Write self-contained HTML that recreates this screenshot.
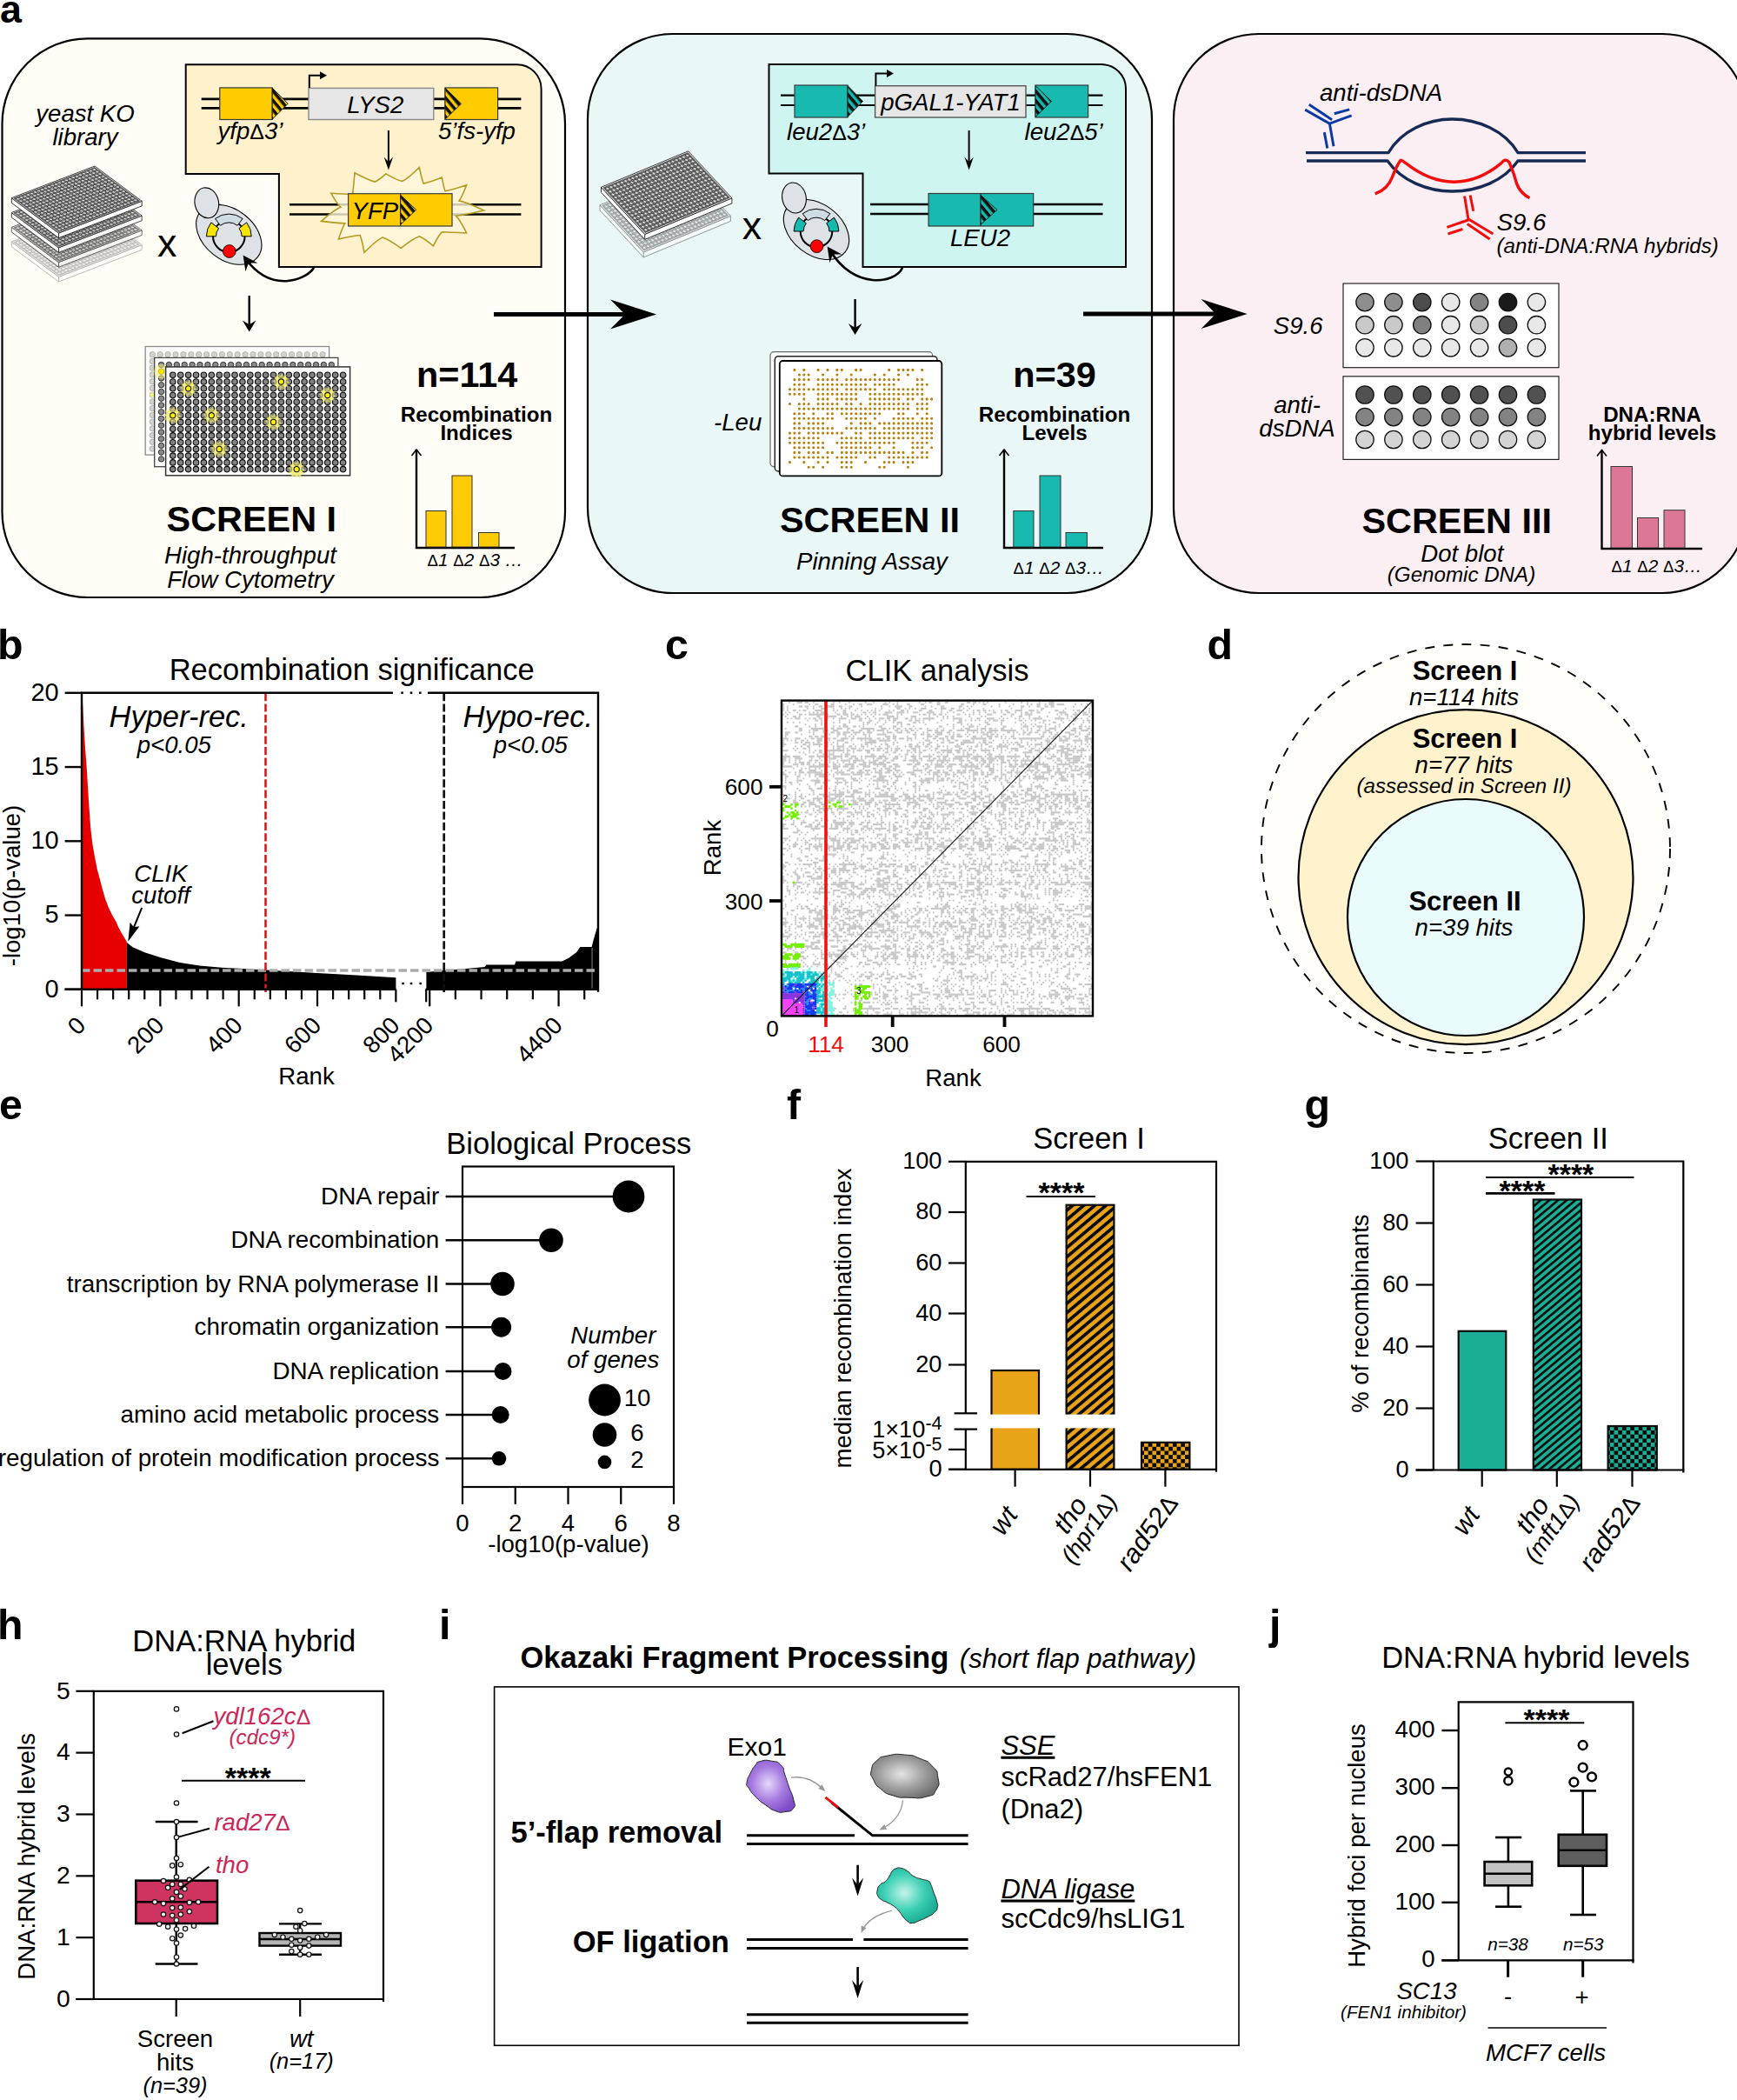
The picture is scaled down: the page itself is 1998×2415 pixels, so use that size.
<!DOCTYPE html>
<html><head><meta charset="utf-8"><title>Figure</title>
<style>html,body{margin:0;padding:0;background:#fff}svg{display:block}text{font-family:"Liberation Sans",sans-serif}</style></head>
<body>
<svg width="1998" height="2415" viewBox="0 0 1998 2415">
<defs>
<pattern id="strY" width="7" height="7" patternUnits="userSpaceOnUse" patternTransform="rotate(50)"><rect width="7" height="7" fill="#FFCC00"/><rect width="7" height="3.6" fill="#111"/></pattern>
<pattern id="strT" width="7" height="7" patternUnits="userSpaceOnUse" patternTransform="rotate(50)"><rect width="7" height="7" fill="#18B9AE"/><rect width="7" height="3.6" fill="#111"/></pattern>
<pattern id="wl" width="1" height="1" patternUnits="userSpaceOnUse"><rect width="1" height="1" fill="#efefef"/><circle cx=".5" cy=".5" r=".45" fill="#242424"/><circle cx=".5" cy=".5" r=".2" fill="#a8a8a8"/></pattern>
<pattern id="hatO" width="8.2" height="8.2" patternUnits="userSpaceOnUse" patternTransform="rotate(-40)"><rect width="8.2" height="8.2" fill="#E9A319"/><rect width="8.2" height="3.7" fill="#0a0a0a"/></pattern>
<pattern id="hatG" width="6.4" height="6.4" patternUnits="userSpaceOnUse" patternTransform="rotate(-40)"><rect width="6.4" height="6.4" fill="#1BAE96"/><rect width="6.4" height="2.6" fill="#0a0a0a"/></pattern>
<pattern id="chkO" width="9.4" height="9.4" patternUnits="userSpaceOnUse"><rect width="9.4" height="9.4" fill="#E9A319"/><rect width="4.7" height="4.7" fill="#0a0a0a"/><rect x="4.7" y="4.7" width="4.7" height="4.7" fill="#0a0a0a"/></pattern>
<pattern id="chkG" width="9.4" height="9.4" patternUnits="userSpaceOnUse"><rect width="9.4" height="9.4" fill="#1BAE96"/><rect width="4.7" height="4.7" fill="#0a0a0a"/><rect x="4.7" y="4.7" width="4.7" height="4.7" fill="#0a0a0a"/></pattern>
<radialGradient id="gP" cx="45%" cy="45%" r="60%"><stop offset="0" stop-color="#E6D8FA"/><stop offset="0.55" stop-color="#A67BE0"/><stop offset="1" stop-color="#7E4CC8"/></radialGradient>
<radialGradient id="gG" cx="45%" cy="45%" r="60%"><stop offset="0" stop-color="#E4E4E4"/><stop offset="0.6" stop-color="#9A9A9A"/><stop offset="1" stop-color="#6E6E6E"/></radialGradient>
<radialGradient id="gT" cx="45%" cy="45%" r="60%"><stop offset="0" stop-color="#C4F5EA"/><stop offset="0.55" stop-color="#3CCFB4"/><stop offset="1" stop-color="#17A890"/></radialGradient>
</defs>
<rect width="1998" height="2415" fill="#fff"/>
<text x="0" y="26.3" font-size="44.85" font-weight="bold">a</text>
<rect x="2.5" y="44.3" width="647.5" height="642.7" rx="98" ry="98" fill="#FFFDF6" stroke="#000" stroke-width="2.2"/>
<rect x="676" y="39" width="649" height="643" rx="98" ry="98" fill="#E9F7F6" stroke="#000" stroke-width="2.2"/>
<rect x="1350" y="39" width="660" height="643" rx="98" ry="98" fill="#FCEFF3" stroke="#000" stroke-width="2.2"/>
<path d="M213.7 74.2 H594.6 A28 28 0 0 1 622.6 102.2 V307 H320.9 V199.9 H213.7 Z" fill="#FEF1CB" stroke="#000" stroke-width="2"/>
<line x1="231.7" y1="113.8" x2="599.4" y2="113.8" stroke="#000" stroke-width="2.8"/>
<line x1="231.7" y1="124.4" x2="599.4" y2="124.4" stroke="#000" stroke-width="2.8"/>
<rect x="252.8" y="100.9" width="60.4" height="36.6" fill="#FFCC00" stroke="#3a3a3a" stroke-width="1.2"/>
<path d="M313.2 101.2 L331.2 119.2 L313.2 137.2 Z" fill="url(#strY)" stroke="#222" stroke-width="1"/>
<rect x="355.0" y="101.4" width="143.8" height="36.1" fill="#E6E6E6" stroke="#8a8a8a" stroke-width="1.4"/>
<path d="M355.8 101 V86.8 H369" fill="none" stroke="#000" stroke-width="2"/>
<path d="M376 86.8 L368 82.3 L368 91.3 Z" fill="#000"/>
<rect x="512.0" y="100.9" width="60.6" height="36.6" fill="#FFCC00" stroke="#3a3a3a" stroke-width="1.2"/>
<path d="M512 101.2 L530.5 119.2 L512 137.2 Z" fill="url(#strY)" stroke="#222" stroke-width="1"/>
<text x="431.8" y="129.9" font-size="27.6" text-anchor="middle" font-style="italic">LYS2</text>
<text x="250.5" y="160.3" font-size="27.6" font-style="italic">yfp<tspan font-style="normal" font-size="90%">Δ</tspan>3’</text>
<text x="504" y="160.3" font-size="27.6" font-style="italic">5’fs-yfp</text>
<line x1="446.9" y1="150" x2="446.9" y2="186.5" stroke="#000" stroke-width="2"/>
<path d="M446.9 195.5 L441.7 180.5 L446.9 186.2 L452.09999999999997 180.5 Z" fill="#000"/>
<line x1="333" y1="235.3" x2="599.4" y2="235.3" stroke="#000" stroke-width="2.6"/>
<line x1="333" y1="246.5" x2="599.4" y2="246.5" stroke="#000" stroke-width="2.6"/>
<path d="M408.0 198.7 Q423.3 207.0 431.5 209.1 Q435.8 207.2 443.9 199.9 Q456.0 206.8 462.5 208.6 Q469.4 205.4 482.3 192.5 Q485.5 207.3 487.2 211.1 Q494.6 209.7 508.3 204.1 Q510.7 216.6 512.0 219.7 Q520.6 218.3 536.7 212.8 Q531.1 227.2 528.1 230.9 Q538.0 233.1 556.5 242.0 Q535.6 247.0 524.3 248.2 Q528.7 252.2 536.7 268.0 Q518.2 267.0 508.3 266.8 Q504.8 270.0 498.4 282.8 Q487.9 273.9 482.3 271.7 Q474.9 274.4 461.2 285.3 Q447.5 275.4 440.2 272.9 Q432.8 276.4 419.1 290.3 Q415.9 274.4 414.2 270.5 Q405.5 271.4 389.4 274.9 Q394.3 260.5 396.9 256.9 Q387.3 256.4 369.6 254.4 Q384.1 241.5 391.9 238.3 Q388.0 235.1 380.8 222.2 Q396.9 223.2 405.5 223.4 Q406.4 218.5 408.0 198.7 Z" fill="#FFF8DC" fill-opacity="0.8" stroke="#B39A22" stroke-width="1.6" stroke-linejoin="miter"/>
<rect x="400.6" y="222.7" width="119.4" height="37.3" fill="#FFCC00" stroke="#3a3a3a" stroke-width="1.2"/>
<line x1="460.7" y1="222.7" x2="460.7" y2="260" stroke="#222" stroke-width="1"/>
<path d="M460.7 224.3 L478.7 241.3 L460.7 258.3 Z" fill="url(#strY)" stroke="#222" stroke-width="1"/>
<text x="404.5" y="252.4" font-size="27.6" font-style="italic">YFP</text>
<text x="98" y="140" font-size="27.6" text-anchor="middle" font-style="italic">yeast KO</text>
<text x="98" y="167" font-size="27.6" text-anchor="middle" font-style="italic">library</text>
<g opacity="0.35">
<path d="M13.3 278.1 L67.5 318.4 L163.2 281.7 V287.3 L67.5 324.0 L13.3 283.70000000000005 Z" fill="#fff" stroke="#222" stroke-width="0.9"/>
<path d="M67.5 318.4 V324.0" stroke="#222" stroke-width="0.9"/>
<path d="M13.3 278.1 L109.0 241.4 L163.2 281.7 L67.5 318.4 Z" fill="#fff" stroke="#222" stroke-width="0.9"/>
<g transform="matrix(3.9875 -1.5292 3.3875 2.5187 13.3 278.1)"><rect x="0.35" y="0.35" width="23.3" height="15.3" fill="url(#wl)" stroke="#222" stroke-width="0.12"/></g>
</g>
<g opacity="0.75">
<path d="M13.3 261.3 L67.5 301.6 L163.2 264.9 V270.5 L67.5 307.2 L13.3 266.90000000000003 Z" fill="#fff" stroke="#222" stroke-width="0.9"/>
<path d="M67.5 301.6 V307.2" stroke="#222" stroke-width="0.9"/>
<path d="M13.3 261.3 L109.0 224.6 L163.2 264.9 L67.5 301.6 Z" fill="#fff" stroke="#222" stroke-width="0.9"/>
<g transform="matrix(3.9875 -1.5292 3.3875 2.5187 13.3 261.3)"><rect x="0.35" y="0.35" width="23.3" height="15.3" fill="url(#wl)" stroke="#222" stroke-width="0.12"/></g>
</g>
<g opacity="0.92">
<path d="M13.3 244.5 L67.5 284.8 L163.2 248.1 V253.7 L67.5 290.4 L13.3 250.1 Z" fill="#fff" stroke="#222" stroke-width="0.9"/>
<path d="M67.5 284.8 V290.4" stroke="#222" stroke-width="0.9"/>
<path d="M13.3 244.5 L109.0 207.8 L163.2 248.1 L67.5 284.8 Z" fill="#fff" stroke="#222" stroke-width="0.9"/>
<g transform="matrix(3.9875 -1.5292 3.3875 2.5187 13.3 244.5)"><rect x="0.35" y="0.35" width="23.3" height="15.3" fill="url(#wl)" stroke="#222" stroke-width="0.12"/></g>
</g>
<g opacity="1">
<path d="M13.3 227.7 L67.5 268.0 L163.2 231.3 V236.9 L67.5 273.6 L13.3 233.29999999999998 Z" fill="#fff" stroke="#222" stroke-width="0.9"/>
<path d="M67.5 268.0 V273.6" stroke="#222" stroke-width="0.9"/>
<path d="M13.3 227.7 L109.0 191.0 L163.2 231.3 L67.5 268.0 Z" fill="#fff" stroke="#222" stroke-width="0.9"/>
<g transform="matrix(3.9875 -1.5292 3.3875 2.5187 13.3 227.7)"><rect x="0.35" y="0.35" width="23.3" height="15.3" fill="url(#wl)" stroke="#222" stroke-width="0.12"/></g>
</g>
<text x="192.3" y="295.3" font-size="44.85" text-anchor="middle">x</text>
<ellipse cx="263.3" cy="269.8" rx="42" ry="29" fill="#DCE2E5" stroke="#000" stroke-width="1.1" transform="rotate(38 263.3 269.8)"/>
<ellipse cx="237.8" cy="233.3" rx="13.7" ry="17.6" fill="#DCE2E5" stroke="#000" stroke-width="1.1" transform="rotate(-12 237.8 233.3)"/>
<circle cx="263.3" cy="271.8" r="18.3" fill="none" stroke="#000" stroke-width="2"/>
<circle cx="263.3" cy="271.8" r="18.3" fill="none" stroke="#E8EEF0" stroke-width="0"/>
<path d="M247.5 251.5 A25.700000000000003 25.700000000000003 0 0 1 279.1 251.5 L273.1 259.3 A15.9 15.9 0 0 0 253.5 259.3 Z" fill="#CFDDE2" stroke="#000" stroke-width="1"/>
<path d="M283.7 255.9 A25.9 25.9 0 0 1 289.2 271.8 L278.2 271.8 A14.9 14.9 0 0 0 275.0 262.6 Z" fill="#F5E400" stroke="#000" stroke-width="1"/>
<path d="M237.4 271.8 A25.9 25.9 0 0 1 242.9 255.9 L251.6 262.6 A14.9 14.9 0 0 0 248.4 271.8 Z" fill="#F5E400" stroke="#000" stroke-width="1"/>
<circle cx="263.8" cy="289.0" r="7.4" fill="#F00" stroke="#000" stroke-width="0.8"/>
<path d="M361 308 C352 322 312 338 282.5 297.5" fill="none" stroke="#000" stroke-width="2.6"/>
<path d="M0 0 L-17 -8.5 L-11 0 L-17 8.5 Z" fill="#000" transform="translate(282.5 297.5) rotate(-125) translate(5 0)"/>
<line x1="286.7" y1="340" x2="286.7" y2="373.59999999999997" stroke="#000" stroke-width="2.4"/>
<path d="M286.7 381.4 L278.9 368.4 L286.7 373.34 L294.5 368.4 Z" fill="#000"/>
<rect x="167.2" y="398.5" width="211.4" height="124.6" fill="#fff" stroke="#8a8a8a" stroke-width="1.3"/>
<circle cx="175.3" cy="407.7" r="3.2" fill="#D2D2CB" stroke="#aaa" stroke-width="0.8"/>
<circle cx="184.2" cy="407.7" r="3.2" fill="#D2D2CB" stroke="#aaa" stroke-width="0.8"/>
<circle cx="193.1" cy="407.7" r="3.2" fill="#D2D2CB" stroke="#aaa" stroke-width="0.8"/>
<circle cx="202.0" cy="407.7" r="3.2" fill="#D2D2CB" stroke="#aaa" stroke-width="0.8"/>
<circle cx="210.9" cy="407.7" r="3.2" fill="#D2D2CB" stroke="#aaa" stroke-width="0.8"/>
<circle cx="219.8" cy="407.7" r="3.2" fill="#D2D2CB" stroke="#aaa" stroke-width="0.8"/>
<circle cx="228.7" cy="407.7" r="3.2" fill="#D2D2CB" stroke="#aaa" stroke-width="0.8"/>
<circle cx="237.6" cy="407.7" r="3.2" fill="#D2D2CB" stroke="#aaa" stroke-width="0.8"/>
<circle cx="246.5" cy="407.7" r="3.2" fill="#D2D2CB" stroke="#aaa" stroke-width="0.8"/>
<circle cx="255.4" cy="407.7" r="3.2" fill="#D2D2CB" stroke="#aaa" stroke-width="0.8"/>
<circle cx="264.3" cy="407.7" r="3.2" fill="#D2D2CB" stroke="#aaa" stroke-width="0.8"/>
<circle cx="273.2" cy="407.7" r="3.2" fill="#D2D2CB" stroke="#aaa" stroke-width="0.8"/>
<circle cx="282.1" cy="407.7" r="3.2" fill="#D2D2CB" stroke="#aaa" stroke-width="0.8"/>
<circle cx="291.0" cy="407.7" r="3.2" fill="#D2D2CB" stroke="#aaa" stroke-width="0.8"/>
<circle cx="299.9" cy="407.7" r="3.2" fill="#D2D2CB" stroke="#aaa" stroke-width="0.8"/>
<circle cx="308.8" cy="407.7" r="3.2" fill="#D2D2CB" stroke="#aaa" stroke-width="0.8"/>
<circle cx="317.7" cy="407.7" r="3.2" fill="#D2D2CB" stroke="#aaa" stroke-width="0.8"/>
<circle cx="326.6" cy="407.7" r="3.2" fill="#D2D2CB" stroke="#aaa" stroke-width="0.8"/>
<circle cx="335.5" cy="407.7" r="3.2" fill="#D2D2CB" stroke="#aaa" stroke-width="0.8"/>
<circle cx="344.4" cy="407.7" r="3.2" fill="#D2D2CB" stroke="#aaa" stroke-width="0.8"/>
<circle cx="353.3" cy="407.7" r="3.2" fill="#D2D2CB" stroke="#aaa" stroke-width="0.8"/>
<circle cx="362.2" cy="407.7" r="3.2" fill="#D2D2CB" stroke="#aaa" stroke-width="0.8"/>
<circle cx="371.1" cy="407.7" r="3.2" fill="#D2D2CB" stroke="#aaa" stroke-width="0.8"/>
<circle cx="175.3" cy="415.4" r="3.2" fill="#D2D2CB" stroke="#aaa" stroke-width="0.8"/>
<circle cx="175.3" cy="423.2" r="3.2" fill="#D2D2CB" stroke="#aaa" stroke-width="0.8"/>
<circle cx="175.3" cy="430.9" r="3.2" fill="#D2D2CB" stroke="#aaa" stroke-width="0.8"/>
<circle cx="175.3" cy="438.7" r="3.2" fill="#D2D2CB" stroke="#aaa" stroke-width="0.8"/>
<circle cx="175.3" cy="446.4" r="3.2" fill="#D2D2CB" stroke="#aaa" stroke-width="0.8"/>
<circle cx="175.3" cy="454.1" r="3.2" fill="#D2D2CB" stroke="#aaa" stroke-width="0.8"/>
<circle cx="175.3" cy="461.9" r="3.2" fill="#D2D2CB" stroke="#aaa" stroke-width="0.8"/>
<circle cx="175.3" cy="469.6" r="3.2" fill="#D2D2CB" stroke="#aaa" stroke-width="0.8"/>
<circle cx="175.3" cy="477.4" r="3.2" fill="#D2D2CB" stroke="#aaa" stroke-width="0.8"/>
<circle cx="175.3" cy="485.1" r="3.2" fill="#D2D2CB" stroke="#aaa" stroke-width="0.8"/>
<circle cx="175.3" cy="492.8" r="3.2" fill="#D2D2CB" stroke="#aaa" stroke-width="0.8"/>
<circle cx="175.3" cy="500.6" r="3.2" fill="#D2D2CB" stroke="#aaa" stroke-width="0.8"/>
<circle cx="175.3" cy="508.3" r="3.2" fill="#D2D2CB" stroke="#aaa" stroke-width="0.8"/>
<circle cx="175.3" cy="516.1" r="3.2" fill="#D2D2CB" stroke="#aaa" stroke-width="0.8"/>
<circle cx="175.3" cy="454.0" r="2.8" fill="#F5F080" stroke="none" stroke-width="1"/>
<rect x="177.7" y="411.4" width="211.2" height="125.3" fill="#fff" stroke="#444" stroke-width="1.3"/>
<circle cx="185.5" cy="419.5" r="3.2" fill="#8a8a8a" stroke="#222" stroke-width="0.9"/>
<circle cx="194.4" cy="419.5" r="3.2" fill="#8a8a8a" stroke="#222" stroke-width="0.9"/>
<circle cx="203.3" cy="419.5" r="3.2" fill="#8a8a8a" stroke="#222" stroke-width="0.9"/>
<circle cx="212.2" cy="419.5" r="3.2" fill="#8a8a8a" stroke="#222" stroke-width="0.9"/>
<circle cx="221.1" cy="419.5" r="3.2" fill="#8a8a8a" stroke="#222" stroke-width="0.9"/>
<circle cx="230.0" cy="419.5" r="3.2" fill="#8a8a8a" stroke="#222" stroke-width="0.9"/>
<circle cx="238.9" cy="419.5" r="3.2" fill="#8a8a8a" stroke="#222" stroke-width="0.9"/>
<circle cx="247.8" cy="419.5" r="3.2" fill="#8a8a8a" stroke="#222" stroke-width="0.9"/>
<circle cx="256.7" cy="419.5" r="3.2" fill="#8a8a8a" stroke="#222" stroke-width="0.9"/>
<circle cx="265.6" cy="419.5" r="3.2" fill="#8a8a8a" stroke="#222" stroke-width="0.9"/>
<circle cx="274.5" cy="419.5" r="3.2" fill="#8a8a8a" stroke="#222" stroke-width="0.9"/>
<circle cx="283.4" cy="419.5" r="3.2" fill="#8a8a8a" stroke="#222" stroke-width="0.9"/>
<circle cx="292.3" cy="419.5" r="3.2" fill="#8a8a8a" stroke="#222" stroke-width="0.9"/>
<circle cx="301.2" cy="419.5" r="3.2" fill="#8a8a8a" stroke="#222" stroke-width="0.9"/>
<circle cx="310.1" cy="419.5" r="3.2" fill="#8a8a8a" stroke="#222" stroke-width="0.9"/>
<circle cx="319.0" cy="419.5" r="3.2" fill="#8a8a8a" stroke="#222" stroke-width="0.9"/>
<circle cx="327.9" cy="419.5" r="3.2" fill="#8a8a8a" stroke="#222" stroke-width="0.9"/>
<circle cx="336.8" cy="419.5" r="3.2" fill="#8a8a8a" stroke="#222" stroke-width="0.9"/>
<circle cx="345.7" cy="419.5" r="3.2" fill="#8a8a8a" stroke="#222" stroke-width="0.9"/>
<circle cx="354.6" cy="419.5" r="3.2" fill="#8a8a8a" stroke="#222" stroke-width="0.9"/>
<circle cx="363.5" cy="419.5" r="3.2" fill="#8a8a8a" stroke="#222" stroke-width="0.9"/>
<circle cx="372.4" cy="419.5" r="3.2" fill="#8a8a8a" stroke="#222" stroke-width="0.9"/>
<circle cx="381.3" cy="419.5" r="3.2" fill="#8a8a8a" stroke="#222" stroke-width="0.9"/>
<circle cx="185.5" cy="427.2" r="3.2" fill="#8a8a8a" stroke="#222" stroke-width="0.9"/>
<circle cx="185.5" cy="435.0" r="3.2" fill="#8a8a8a" stroke="#222" stroke-width="0.9"/>
<circle cx="185.5" cy="442.7" r="3.2" fill="#8a8a8a" stroke="#222" stroke-width="0.9"/>
<circle cx="185.5" cy="450.5" r="3.2" fill="#8a8a8a" stroke="#222" stroke-width="0.9"/>
<circle cx="185.5" cy="458.2" r="3.2" fill="#8a8a8a" stroke="#222" stroke-width="0.9"/>
<circle cx="185.5" cy="465.9" r="3.2" fill="#8a8a8a" stroke="#222" stroke-width="0.9"/>
<circle cx="185.5" cy="473.7" r="3.2" fill="#8a8a8a" stroke="#222" stroke-width="0.9"/>
<circle cx="185.5" cy="481.4" r="3.2" fill="#8a8a8a" stroke="#222" stroke-width="0.9"/>
<circle cx="185.5" cy="489.2" r="3.2" fill="#8a8a8a" stroke="#222" stroke-width="0.9"/>
<circle cx="185.5" cy="496.9" r="3.2" fill="#8a8a8a" stroke="#222" stroke-width="0.9"/>
<circle cx="185.5" cy="504.6" r="3.2" fill="#8a8a8a" stroke="#222" stroke-width="0.9"/>
<circle cx="185.5" cy="512.4" r="3.2" fill="#8a8a8a" stroke="#222" stroke-width="0.9"/>
<circle cx="185.5" cy="520.1" r="3.2" fill="#8a8a8a" stroke="#222" stroke-width="0.9"/>
<circle cx="185.5" cy="527.9" r="3.2" fill="#8a8a8a" stroke="#222" stroke-width="0.9"/>
<circle cx="185.5" cy="427.3" r="8.5" fill="#F3EE7A" stroke="none" stroke-width="0" opacity="0.55"/>
<circle cx="185.5" cy="427.3" r="3.0" fill="#F5E800" stroke="none" stroke-width="1"/>
<rect x="190.6" y="421.9" width="212.0" height="124.9" fill="#fff" stroke="#333" stroke-width="1.5"/>
<polygon points="262.7,516.4 258.8,518.1 261.3,521.6 257.0,521.2 257.5,525.5 254.0,523.0 252.2,526.9 250.4,523.0 247.0,525.5 247.4,521.2 243.1,521.6 245.6,518.1 241.7,516.4 245.6,514.6 243.1,511.1 247.4,511.6 247.0,507.3 250.4,509.8 252.2,505.9 254.0,509.8 257.5,507.3 257.0,511.6 261.3,511.1 258.8,514.6" fill="#F1EC7C" opacity="0.85"/>
<polygon points="333.9,439.0 330.0,440.8 332.5,444.3 328.2,443.8 328.7,448.1 325.2,445.6 323.4,449.5 321.6,445.6 318.2,448.1 318.6,443.8 314.3,444.3 316.8,440.8 312.9,439.0 316.8,437.3 314.3,433.8 318.6,434.2 318.2,429.9 321.6,432.5 323.4,428.5 325.2,432.5 328.7,429.9 328.2,434.2 332.5,433.8 330.0,437.3" fill="#F1EC7C" opacity="0.85"/>
<polygon points="325.0,485.4 321.1,487.2 323.6,490.7 319.3,490.3 319.8,494.5 316.3,492.0 314.5,495.9 312.7,492.0 309.2,494.5 309.7,490.3 305.4,490.7 307.9,487.2 304.0,485.4 307.9,483.7 305.4,480.2 309.7,480.6 309.2,476.4 312.7,478.9 314.5,474.9 316.3,478.9 319.8,476.4 319.3,480.6 323.6,480.2 321.1,483.7" fill="#F1EC7C" opacity="0.85"/>
<polygon points="209.3,477.7 205.4,479.5 207.9,483.0 203.6,482.5 204.1,486.8 200.6,484.3 198.8,488.2 197.0,484.3 193.6,486.8 194.0,482.5 189.7,483.0 192.2,479.5 188.3,477.7 192.2,476.0 189.7,472.5 194.0,472.9 193.6,468.6 197.0,471.1 198.8,467.2 200.6,471.1 204.1,468.6 203.6,472.9 207.9,472.5 205.4,476.0" fill="#F1EC7C" opacity="0.85"/>
<polygon points="387.3,454.5 383.4,456.3 385.9,459.8 381.6,459.3 382.1,463.6 378.6,461.1 376.8,465.0 375.0,461.1 371.6,463.6 372.0,459.3 367.7,459.8 370.2,456.3 366.3,454.5 370.2,452.7 367.7,449.3 372.0,449.7 371.6,445.4 375.0,447.9 376.8,444.0 378.6,447.9 382.1,445.4 381.6,449.7 385.9,449.3 383.4,452.7" fill="#F1EC7C" opacity="0.85"/>
<polygon points="253.8,477.7 249.9,479.5 252.4,483.0 248.1,482.5 248.6,486.8 245.1,484.3 243.3,488.2 241.5,484.3 238.1,486.8 238.5,482.5 234.2,483.0 236.7,479.5 232.8,477.7 236.7,476.0 234.2,472.5 238.5,472.9 238.1,468.6 241.5,471.1 243.3,467.2 245.1,471.1 248.6,468.6 248.1,472.9 252.4,472.5 249.9,476.0" fill="#F1EC7C" opacity="0.85"/>
<polygon points="227.1,446.8 223.2,448.5 225.7,452.0 221.4,451.6 221.9,455.9 218.4,453.3 216.6,457.3 214.8,453.3 211.4,455.9 211.8,451.6 207.5,452.0 210.0,448.5 206.1,446.8 210.0,445.0 207.5,441.5 211.8,442.0 211.4,437.7 214.8,440.2 216.6,436.3 218.4,440.2 221.9,437.7 221.4,442.0 225.7,441.5 223.2,445.0" fill="#F1EC7C" opacity="0.85"/>
<polygon points="351.7,539.6 347.8,541.3 350.3,544.8 346.0,544.4 346.5,548.7 343.0,546.2 341.2,550.1 339.4,546.2 336.0,548.7 336.4,544.4 332.1,544.8 334.6,541.3 330.7,539.6 334.6,537.8 332.1,534.3 336.4,534.8 336.0,530.5 339.4,533.0 341.2,529.1 343.0,533.0 346.5,530.5 346.0,534.8 350.3,534.3 347.8,537.8" fill="#F1EC7C" opacity="0.85"/>
<g fill="#828282" stroke="#0a0a0a" stroke-width="1.1">
<circle cx="198.8" cy="431.3" r="3.25"/><circle cx="207.7" cy="431.3" r="3.25"/><circle cx="216.6" cy="431.3" r="3.25"/><circle cx="225.5" cy="431.3" r="3.25"/><circle cx="234.4" cy="431.3" r="3.25"/><circle cx="243.3" cy="431.3" r="3.25"/><circle cx="252.2" cy="431.3" r="3.25"/><circle cx="261.1" cy="431.3" r="3.25"/><circle cx="270.0" cy="431.3" r="3.25"/><circle cx="278.9" cy="431.3" r="3.25"/><circle cx="287.8" cy="431.3" r="3.25"/><circle cx="296.7" cy="431.3" r="3.25"/><circle cx="305.6" cy="431.3" r="3.25"/><circle cx="314.5" cy="431.3" r="3.25"/><circle cx="323.4" cy="431.3" r="3.25"/><circle cx="332.3" cy="431.3" r="3.25"/><circle cx="341.2" cy="431.3" r="3.25"/><circle cx="350.1" cy="431.3" r="3.25"/><circle cx="359.0" cy="431.3" r="3.25"/><circle cx="367.9" cy="431.3" r="3.25"/><circle cx="376.8" cy="431.3" r="3.25"/><circle cx="385.7" cy="431.3" r="3.25"/><circle cx="394.6" cy="431.3" r="3.25"/>
<circle cx="198.8" cy="439.0" r="3.25"/><circle cx="207.7" cy="439.0" r="3.25"/><circle cx="216.6" cy="439.0" r="3.25"/><circle cx="225.5" cy="439.0" r="3.25"/><circle cx="234.4" cy="439.0" r="3.25"/><circle cx="243.3" cy="439.0" r="3.25"/><circle cx="252.2" cy="439.0" r="3.25"/><circle cx="261.1" cy="439.0" r="3.25"/><circle cx="270.0" cy="439.0" r="3.25"/><circle cx="278.9" cy="439.0" r="3.25"/><circle cx="287.8" cy="439.0" r="3.25"/><circle cx="296.7" cy="439.0" r="3.25"/><circle cx="305.6" cy="439.0" r="3.25"/><circle cx="314.5" cy="439.0" r="3.25"/><circle cx="332.3" cy="439.0" r="3.25"/><circle cx="341.2" cy="439.0" r="3.25"/><circle cx="350.1" cy="439.0" r="3.25"/><circle cx="359.0" cy="439.0" r="3.25"/><circle cx="367.9" cy="439.0" r="3.25"/><circle cx="376.8" cy="439.0" r="3.25"/><circle cx="385.7" cy="439.0" r="3.25"/><circle cx="394.6" cy="439.0" r="3.25"/>
<circle cx="198.8" cy="446.8" r="3.25"/><circle cx="207.7" cy="446.8" r="3.25"/><circle cx="225.5" cy="446.8" r="3.25"/><circle cx="234.4" cy="446.8" r="3.25"/><circle cx="243.3" cy="446.8" r="3.25"/><circle cx="252.2" cy="446.8" r="3.25"/><circle cx="261.1" cy="446.8" r="3.25"/><circle cx="270.0" cy="446.8" r="3.25"/><circle cx="278.9" cy="446.8" r="3.25"/><circle cx="287.8" cy="446.8" r="3.25"/><circle cx="296.7" cy="446.8" r="3.25"/><circle cx="305.6" cy="446.8" r="3.25"/><circle cx="314.5" cy="446.8" r="3.25"/><circle cx="323.4" cy="446.8" r="3.25"/><circle cx="332.3" cy="446.8" r="3.25"/><circle cx="341.2" cy="446.8" r="3.25"/><circle cx="350.1" cy="446.8" r="3.25"/><circle cx="359.0" cy="446.8" r="3.25"/><circle cx="367.9" cy="446.8" r="3.25"/><circle cx="376.8" cy="446.8" r="3.25"/><circle cx="385.7" cy="446.8" r="3.25"/><circle cx="394.6" cy="446.8" r="3.25"/>
<circle cx="198.8" cy="454.5" r="3.25"/><circle cx="207.7" cy="454.5" r="3.25"/><circle cx="216.6" cy="454.5" r="3.25"/><circle cx="225.5" cy="454.5" r="3.25"/><circle cx="234.4" cy="454.5" r="3.25"/><circle cx="243.3" cy="454.5" r="3.25"/><circle cx="252.2" cy="454.5" r="3.25"/><circle cx="261.1" cy="454.5" r="3.25"/><circle cx="270.0" cy="454.5" r="3.25"/><circle cx="278.9" cy="454.5" r="3.25"/><circle cx="287.8" cy="454.5" r="3.25"/><circle cx="296.7" cy="454.5" r="3.25"/><circle cx="305.6" cy="454.5" r="3.25"/><circle cx="314.5" cy="454.5" r="3.25"/><circle cx="323.4" cy="454.5" r="3.25"/><circle cx="332.3" cy="454.5" r="3.25"/><circle cx="341.2" cy="454.5" r="3.25"/><circle cx="350.1" cy="454.5" r="3.25"/><circle cx="359.0" cy="454.5" r="3.25"/><circle cx="367.9" cy="454.5" r="3.25"/><circle cx="385.7" cy="454.5" r="3.25"/><circle cx="394.6" cy="454.5" r="3.25"/>
<circle cx="198.8" cy="462.2" r="3.25"/><circle cx="207.7" cy="462.2" r="3.25"/><circle cx="216.6" cy="462.2" r="3.25"/><circle cx="225.5" cy="462.2" r="3.25"/><circle cx="234.4" cy="462.2" r="3.25"/><circle cx="243.3" cy="462.2" r="3.25"/><circle cx="252.2" cy="462.2" r="3.25"/><circle cx="261.1" cy="462.2" r="3.25"/><circle cx="270.0" cy="462.2" r="3.25"/><circle cx="278.9" cy="462.2" r="3.25"/><circle cx="287.8" cy="462.2" r="3.25"/><circle cx="296.7" cy="462.2" r="3.25"/><circle cx="305.6" cy="462.2" r="3.25"/><circle cx="314.5" cy="462.2" r="3.25"/><circle cx="323.4" cy="462.2" r="3.25"/><circle cx="332.3" cy="462.2" r="3.25"/><circle cx="341.2" cy="462.2" r="3.25"/><circle cx="350.1" cy="462.2" r="3.25"/><circle cx="359.0" cy="462.2" r="3.25"/><circle cx="367.9" cy="462.2" r="3.25"/><circle cx="376.8" cy="462.2" r="3.25"/><circle cx="385.7" cy="462.2" r="3.25"/><circle cx="394.6" cy="462.2" r="3.25"/>
<circle cx="198.8" cy="470.0" r="3.25"/><circle cx="207.7" cy="470.0" r="3.25"/><circle cx="216.6" cy="470.0" r="3.25"/><circle cx="225.5" cy="470.0" r="3.25"/><circle cx="234.4" cy="470.0" r="3.25"/><circle cx="243.3" cy="470.0" r="3.25"/><circle cx="252.2" cy="470.0" r="3.25"/><circle cx="261.1" cy="470.0" r="3.25"/><circle cx="270.0" cy="470.0" r="3.25"/><circle cx="278.9" cy="470.0" r="3.25"/><circle cx="287.8" cy="470.0" r="3.25"/><circle cx="296.7" cy="470.0" r="3.25"/><circle cx="305.6" cy="470.0" r="3.25"/><circle cx="314.5" cy="470.0" r="3.25"/><circle cx="323.4" cy="470.0" r="3.25"/><circle cx="332.3" cy="470.0" r="3.25"/><circle cx="341.2" cy="470.0" r="3.25"/><circle cx="350.1" cy="470.0" r="3.25"/><circle cx="359.0" cy="470.0" r="3.25"/><circle cx="367.9" cy="470.0" r="3.25"/><circle cx="376.8" cy="470.0" r="3.25"/><circle cx="385.7" cy="470.0" r="3.25"/><circle cx="394.6" cy="470.0" r="3.25"/>
<circle cx="207.7" cy="477.7" r="3.25"/><circle cx="216.6" cy="477.7" r="3.25"/><circle cx="225.5" cy="477.7" r="3.25"/><circle cx="234.4" cy="477.7" r="3.25"/><circle cx="252.2" cy="477.7" r="3.25"/><circle cx="261.1" cy="477.7" r="3.25"/><circle cx="270.0" cy="477.7" r="3.25"/><circle cx="278.9" cy="477.7" r="3.25"/><circle cx="287.8" cy="477.7" r="3.25"/><circle cx="296.7" cy="477.7" r="3.25"/><circle cx="305.6" cy="477.7" r="3.25"/><circle cx="314.5" cy="477.7" r="3.25"/><circle cx="323.4" cy="477.7" r="3.25"/><circle cx="332.3" cy="477.7" r="3.25"/><circle cx="341.2" cy="477.7" r="3.25"/><circle cx="350.1" cy="477.7" r="3.25"/><circle cx="359.0" cy="477.7" r="3.25"/><circle cx="367.9" cy="477.7" r="3.25"/><circle cx="376.8" cy="477.7" r="3.25"/><circle cx="385.7" cy="477.7" r="3.25"/><circle cx="394.6" cy="477.7" r="3.25"/>
<circle cx="198.8" cy="485.4" r="3.25"/><circle cx="207.7" cy="485.4" r="3.25"/><circle cx="216.6" cy="485.4" r="3.25"/><circle cx="225.5" cy="485.4" r="3.25"/><circle cx="234.4" cy="485.4" r="3.25"/><circle cx="243.3" cy="485.4" r="3.25"/><circle cx="252.2" cy="485.4" r="3.25"/><circle cx="261.1" cy="485.4" r="3.25"/><circle cx="270.0" cy="485.4" r="3.25"/><circle cx="278.9" cy="485.4" r="3.25"/><circle cx="287.8" cy="485.4" r="3.25"/><circle cx="296.7" cy="485.4" r="3.25"/><circle cx="305.6" cy="485.4" r="3.25"/><circle cx="323.4" cy="485.4" r="3.25"/><circle cx="332.3" cy="485.4" r="3.25"/><circle cx="341.2" cy="485.4" r="3.25"/><circle cx="350.1" cy="485.4" r="3.25"/><circle cx="359.0" cy="485.4" r="3.25"/><circle cx="367.9" cy="485.4" r="3.25"/><circle cx="376.8" cy="485.4" r="3.25"/><circle cx="385.7" cy="485.4" r="3.25"/><circle cx="394.6" cy="485.4" r="3.25"/>
<circle cx="198.8" cy="493.2" r="3.25"/><circle cx="207.7" cy="493.2" r="3.25"/><circle cx="216.6" cy="493.2" r="3.25"/><circle cx="225.5" cy="493.2" r="3.25"/><circle cx="234.4" cy="493.2" r="3.25"/><circle cx="243.3" cy="493.2" r="3.25"/><circle cx="252.2" cy="493.2" r="3.25"/><circle cx="261.1" cy="493.2" r="3.25"/><circle cx="270.0" cy="493.2" r="3.25"/><circle cx="278.9" cy="493.2" r="3.25"/><circle cx="287.8" cy="493.2" r="3.25"/><circle cx="296.7" cy="493.2" r="3.25"/><circle cx="305.6" cy="493.2" r="3.25"/><circle cx="314.5" cy="493.2" r="3.25"/><circle cx="323.4" cy="493.2" r="3.25"/><circle cx="332.3" cy="493.2" r="3.25"/><circle cx="341.2" cy="493.2" r="3.25"/><circle cx="350.1" cy="493.2" r="3.25"/><circle cx="359.0" cy="493.2" r="3.25"/><circle cx="367.9" cy="493.2" r="3.25"/><circle cx="376.8" cy="493.2" r="3.25"/><circle cx="385.7" cy="493.2" r="3.25"/><circle cx="394.6" cy="493.2" r="3.25"/>
<circle cx="198.8" cy="500.9" r="3.25"/><circle cx="207.7" cy="500.9" r="3.25"/><circle cx="216.6" cy="500.9" r="3.25"/><circle cx="225.5" cy="500.9" r="3.25"/><circle cx="234.4" cy="500.9" r="3.25"/><circle cx="243.3" cy="500.9" r="3.25"/><circle cx="252.2" cy="500.9" r="3.25"/><circle cx="261.1" cy="500.9" r="3.25"/><circle cx="270.0" cy="500.9" r="3.25"/><circle cx="278.9" cy="500.9" r="3.25"/><circle cx="287.8" cy="500.9" r="3.25"/><circle cx="296.7" cy="500.9" r="3.25"/><circle cx="305.6" cy="500.9" r="3.25"/><circle cx="314.5" cy="500.9" r="3.25"/><circle cx="323.4" cy="500.9" r="3.25"/><circle cx="332.3" cy="500.9" r="3.25"/><circle cx="341.2" cy="500.9" r="3.25"/><circle cx="350.1" cy="500.9" r="3.25"/><circle cx="359.0" cy="500.9" r="3.25"/><circle cx="367.9" cy="500.9" r="3.25"/><circle cx="376.8" cy="500.9" r="3.25"/><circle cx="385.7" cy="500.9" r="3.25"/><circle cx="394.6" cy="500.9" r="3.25"/>
<circle cx="198.8" cy="508.7" r="3.25"/><circle cx="207.7" cy="508.7" r="3.25"/><circle cx="216.6" cy="508.7" r="3.25"/><circle cx="225.5" cy="508.7" r="3.25"/><circle cx="234.4" cy="508.7" r="3.25"/><circle cx="243.3" cy="508.7" r="3.25"/><circle cx="252.2" cy="508.7" r="3.25"/><circle cx="261.1" cy="508.7" r="3.25"/><circle cx="270.0" cy="508.7" r="3.25"/><circle cx="278.9" cy="508.7" r="3.25"/><circle cx="287.8" cy="508.7" r="3.25"/><circle cx="296.7" cy="508.7" r="3.25"/><circle cx="305.6" cy="508.7" r="3.25"/><circle cx="314.5" cy="508.7" r="3.25"/><circle cx="323.4" cy="508.7" r="3.25"/><circle cx="332.3" cy="508.7" r="3.25"/><circle cx="341.2" cy="508.7" r="3.25"/><circle cx="350.1" cy="508.7" r="3.25"/><circle cx="359.0" cy="508.7" r="3.25"/><circle cx="367.9" cy="508.7" r="3.25"/><circle cx="376.8" cy="508.7" r="3.25"/><circle cx="385.7" cy="508.7" r="3.25"/><circle cx="394.6" cy="508.7" r="3.25"/>
<circle cx="198.8" cy="516.4" r="3.25"/><circle cx="207.7" cy="516.4" r="3.25"/><circle cx="216.6" cy="516.4" r="3.25"/><circle cx="225.5" cy="516.4" r="3.25"/><circle cx="234.4" cy="516.4" r="3.25"/><circle cx="243.3" cy="516.4" r="3.25"/><circle cx="261.1" cy="516.4" r="3.25"/><circle cx="270.0" cy="516.4" r="3.25"/><circle cx="278.9" cy="516.4" r="3.25"/><circle cx="287.8" cy="516.4" r="3.25"/><circle cx="296.7" cy="516.4" r="3.25"/><circle cx="305.6" cy="516.4" r="3.25"/><circle cx="314.5" cy="516.4" r="3.25"/><circle cx="323.4" cy="516.4" r="3.25"/><circle cx="332.3" cy="516.4" r="3.25"/><circle cx="341.2" cy="516.4" r="3.25"/><circle cx="350.1" cy="516.4" r="3.25"/><circle cx="359.0" cy="516.4" r="3.25"/><circle cx="367.9" cy="516.4" r="3.25"/><circle cx="376.8" cy="516.4" r="3.25"/><circle cx="385.7" cy="516.4" r="3.25"/><circle cx="394.6" cy="516.4" r="3.25"/>
<circle cx="198.8" cy="524.1" r="3.25"/><circle cx="207.7" cy="524.1" r="3.25"/><circle cx="216.6" cy="524.1" r="3.25"/><circle cx="225.5" cy="524.1" r="3.25"/><circle cx="234.4" cy="524.1" r="3.25"/><circle cx="243.3" cy="524.1" r="3.25"/><circle cx="252.2" cy="524.1" r="3.25"/><circle cx="261.1" cy="524.1" r="3.25"/><circle cx="270.0" cy="524.1" r="3.25"/><circle cx="278.9" cy="524.1" r="3.25"/><circle cx="287.8" cy="524.1" r="3.25"/><circle cx="296.7" cy="524.1" r="3.25"/><circle cx="305.6" cy="524.1" r="3.25"/><circle cx="314.5" cy="524.1" r="3.25"/><circle cx="323.4" cy="524.1" r="3.25"/><circle cx="332.3" cy="524.1" r="3.25"/><circle cx="341.2" cy="524.1" r="3.25"/><circle cx="350.1" cy="524.1" r="3.25"/><circle cx="359.0" cy="524.1" r="3.25"/><circle cx="367.9" cy="524.1" r="3.25"/><circle cx="376.8" cy="524.1" r="3.25"/><circle cx="385.7" cy="524.1" r="3.25"/><circle cx="394.6" cy="524.1" r="3.25"/>
<circle cx="198.8" cy="531.9" r="3.25"/><circle cx="207.7" cy="531.9" r="3.25"/><circle cx="216.6" cy="531.9" r="3.25"/><circle cx="225.5" cy="531.9" r="3.25"/><circle cx="234.4" cy="531.9" r="3.25"/><circle cx="243.3" cy="531.9" r="3.25"/><circle cx="252.2" cy="531.9" r="3.25"/><circle cx="261.1" cy="531.9" r="3.25"/><circle cx="270.0" cy="531.9" r="3.25"/><circle cx="278.9" cy="531.9" r="3.25"/><circle cx="287.8" cy="531.9" r="3.25"/><circle cx="296.7" cy="531.9" r="3.25"/><circle cx="305.6" cy="531.9" r="3.25"/><circle cx="314.5" cy="531.9" r="3.25"/><circle cx="323.4" cy="531.9" r="3.25"/><circle cx="332.3" cy="531.9" r="3.25"/><circle cx="341.2" cy="531.9" r="3.25"/><circle cx="350.1" cy="531.9" r="3.25"/><circle cx="359.0" cy="531.9" r="3.25"/><circle cx="367.9" cy="531.9" r="3.25"/><circle cx="376.8" cy="531.9" r="3.25"/><circle cx="385.7" cy="531.9" r="3.25"/><circle cx="394.6" cy="531.9" r="3.25"/>
<circle cx="198.8" cy="539.6" r="3.25"/><circle cx="207.7" cy="539.6" r="3.25"/><circle cx="216.6" cy="539.6" r="3.25"/><circle cx="225.5" cy="539.6" r="3.25"/><circle cx="234.4" cy="539.6" r="3.25"/><circle cx="243.3" cy="539.6" r="3.25"/><circle cx="252.2" cy="539.6" r="3.25"/><circle cx="261.1" cy="539.6" r="3.25"/><circle cx="270.0" cy="539.6" r="3.25"/><circle cx="278.9" cy="539.6" r="3.25"/><circle cx="287.8" cy="539.6" r="3.25"/><circle cx="296.7" cy="539.6" r="3.25"/><circle cx="305.6" cy="539.6" r="3.25"/><circle cx="314.5" cy="539.6" r="3.25"/><circle cx="323.4" cy="539.6" r="3.25"/><circle cx="332.3" cy="539.6" r="3.25"/><circle cx="350.1" cy="539.6" r="3.25"/><circle cx="359.0" cy="539.6" r="3.25"/><circle cx="367.9" cy="539.6" r="3.25"/><circle cx="376.8" cy="539.6" r="3.25"/><circle cx="385.7" cy="539.6" r="3.25"/><circle cx="394.6" cy="539.6" r="3.25"/>
</g>
<polygon points="262.3,517.7 258.9,519.1 260.3,522.6 256.6,522.1 256.1,525.8 253.1,523.5 250.9,526.5 249.5,523.0 246.0,524.5 246.5,520.8 242.8,520.3 245.1,517.3 242.1,515.1 245.5,513.6 244.1,510.2 247.8,510.7 248.3,507.0 251.3,509.2 253.5,506.3 254.9,509.7 258.4,508.3 257.9,512.0 261.6,512.5 259.3,515.4" fill="#F1EC7C" opacity="0.6"/>
<circle cx="252.2" cy="516.4" r="3.1" fill="#FFF000" stroke="#111" stroke-width="1.1"/>
<polygon points="333.5,440.4 330.1,441.8 331.5,445.2 327.8,444.7 327.3,448.5 324.3,446.2 322.1,449.1 320.7,445.7 317.2,447.1 317.7,443.4 314.0,442.9 316.3,440.0 313.3,437.7 316.7,436.3 315.3,432.8 319.0,433.3 319.5,429.6 322.5,431.9 324.7,428.9 326.1,432.4 329.6,430.9 329.1,434.6 332.8,435.1 330.5,438.1" fill="#F1EC7C" opacity="0.6"/>
<circle cx="323.4" cy="439.0" r="3.1" fill="#FFF000" stroke="#111" stroke-width="1.1"/>
<polygon points="324.6,486.8 321.2,488.2 322.6,491.6 318.9,491.2 318.4,494.9 315.4,492.6 313.2,495.6 311.8,492.1 308.3,493.5 308.8,489.8 305.1,489.4 307.4,486.4 304.4,484.1 307.8,482.7 306.4,479.2 310.1,479.7 310.6,476.0 313.6,478.3 315.8,475.3 317.2,478.8 320.7,477.3 320.2,481.1 323.9,481.5 321.6,484.5" fill="#F1EC7C" opacity="0.6"/>
<circle cx="314.5" cy="485.4" r="3.1" fill="#FFF000" stroke="#111" stroke-width="1.1"/>
<polygon points="208.9,479.0 205.5,480.5 206.9,483.9 203.2,483.4 202.7,487.1 199.7,484.8 197.5,487.8 196.1,484.4 192.6,485.8 193.1,482.1 189.4,481.6 191.7,478.7 188.7,476.4 192.1,475.0 190.7,471.5 194.4,472.0 194.9,468.3 197.9,470.6 200.1,467.6 201.5,471.1 205.0,469.6 204.5,473.3 208.2,473.8 205.9,476.8" fill="#F1EC7C" opacity="0.6"/>
<circle cx="198.8" cy="477.7" r="3.1" fill="#FFF000" stroke="#111" stroke-width="1.1"/>
<polygon points="386.9,455.8 383.5,457.3 384.9,460.7 381.2,460.2 380.7,463.9 377.7,461.6 375.5,464.6 374.1,461.2 370.6,462.6 371.1,458.9 367.4,458.4 369.7,455.5 366.7,453.2 370.1,451.8 368.7,448.3 372.4,448.8 372.9,445.1 375.9,447.4 378.1,444.4 379.5,447.9 383.0,446.4 382.5,450.1 386.2,450.6 383.9,453.6" fill="#F1EC7C" opacity="0.6"/>
<circle cx="376.8" cy="454.5" r="3.1" fill="#FFF000" stroke="#111" stroke-width="1.1"/>
<polygon points="253.4,479.0 250.0,480.5 251.4,483.9 247.7,483.4 247.2,487.1 244.2,484.8 242.0,487.8 240.6,484.4 237.1,485.8 237.6,482.1 233.9,481.6 236.2,478.7 233.2,476.4 236.6,475.0 235.2,471.5 238.9,472.0 239.4,468.3 242.4,470.6 244.6,467.6 246.0,471.1 249.5,469.6 249.0,473.3 252.7,473.8 250.4,476.8" fill="#F1EC7C" opacity="0.6"/>
<circle cx="243.3" cy="477.7" r="3.1" fill="#FFF000" stroke="#111" stroke-width="1.1"/>
<polygon points="226.7,448.1 223.3,449.5 224.7,453.0 221.0,452.5 220.5,456.2 217.5,453.9 215.3,456.9 213.9,453.4 210.4,454.9 210.9,451.2 207.2,450.7 209.5,447.7 206.5,445.4 209.9,444.0 208.5,440.6 212.2,441.1 212.7,437.3 215.7,439.6 217.9,436.7 219.3,440.1 222.8,438.7 222.3,442.4 226.0,442.9 223.7,445.8" fill="#F1EC7C" opacity="0.6"/>
<circle cx="216.6" cy="446.8" r="3.1" fill="#FFF000" stroke="#111" stroke-width="1.1"/>
<polygon points="351.3,540.9 347.9,542.3 349.3,545.8 345.6,545.3 345.1,549.0 342.1,546.7 339.9,549.7 338.5,546.2 335.0,547.7 335.5,544.0 331.8,543.5 334.1,540.5 331.1,538.3 334.5,536.8 333.1,533.4 336.8,533.9 337.3,530.2 340.3,532.5 342.5,529.5 343.9,532.9 347.4,531.5 346.9,535.2 350.6,535.7 348.3,538.6" fill="#F1EC7C" opacity="0.6"/>
<circle cx="341.2" cy="539.6" r="3.1" fill="#FFF000" stroke="#111" stroke-width="1.1"/>
<text x="289.3" y="611.2" font-size="41.4" text-anchor="middle" font-weight="bold">SCREEN I</text>
<text x="288" y="648" font-size="27.6" text-anchor="middle" font-style="italic">High-throughput</text>
<text x="288" y="676" font-size="27.6" text-anchor="middle" font-style="italic">Flow Cytometry</text>
<text x="537.2" y="445.3" font-size="41.4" text-anchor="middle" font-weight="bold">n=114</text>
<text x="548" y="485" font-size="24.15" text-anchor="middle" font-weight="bold">Recombination</text>
<text x="548" y="506" font-size="24.15" text-anchor="middle" font-weight="bold">Indices</text>
<path d="M479 517 V630 H592" fill="none" stroke="#000" stroke-width="2.4"/>
<path d="M473.5 524 L479 517 L484.5 524" fill="none" stroke="#000" stroke-width="1.6"/>
<rect x="490.0" y="587.5" width="23.0" height="41.5" fill="#FFCB05" stroke="#333" stroke-width="1"/>
<rect x="520.0" y="547.0" width="23.0" height="82.0" fill="#FFCB05" stroke="#333" stroke-width="1"/>
<rect x="550.5" y="612.5" width="23.5" height="16.5" fill="#FFCB05" stroke="#333" stroke-width="1"/>
<text x="491.5" y="651" font-size="20.7" font-style="italic"><tspan font-style="normal" font-size="90%">Δ</tspan>1 <tspan font-style="normal" font-size="90%">Δ</tspan>2 <tspan font-style="normal" font-size="90%">Δ</tspan>3 …</text>
<line x1="568" y1="361.5" x2="725" y2="361.5" stroke="#000" stroke-width="5"/>
<path d="M755 361.5 L702 344.5 L719 361.5 L702 378.5 Z" fill="#000"/>
<path d="M884.5 74 H1267 A28 28 0 0 1 1295 102 V307 H992.5 V199.5 H884.5 Z" fill="#CFF5F1" stroke="#000" stroke-width="2"/>
<line x1="898" y1="109.6" x2="1268.5" y2="109.6" stroke="#000" stroke-width="2.2"/>
<line x1="898" y1="121" x2="1268.5" y2="121" stroke="#000" stroke-width="2.2"/>
<rect x="914.0" y="98.0" width="61.0" height="37.0" fill="#18B9AE" stroke="#3a3a3a" stroke-width="1.2"/>
<path d="M975 98.5 L992.5 116.5 L975 134.5 Z" fill="url(#strT)" stroke="#222" stroke-width="1"/>
<rect x="1006.6" y="98.7" width="173.4" height="36.3" fill="#E6E6E6" stroke="#555" stroke-width="1.4"/>
<path d="M1007.4 98.5 V84.6 H1021" fill="none" stroke="#000" stroke-width="2"/>
<path d="M1028 84.6 L1020 80.1 L1020 89.1 Z" fill="#000"/>
<rect x="1191.0" y="98.0" width="60.6" height="37.0" fill="#18B9AE" stroke="#3a3a3a" stroke-width="1.2"/>
<path d="M1191 98.5 L1209.5 116.5 L1191 134.5 Z" fill="url(#strT)" stroke="#222" stroke-width="1"/>
<text x="1093.5" y="127" font-size="27.6" text-anchor="middle" font-style="italic">pGAL1-YAT1</text>
<text x="905" y="161" font-size="27.6" font-style="italic">leu2<tspan font-style="normal" font-size="90%">Δ</tspan>3’</text>
<text x="1178.5" y="161" font-size="27.6" font-style="italic">leu2<tspan font-style="normal" font-size="90%">Δ</tspan>5’</text>
<line x1="1114.6" y1="150" x2="1114.6" y2="186.5" stroke="#000" stroke-width="2"/>
<path d="M1114.6 195.5 L1109.3999999999999 180.5 L1114.6 186.2 L1119.8 180.5 Z" fill="#000"/>
<line x1="1001" y1="235" x2="1268.5" y2="235" stroke="#000" stroke-width="2.6"/>
<line x1="1001" y1="246" x2="1268.5" y2="246" stroke="#000" stroke-width="2.6"/>
<rect x="1068.0" y="222.5" width="120.7" height="37.5" fill="#18B9AE" stroke="#3a3a3a" stroke-width="1.2"/>
<line x1="1128" y1="222.5" x2="1128" y2="260" stroke="#222" stroke-width="1"/>
<path d="M1128 224.3 L1147 241.3 L1128 258.3 Z" fill="url(#strT)" stroke="#222" stroke-width="1"/>
<text x="1127.5" y="283" font-size="27.6" text-anchor="middle" font-style="italic">LEU2</text>
<g opacity="0.5">
<path d="M690 235.8 L740.2 289.9 L840.4 248.4 V254.4 L740.2 295.9 L690 241.8 Z" fill="#fff" stroke="#222" stroke-width="0.9"/>
<path d="M740.2 289.9 V295.9" stroke="#222" stroke-width="0.9"/>
<path d="M690 235.8 L790.2 194.3 L840.4 248.4 L740.2 289.9 Z" fill="#fff" stroke="#222" stroke-width="0.9"/>
<g transform="matrix(4.1750 -1.7292 3.1375 3.3813 690 235.8)"><rect x="0.35" y="0.35" width="23.3" height="15.3" fill="url(#wl)" stroke="#222" stroke-width="0.12"/></g>
</g>
<g opacity="1">
<path d="M691.5 215.3 L741.7 269.4 L841.9 227.9 V233.9 L741.7 275.4 L691.5 221.3 Z" fill="#fff" stroke="#222" stroke-width="0.9"/>
<path d="M741.7 269.4 V275.4" stroke="#222" stroke-width="0.9"/>
<path d="M691.5 215.3 L791.7 173.8 L841.9 227.9 L741.7 269.4 Z" fill="#fff" stroke="#222" stroke-width="0.9"/>
<g transform="matrix(4.1750 -1.7292 3.1375 3.3813 691.5 215.3)"><rect x="0.35" y="0.35" width="23.3" height="15.3" fill="url(#wl)" stroke="#222" stroke-width="0.12"/></g>
</g>
<text x="865" y="275.3" font-size="44.85" text-anchor="middle">x</text>
<ellipse cx="939" cy="264" rx="42" ry="29" fill="#DCE2E5" stroke="#000" stroke-width="1.1" transform="rotate(38 939 264)"/>
<ellipse cx="913.5" cy="227.5" rx="13.7" ry="17.6" fill="#DCE2E5" stroke="#000" stroke-width="1.1" transform="rotate(-12 913.5 227.5)"/>
<circle cx="939" cy="266" r="18.3" fill="none" stroke="#000" stroke-width="2"/>
<circle cx="939" cy="266" r="18.3" fill="none" stroke="#E8EEF0" stroke-width="0"/>
<path d="M923.2 245.7 A25.700000000000003 25.700000000000003 0 0 1 954.8 245.7 L948.8 253.5 A15.9 15.9 0 0 0 929.2 253.5 Z" fill="#CFDDE2" stroke="#000" stroke-width="1"/>
<path d="M959.4 250.1 A25.9 25.9 0 0 1 964.9 266.0 L953.9 266.0 A14.9 14.9 0 0 0 950.7 256.8 Z" fill="#18B9AE" stroke="#000" stroke-width="1"/>
<path d="M913.1 266.0 A25.9 25.9 0 0 1 918.6 250.1 L927.3 256.8 A14.9 14.9 0 0 0 924.1 266.0 Z" fill="#18B9AE" stroke="#000" stroke-width="1"/>
<circle cx="939.5" cy="283.2" r="7.4" fill="#F00" stroke="#000" stroke-width="0.8"/>
<path d="M1038 308 C1030 326 982 334 954.5 287.5" fill="none" stroke="#000" stroke-width="2.6"/>
<path d="M0 0 L-17 -8.5 L-11 0 L-17 8.5 Z" fill="#000" transform="translate(954.5 287.5) rotate(-125) translate(5 0)"/>
<line x1="983.6" y1="344" x2="983.6" y2="377.2" stroke="#000" stroke-width="2.4"/>
<path d="M983.6 385 L975.8000000000001 372 L983.6 376.94 L991.4 372 Z" fill="#000"/>
<rect x="886.0" y="404.7" width="186.6" height="131.9" fill="#fff" stroke="#666" stroke-width="1.2" rx="4"/>
<rect x="891.3" y="409.7" width="186.7" height="132.3" fill="#fff" stroke="#222" stroke-width="1.5" rx="4"/>
<rect x="896.8" y="415.0" width="186.5" height="132.4" fill="#fff" stroke="#000" stroke-width="1.8" rx="3.5"/>
<path d="M913.9 425.4h0M924.8 425.4h0M941.1 425.4h0M952.0 425.4h0M962.9 425.4h0M968.3 425.4h0M984.6 425.4h0M990.1 425.4h0M1022.7 425.4h0M1033.6 425.4h0M1039.0 425.4h0M1044.4 425.4h0M1049.9 425.4h0M1060.7 425.4h0M919.4 431.0h0M924.8 431.0h0M930.2 431.0h0M946.6 431.0h0M962.9 431.0h0M979.2 431.0h0M1006.4 431.0h0M1017.2 431.0h0M1033.6 431.0h0M1044.4 431.0h0M913.9 436.6h0M919.4 436.6h0M924.8 436.6h0M930.2 436.6h0M941.1 436.6h0M946.6 436.6h0M952.0 436.6h0M957.4 436.6h0M962.9 436.6h0M973.7 436.6h0M979.2 436.6h0M984.6 436.6h0M990.1 436.6h0M995.5 436.6h0M1000.9 436.6h0M1006.4 436.6h0M1011.8 436.6h0M1017.2 436.6h0M1022.7 436.6h0M1028.1 436.6h0M1033.6 436.6h0M1055.3 436.6h0M1060.7 436.6h0M913.9 442.2h0M919.4 442.2h0M924.8 442.2h0M941.1 442.2h0M946.6 442.2h0M952.0 442.2h0M957.4 442.2h0M962.9 442.2h0M968.3 442.2h0M973.7 442.2h0M979.2 442.2h0M984.6 442.2h0M990.1 442.2h0M995.5 442.2h0M1006.4 442.2h0M1011.8 442.2h0M1017.2 442.2h0M1022.7 442.2h0M1028.1 442.2h0M1055.3 442.2h0M1060.7 442.2h0M1066.2 442.2h0M908.5 447.8h0M913.9 447.8h0M919.4 447.8h0M924.8 447.8h0M930.2 447.8h0M935.7 447.8h0M941.1 447.8h0M946.6 447.8h0M952.0 447.8h0M957.4 447.8h0M962.9 447.8h0M973.7 447.8h0M979.2 447.8h0M984.6 447.8h0M990.1 447.8h0M995.5 447.8h0M1000.9 447.8h0M1006.4 447.8h0M1017.2 447.8h0M1022.7 447.8h0M1028.1 447.8h0M1033.6 447.8h0M1039.0 447.8h0M1044.4 447.8h0M1049.9 447.8h0M1055.3 447.8h0M1060.7 447.8h0M908.5 453.3h0M913.9 453.3h0M919.4 453.3h0M924.8 453.3h0M941.1 453.3h0M946.6 453.3h0M952.0 453.3h0M957.4 453.3h0M962.9 453.3h0M968.3 453.3h0M973.7 453.3h0M979.2 453.3h0M984.6 453.3h0M1000.9 453.3h0M1006.4 453.3h0M1011.8 453.3h0M1017.2 453.3h0M1022.7 453.3h0M1028.1 453.3h0M1033.6 453.3h0M1039.0 453.3h0M1044.4 453.3h0M1049.9 453.3h0M1055.3 453.3h0M1060.7 453.3h0M924.8 458.9h0M941.1 458.9h0M946.6 458.9h0M952.0 458.9h0M962.9 458.9h0M968.3 458.9h0M973.7 458.9h0M979.2 458.9h0M984.6 458.9h0M1000.9 458.9h0M1006.4 458.9h0M1011.8 458.9h0M1017.2 458.9h0M1022.7 458.9h0M1028.1 458.9h0M1033.6 458.9h0M1044.4 458.9h0M1049.9 458.9h0M1060.7 458.9h0M1066.2 458.9h0M1071.6 458.9h0M908.5 464.5h0M919.4 464.5h0M924.8 464.5h0M930.2 464.5h0M941.1 464.5h0M946.6 464.5h0M952.0 464.5h0M957.4 464.5h0M962.9 464.5h0M973.7 464.5h0M979.2 464.5h0M990.1 464.5h0M1000.9 464.5h0M1006.4 464.5h0M1011.8 464.5h0M1017.2 464.5h0M1022.7 464.5h0M1028.1 464.5h0M1033.6 464.5h0M1039.0 464.5h0M1044.4 464.5h0M1055.3 464.5h0M1060.7 464.5h0M1066.2 464.5h0M919.4 470.1h0M924.8 470.1h0M930.2 470.1h0M935.7 470.1h0M941.1 470.1h0M946.6 470.1h0M952.0 470.1h0M957.4 470.1h0M962.9 470.1h0M968.3 470.1h0M973.7 470.1h0M979.2 470.1h0M984.6 470.1h0M990.1 470.1h0M995.5 470.1h0M1000.9 470.1h0M1006.4 470.1h0M1011.8 470.1h0M1017.2 470.1h0M1022.7 470.1h0M1028.1 470.1h0M1033.6 470.1h0M1039.0 470.1h0M1044.4 470.1h0M1055.3 470.1h0M1060.7 470.1h0M1066.2 470.1h0M913.9 475.7h0M919.4 475.7h0M924.8 475.7h0M935.7 475.7h0M952.0 475.7h0M957.4 475.7h0M968.3 475.7h0M973.7 475.7h0M979.2 475.7h0M984.6 475.7h0M990.1 475.7h0M995.5 475.7h0M1000.9 475.7h0M1006.4 475.7h0M1011.8 475.7h0M1033.6 475.7h0M1039.0 475.7h0M1055.3 475.7h0M1066.2 475.7h0M913.9 481.3h0M919.4 481.3h0M924.8 481.3h0M930.2 481.3h0M935.7 481.3h0M941.1 481.3h0M946.6 481.3h0M952.0 481.3h0M957.4 481.3h0M973.7 481.3h0M979.2 481.3h0M984.6 481.3h0M990.1 481.3h0M995.5 481.3h0M1006.4 481.3h0M1028.1 481.3h0M1033.6 481.3h0M1039.0 481.3h0M1044.4 481.3h0M1049.9 481.3h0M1060.7 481.3h0M1066.2 481.3h0M1071.6 481.3h0M913.9 486.9h0M919.4 486.9h0M930.2 486.9h0M935.7 486.9h0M941.1 486.9h0M946.6 486.9h0M979.2 486.9h0M990.1 486.9h0M995.5 486.9h0M1000.9 486.9h0M1011.8 486.9h0M1017.2 486.9h0M1022.7 486.9h0M1028.1 486.9h0M1033.6 486.9h0M1039.0 486.9h0M1044.4 486.9h0M1049.9 486.9h0M1055.3 486.9h0M1060.7 486.9h0M1066.2 486.9h0M1071.6 486.9h0M913.9 492.5h0M919.4 492.5h0M924.8 492.5h0M930.2 492.5h0M935.7 492.5h0M941.1 492.5h0M946.6 492.5h0M952.0 492.5h0M957.4 492.5h0M973.7 492.5h0M979.2 492.5h0M984.6 492.5h0M990.1 492.5h0M995.5 492.5h0M1000.9 492.5h0M1006.4 492.5h0M1017.2 492.5h0M1022.7 492.5h0M1028.1 492.5h0M1033.6 492.5h0M1039.0 492.5h0M1044.4 492.5h0M1049.9 492.5h0M1055.3 492.5h0M1060.7 492.5h0M1066.2 492.5h0M1071.6 492.5h0M908.5 498.1h0M913.9 498.1h0M919.4 498.1h0M930.2 498.1h0M935.7 498.1h0M941.1 498.1h0M946.6 498.1h0M952.0 498.1h0M957.4 498.1h0M962.9 498.1h0M968.3 498.1h0M984.6 498.1h0M990.1 498.1h0M1000.9 498.1h0M1006.4 498.1h0M1011.8 498.1h0M1017.2 498.1h0M1022.7 498.1h0M1028.1 498.1h0M1033.6 498.1h0M1039.0 498.1h0M1044.4 498.1h0M1049.9 498.1h0M1055.3 498.1h0M1060.7 498.1h0M1066.2 498.1h0M1071.6 498.1h0M908.5 503.7h0M913.9 503.7h0M919.4 503.7h0M924.8 503.7h0M930.2 503.7h0M935.7 503.7h0M941.1 503.7h0M968.3 503.7h0M973.7 503.7h0M979.2 503.7h0M984.6 503.7h0M990.1 503.7h0M1000.9 503.7h0M1006.4 503.7h0M1011.8 503.7h0M1017.2 503.7h0M1022.7 503.7h0M1028.1 503.7h0M1033.6 503.7h0M1039.0 503.7h0M1044.4 503.7h0M1049.9 503.7h0M1060.7 503.7h0M1066.2 503.7h0M1071.6 503.7h0M908.5 509.2h0M913.9 509.2h0M919.4 509.2h0M924.8 509.2h0M930.2 509.2h0M935.7 509.2h0M941.1 509.2h0M946.6 509.2h0M962.9 509.2h0M968.3 509.2h0M973.7 509.2h0M979.2 509.2h0M984.6 509.2h0M990.1 509.2h0M995.5 509.2h0M1000.9 509.2h0M1006.4 509.2h0M1011.8 509.2h0M1017.2 509.2h0M1022.7 509.2h0M1028.1 509.2h0M1049.9 509.2h0M1055.3 509.2h0M1060.7 509.2h0M1066.2 509.2h0M913.9 514.8h0M919.4 514.8h0M924.8 514.8h0M930.2 514.8h0M935.7 514.8h0M941.1 514.8h0M946.6 514.8h0M968.3 514.8h0M973.7 514.8h0M979.2 514.8h0M984.6 514.8h0M990.1 514.8h0M995.5 514.8h0M1000.9 514.8h0M1011.8 514.8h0M1028.1 514.8h0M1049.9 514.8h0M1055.3 514.8h0M1060.7 514.8h0M1071.6 514.8h0M913.9 520.4h0M919.4 520.4h0M930.2 520.4h0M935.7 520.4h0M941.1 520.4h0M952.0 520.4h0M957.4 520.4h0M968.3 520.4h0M973.7 520.4h0M979.2 520.4h0M984.6 520.4h0M990.1 520.4h0M995.5 520.4h0M1000.9 520.4h0M1006.4 520.4h0M1011.8 520.4h0M1017.2 520.4h0M1022.7 520.4h0M1028.1 520.4h0M1033.6 520.4h0M1039.0 520.4h0M1049.9 520.4h0M1060.7 520.4h0M1066.2 520.4h0M913.9 526.0h0M919.4 526.0h0M924.8 526.0h0M930.2 526.0h0M935.7 526.0h0M941.1 526.0h0M946.6 526.0h0M952.0 526.0h0M962.9 526.0h0M968.3 526.0h0M973.7 526.0h0M979.2 526.0h0M984.6 526.0h0M1000.9 526.0h0M1006.4 526.0h0M1022.7 526.0h0M1028.1 526.0h0M1033.6 526.0h0M1039.0 526.0h0M1044.4 526.0h0M1049.9 526.0h0M1055.3 526.0h0M1060.7 526.0h0M1066.2 526.0h0M908.5 531.6h0M924.8 531.6h0M941.1 531.6h0M952.0 531.6h0M968.3 531.6h0M973.7 531.6h0M979.2 531.6h0M995.5 531.6h0M1017.2 531.6h0M1022.7 531.6h0M1028.1 531.6h0M1039.0 531.6h0M1044.4 531.6h0M1049.9 531.6h0M930.2 537.2h0M935.7 537.2h0M946.6 537.2h0M968.3 537.2h0M973.7 537.2h0M979.2 537.2h0M1011.8 537.2h0M1017.2 537.2h0M1044.4 537.2h0" stroke="#B87E0C" stroke-width="3.1" stroke-linecap="round" fill="none"/>
<text x="821" y="495" font-size="27.6" font-style="italic">-Leu</text>
<text x="1213" y="445.3" font-size="41.4" text-anchor="middle" font-weight="bold">n=39</text>
<text x="1213" y="485" font-size="24.15" text-anchor="middle" font-weight="bold">Recombination</text>
<text x="1213" y="506" font-size="24.15" text-anchor="middle" font-weight="bold">Levels</text>
<path d="M1155 517 V630 H1269" fill="none" stroke="#000" stroke-width="2.4"/>
<path d="M1149.5 524 L1155 517 L1160.5 524" fill="none" stroke="#000" stroke-width="1.6"/>
<rect x="1165.8" y="587.5" width="23.2" height="41.5" fill="#18B9AE" stroke="#333" stroke-width="1"/>
<rect x="1196.0" y="547.0" width="24.0" height="82.0" fill="#18B9AE" stroke="#333" stroke-width="1"/>
<rect x="1226.0" y="612.5" width="24.4" height="16.5" fill="#18B9AE" stroke="#333" stroke-width="1"/>
<text x="1165.5" y="660.3" font-size="20.7" font-style="italic"><tspan font-style="normal" font-size="90%">Δ</tspan>1 <tspan font-style="normal" font-size="90%">Δ</tspan>2 <tspan font-style="normal" font-size="90%">Δ</tspan>3…</text>
<text x="1000.5" y="612.2" font-size="41.4" text-anchor="middle" font-weight="bold">SCREEN II</text>
<text x="1003" y="654.5" font-size="27.6" text-anchor="middle" font-style="italic">Pinning Assay</text>
<line x1="1246" y1="361" x2="1404.6" y2="361" stroke="#000" stroke-width="5"/>
<path d="M1434.6 361 L1381.6 344 L1398.6 361 L1381.6 378 Z" fill="#000"/>
<text x="1518" y="115.7" font-size="27.6" font-style="italic">anti-dsDNA</text>
<path d="M1534.0 168.3 L1529.4 142.1 L1501.2 126.1 M1529.4 142.1 L1554.6 132.9 M1526.8 170.5 L1523.3 152.1 M1505.8 120.2 L1532.1 137.7 M1534.7 130.7 L1552.2 125.9" fill="none" stroke="#0B3AA5" stroke-width="3" stroke-linejoin="miter"/>
<g stroke="#172A54" stroke-width="3.3" fill="none" stroke-linejoin="round"><path d="M1502 175.6 H1597 C1612 150 1642 137 1670.5 137 C1700 137 1731 150 1746 175.6 H1824"/><path d="M1503 185 H1596 C1612 208 1642 220 1670.5 220 C1700 220 1730 208 1746 185 H1824"/></g>
<path d="M1581.7 222.8 Q1595.9 218.0 1601.4 203.8 Q1606.9 189.5 1611.3 184.1 Q1613.5 184.5 1616.7 187.4 C1637.5 203.8 1655.0 209.2 1672.5 209.2 C1690.0 209.2 1707.5 203.8 1727.2 187.4 Q1729.4 184.1 1731.6 184.1 Q1734.9 184.5 1736.4 187.4 Q1741.4 199.4 1744.7 211.4 Q1748.0 221.3 1759.4 227.8" fill="none" stroke="#F40D0D" stroke-width="3.4" stroke-linejoin="round"/>
<path d="M1684.6 225.6 L1688.9 251.9 L1717.4 269.0 M1691.1 224.5 L1694.8 242.7 M1687.8 257.4 L1713.6 274.9 M1664.4 261.3 L1688.9 253.0 M1665.5 269.0 L1682.4 263.5" fill="none" stroke="#F40D0D" stroke-width="3" stroke-linejoin="miter"/>
<text x="1721.5" y="265" font-size="27.6" font-style="italic">S9.6</text>
<text x="1721.5" y="290.5" font-size="24.15" font-style="italic">(anti-DNA:RNA hybrids)</text>
<rect x="1545.0" y="326.0" width="248.0" height="96.7" fill="#fff" stroke="#222" stroke-width="1.2"/>
<rect x="1545.0" y="432.8" width="248.0" height="95.6" fill="#fff" stroke="#222" stroke-width="1.2"/>
<circle cx="1570.0" cy="347.6" r="10.2" fill="#8e8e8e" stroke="#111" stroke-width="1.3"/>
<circle cx="1602.9" cy="347.6" r="10.2" fill="#8e8e8e" stroke="#111" stroke-width="1.3"/>
<circle cx="1635.8" cy="347.6" r="10.2" fill="#4d4d4d" stroke="#111" stroke-width="1.3"/>
<circle cx="1668.7" cy="347.6" r="10.2" fill="#e8e8e8" stroke="#111" stroke-width="1.3"/>
<circle cx="1701.6" cy="347.6" r="10.2" fill="#838383" stroke="#111" stroke-width="1.3"/>
<circle cx="1734.5" cy="347.6" r="10.2" fill="#1a1a1a" stroke="#111" stroke-width="1.3"/>
<circle cx="1767.4" cy="347.6" r="10.2" fill="#e8e8e8" stroke="#111" stroke-width="1.3"/>
<circle cx="1570.0" cy="373.7" r="10.2" fill="#c9c9c9" stroke="#111" stroke-width="1.3"/>
<circle cx="1602.9" cy="373.7" r="10.2" fill="#c9c9c9" stroke="#111" stroke-width="1.3"/>
<circle cx="1635.8" cy="373.7" r="10.2" fill="#808080" stroke="#111" stroke-width="1.3"/>
<circle cx="1668.7" cy="373.7" r="10.2" fill="#e8e8e8" stroke="#111" stroke-width="1.3"/>
<circle cx="1701.6" cy="373.7" r="10.2" fill="#c9c9c9" stroke="#111" stroke-width="1.3"/>
<circle cx="1734.5" cy="373.7" r="10.2" fill="#4d4d4d" stroke="#111" stroke-width="1.3"/>
<circle cx="1767.4" cy="373.7" r="10.2" fill="#e8e8e8" stroke="#111" stroke-width="1.3"/>
<circle cx="1570.0" cy="399.8" r="10.2" fill="#e8e8e8" stroke="#111" stroke-width="1.3"/>
<circle cx="1602.9" cy="399.8" r="10.2" fill="#e8e8e8" stroke="#111" stroke-width="1.3"/>
<circle cx="1635.8" cy="399.8" r="10.2" fill="#e8e8e8" stroke="#111" stroke-width="1.3"/>
<circle cx="1668.7" cy="399.8" r="10.2" fill="#e8e8e8" stroke="#111" stroke-width="1.3"/>
<circle cx="1701.6" cy="399.8" r="10.2" fill="#e8e8e8" stroke="#111" stroke-width="1.3"/>
<circle cx="1734.5" cy="399.8" r="10.2" fill="#b0b0b0" stroke="#111" stroke-width="1.3"/>
<circle cx="1767.4" cy="399.8" r="10.2" fill="#e8e8e8" stroke="#111" stroke-width="1.3"/>
<circle cx="1570.0" cy="454.0" r="10.2" fill="#515151" stroke="#111" stroke-width="1.3"/>
<circle cx="1602.9" cy="454.0" r="10.2" fill="#515151" stroke="#111" stroke-width="1.3"/>
<circle cx="1635.8" cy="454.0" r="10.2" fill="#515151" stroke="#111" stroke-width="1.3"/>
<circle cx="1668.7" cy="454.0" r="10.2" fill="#515151" stroke="#111" stroke-width="1.3"/>
<circle cx="1701.6" cy="454.0" r="10.2" fill="#515151" stroke="#111" stroke-width="1.3"/>
<circle cx="1734.5" cy="454.0" r="10.2" fill="#515151" stroke="#111" stroke-width="1.3"/>
<circle cx="1767.4" cy="454.0" r="10.2" fill="#515151" stroke="#111" stroke-width="1.3"/>
<circle cx="1570.0" cy="479.6" r="10.2" fill="#838383" stroke="#111" stroke-width="1.3"/>
<circle cx="1602.9" cy="479.6" r="10.2" fill="#838383" stroke="#111" stroke-width="1.3"/>
<circle cx="1635.8" cy="479.6" r="10.2" fill="#838383" stroke="#111" stroke-width="1.3"/>
<circle cx="1668.7" cy="479.6" r="10.2" fill="#838383" stroke="#111" stroke-width="1.3"/>
<circle cx="1701.6" cy="479.6" r="10.2" fill="#838383" stroke="#111" stroke-width="1.3"/>
<circle cx="1734.5" cy="479.6" r="10.2" fill="#838383" stroke="#111" stroke-width="1.3"/>
<circle cx="1767.4" cy="479.6" r="10.2" fill="#838383" stroke="#111" stroke-width="1.3"/>
<circle cx="1570.0" cy="505.5" r="10.2" fill="#d4d4d4" stroke="#111" stroke-width="1.3"/>
<circle cx="1602.9" cy="505.5" r="10.2" fill="#d4d4d4" stroke="#111" stroke-width="1.3"/>
<circle cx="1635.8" cy="505.5" r="10.2" fill="#d4d4d4" stroke="#111" stroke-width="1.3"/>
<circle cx="1668.7" cy="505.5" r="10.2" fill="#d4d4d4" stroke="#111" stroke-width="1.3"/>
<circle cx="1701.6" cy="505.5" r="10.2" fill="#d4d4d4" stroke="#111" stroke-width="1.3"/>
<circle cx="1734.5" cy="505.5" r="10.2" fill="#d4d4d4" stroke="#111" stroke-width="1.3"/>
<circle cx="1767.4" cy="505.5" r="10.2" fill="#d4d4d4" stroke="#111" stroke-width="1.3"/>
<text x="1464.8" y="383.8" font-size="27.6" font-style="italic">S9.6</text>
<text x="1492" y="475" font-size="27.6" text-anchor="middle" font-style="italic">anti-</text>
<text x="1492" y="502" font-size="27.6" text-anchor="middle" font-style="italic">dsDNA</text>
<text x="1900.5" y="485" font-size="24.15" text-anchor="middle" font-weight="bold">DNA:RNA</text>
<text x="1900.5" y="505.5" font-size="24.15" text-anchor="middle" font-weight="bold">hybrid levels</text>
<path d="M1842.5 517.6 V631 H1958" fill="none" stroke="#000" stroke-width="2.4"/>
<path d="M1837.0 524.6 L1842.5 517.6 L1848.0 524.6" fill="none" stroke="#000" stroke-width="1.6"/>
<rect x="1853.0" y="536.5" width="24.5" height="93.5" fill="#DC7896" stroke="#333" stroke-width="1"/>
<rect x="1883.5" y="595.5" width="24.1" height="34.5" fill="#DC7896" stroke="#333" stroke-width="1"/>
<rect x="1914.0" y="586.7" width="24.0" height="43.3" fill="#DC7896" stroke="#333" stroke-width="1"/>
<text x="1853.5" y="658" font-size="20.7" font-style="italic"><tspan font-style="normal" font-size="90%">Δ</tspan>1 <tspan font-style="normal" font-size="90%">Δ</tspan>2 <tspan font-style="normal" font-size="90%">Δ</tspan>3…</text>
<text x="1675.7" y="612.8" font-size="41.4" text-anchor="middle" font-weight="bold">SCREEN III</text>
<text x="1681.8" y="646" font-size="27.6" text-anchor="middle" font-style="italic">Dot blot</text>
<text x="1681" y="669" font-size="24.15" text-anchor="middle" font-style="italic">(Genomic DNA)</text>

<text x="-3" y="758.3" font-size="48.3" font-weight="bold">b</text>
<text x="404.7" y="782" font-size="34.5" text-anchor="middle">Recombination significance</text>
<path d="M94.0 1137.8 L94.0 796.8 L94.5 796.8 L95.4 813.8 L96.5 836.0 L98.1 861.6 L99.9 885.5 L101.9 919.6 L104.2 952.0 L106.4 970.7 L109.1 986.1 L111.8 999.7 L114.6 1009.9 L117.9 1022.7 L121.1 1033.8 L124.3 1042.3 L127.4 1049.1 L130.1 1054.3 L133.3 1059.4 L136.2 1066.2 L139.4 1072.2 L142.8 1078.1 L145.9 1083.2 L145.9 1137.8 Z" fill="#E60000"/>
<path d="M145.9 1137.8 L145.9 1084.1 L152.7 1089.2 L166.3 1095.2 L184.3 1101.1 L206.9 1107.1 L229.5 1110.5 L252.1 1112.6 L274.7 1113.8 L306.3 1115.6 L365.0 1119.0 L410.2 1121.6 L455.4 1124.2 L455.4 1137.8 Z" fill="#000"/>
<path d="M490.4 1137.8 L490.4 1117.9 L510.7 1115.9 L538.9 1113.8 L557.5 1112.1 L559.6 1109.6 L591.9 1109.6 L593.6 1105.5 L646.6 1105.5 L654.9 1101.3 L663.2 1095.1 L667.4 1088.9 L680.6 1088.9 L683.9 1076.5 L686.4 1068.2 L688.5 1064.0 L688.5 1137.8 Z" fill="#000"/>
<line x1="681.0362694300518" y1="1089.740932642487" x2="681.0362694300518" y2="1137.8" stroke="#888" stroke-width="1"/>
<line x1="94.0" y1="1115.9" x2="688" y2="1115.9" stroke="#acacac" stroke-width="3.5" stroke-dasharray="9.5 4"/>
<line x1="305.5" y1="797" x2="305.5" y2="1141" stroke="#D41C1C" stroke-width="2.6" stroke-dasharray="9.2 3.2"/>
<line x1="510.7" y1="797" x2="510.7" y2="1141" stroke="#111" stroke-width="2.7" stroke-dasharray="9.2 3.2"/>
<path d="M94.0 1138.8 V796.7 H452 M492 796.7 H688 V1140.8" fill="none" stroke="#000" stroke-width="2.4"/>
<rect x="461.3" y="795.5" width="2.6" height="2.4" fill="#000" stroke="none" stroke-width="0"/>
<rect x="471.7" y="795.5" width="2.6" height="2.4" fill="#000" stroke="none" stroke-width="0"/>
<rect x="482.0" y="795.5" width="2.6" height="2.4" fill="#000" stroke="none" stroke-width="0"/>
<rect x="462.3" y="1129.8" width="2.6" height="2.4" fill="#000" stroke="none" stroke-width="0"/>
<rect x="471.7" y="1129.8" width="2.6" height="2.4" fill="#000" stroke="none" stroke-width="0"/>
<rect x="482.4" y="1129.8" width="2.6" height="2.4" fill="#000" stroke="none" stroke-width="0"/>
<line x1="74.6" y1="1137.8" x2="455.5" y2="1137.8" stroke="#000" stroke-width="2.4"/>
<line x1="489.5" y1="1137.8" x2="689" y2="1137.8" stroke="#000" stroke-width="2.4"/>
<line x1="74.6" y1="1137.8" x2="94.0" y2="1137.8" stroke="#000" stroke-width="2.4"/>
<text x="67.7" y="1146.7" font-size="29" text-anchor="end">0</text>
<line x1="74.6" y1="1052.55" x2="94.0" y2="1052.55" stroke="#000" stroke-width="2.4"/>
<text x="67.7" y="1061.45" font-size="29" text-anchor="end">5</text>
<line x1="74.6" y1="967.3" x2="94.0" y2="967.3" stroke="#000" stroke-width="2.4"/>
<text x="67.7" y="976.1999999999999" font-size="29" text-anchor="end">10</text>
<line x1="74.6" y1="882.05" x2="94.0" y2="882.05" stroke="#000" stroke-width="2.4"/>
<text x="67.7" y="890.9499999999999" font-size="29" text-anchor="end">15</text>
<line x1="74.6" y1="796.8" x2="94.0" y2="796.8" stroke="#000" stroke-width="2.4"/>
<text x="67.7" y="805.6999999999999" font-size="29" text-anchor="end">20</text>
<text x="23" y="1018.5" font-size="27.6" text-anchor="middle" transform="rotate(-90 23 1018.5)">-log10(p-value)</text>
<line x1="94.0" y1="1137.8" x2="94.0" y2="1157.3" stroke="#000" stroke-width="2.2"/>
<line x1="112.068" y1="1137.8" x2="112.068" y2="1149.3" stroke="#000" stroke-width="2.2"/>
<line x1="130.136" y1="1137.8" x2="130.136" y2="1149.3" stroke="#000" stroke-width="2.2"/>
<line x1="148.204" y1="1137.8" x2="148.204" y2="1149.3" stroke="#000" stroke-width="2.2"/>
<line x1="166.272" y1="1137.8" x2="166.272" y2="1149.3" stroke="#000" stroke-width="2.2"/>
<line x1="184.34" y1="1137.8" x2="184.34" y2="1157.3" stroke="#000" stroke-width="2.2"/>
<line x1="202.40800000000002" y1="1137.8" x2="202.40800000000002" y2="1149.3" stroke="#000" stroke-width="2.2"/>
<line x1="220.476" y1="1137.8" x2="220.476" y2="1149.3" stroke="#000" stroke-width="2.2"/>
<line x1="238.54399999999998" y1="1137.8" x2="238.54399999999998" y2="1149.3" stroke="#000" stroke-width="2.2"/>
<line x1="256.61199999999997" y1="1137.8" x2="256.61199999999997" y2="1149.3" stroke="#000" stroke-width="2.2"/>
<line x1="274.68" y1="1137.8" x2="274.68" y2="1157.3" stroke="#000" stroke-width="2.2"/>
<line x1="292.748" y1="1137.8" x2="292.748" y2="1149.3" stroke="#000" stroke-width="2.2"/>
<line x1="310.81600000000003" y1="1137.8" x2="310.81600000000003" y2="1149.3" stroke="#000" stroke-width="2.2"/>
<line x1="328.884" y1="1137.8" x2="328.884" y2="1149.3" stroke="#000" stroke-width="2.2"/>
<line x1="346.952" y1="1137.8" x2="346.952" y2="1149.3" stroke="#000" stroke-width="2.2"/>
<line x1="365.02" y1="1137.8" x2="365.02" y2="1157.3" stroke="#000" stroke-width="2.2"/>
<line x1="383.08799999999997" y1="1137.8" x2="383.08799999999997" y2="1149.3" stroke="#000" stroke-width="2.2"/>
<line x1="401.156" y1="1137.8" x2="401.156" y2="1149.3" stroke="#000" stroke-width="2.2"/>
<line x1="419.224" y1="1137.8" x2="419.224" y2="1149.3" stroke="#000" stroke-width="2.2"/>
<line x1="437.292" y1="1137.8" x2="437.292" y2="1149.3" stroke="#000" stroke-width="2.2"/>
<line x1="455.36" y1="1137.8" x2="455.36" y2="1152.3" stroke="#000" stroke-width="2.2"/>
<line x1="490.2" y1="1137.8" x2="490.2" y2="1152.3" stroke="#000" stroke-width="2.2"/>
<line x1="494.2" y1="1137.8" x2="494.2" y2="1157.3" stroke="#000" stroke-width="2.2"/>
<line x1="523.87" y1="1137.8" x2="523.87" y2="1149.3" stroke="#000" stroke-width="2.2"/>
<line x1="553.54" y1="1137.8" x2="553.54" y2="1149.3" stroke="#000" stroke-width="2.2"/>
<line x1="583.21" y1="1137.8" x2="583.21" y2="1149.3" stroke="#000" stroke-width="2.2"/>
<line x1="612.88" y1="1137.8" x2="612.88" y2="1149.3" stroke="#000" stroke-width="2.2"/>
<line x1="642.55" y1="1137.8" x2="642.55" y2="1157.3" stroke="#000" stroke-width="2.2"/>
<line x1="672.22" y1="1137.8" x2="672.22" y2="1149.3" stroke="#000" stroke-width="2.2"/>
<text x="100.0" y="1180.8" font-size="27.6" text-anchor="end" transform="rotate(-45 100.0 1180.8)">0</text>
<text x="190.34" y="1180.8" font-size="27.6" text-anchor="end" transform="rotate(-45 190.34 1180.8)">200</text>
<text x="280.68" y="1180.8" font-size="27.6" text-anchor="end" transform="rotate(-45 280.68 1180.8)">400</text>
<text x="371.02" y="1180.8" font-size="27.6" text-anchor="end" transform="rotate(-45 371.02 1180.8)">600</text>
<text x="461.36" y="1180.8" font-size="27.6" text-anchor="end" transform="rotate(-45 461.36 1180.8)">800</text>
<text x="500.2" y="1180.8" font-size="27.6" text-anchor="end" transform="rotate(-45 500.2 1180.8)">4200</text>
<text x="648.55" y="1180.8" font-size="27.6" text-anchor="end" transform="rotate(-45 648.55 1180.8)">4400</text>
<text x="352.5" y="1247" font-size="27.6" text-anchor="middle">Rank</text>
<text x="125.5" y="835.7" font-size="34.5" font-style="italic">Hyper-rec.</text>
<text x="200.3" y="865.5" font-size="27.6" text-anchor="middle" font-style="italic">p&lt;0.05</text>
<text x="532.5" y="835.7" font-size="34.5" font-style="italic">Hypo-rec.</text>
<text x="610.3" y="865.5" font-size="27.6" text-anchor="middle" font-style="italic">p&lt;0.05</text>
<text x="185" y="1014.4" font-size="27.6" text-anchor="middle" font-style="italic">CLIK</text>
<text x="185" y="1039" font-size="27.6" text-anchor="middle" font-style="italic">cutoff</text>
<line x1="163.2" y1="1043.8" x2="153.5" y2="1067.5" stroke="#000" stroke-width="2"/>
<path d="M147.3 1082.8 L149.6 1060.8 L153.9 1066.3 L160.4 1065.2 Z" fill="#000"/>

<text x="765" y="758" font-size="48.3" font-weight="bold">c</text>
<text x="1078" y="783" font-size="34.5" text-anchor="middle">CLIK analysis</text>
<rect x="899.0" y="805.6" width="358.0" height="362.8" fill="#fff" stroke="none" stroke-width="0"/>
<g transform="translate(899 805.6) scale(2.3)" stroke-linecap="round" fill="none">
<path d="M4 1h0M8 1h2M12 1h1M16 1h0M22 1h0M26 1h0M29 1h0M34 1h0M42 1h0M46 1h0M52 1h0M54 1h0M58 1h0M69 1h0M72 1h0M74 1h1M78 1h1M82 1h1M93 1h1M96 1h1M99 1h0M101 1h0M103 1h0M112 1h0M120 1h0M123 1h0M129 1h0M134 1h2M155 1h0M1 2h0M6 2h0M14 2h0M17 2h1M25 2h1M32 2h0M36 2h0M39 2h1M43 2h2M51 2h2M56 2h0M58 2h0M63 2h1M70 2h1M78 2h1M90 2h1M96 2h0M101 2h1M109 2h0M116 2h0M123 2h0M125 2h0M128 2h1M132 2h0M134 2h2M138 2h3M147 2h0M150 2h0M153 2h0M155 2h0M1 3h0M3 3h0M9 3h1M12 3h1M16 3h0M19 3h1M23 3h3M29 3h1M34 3h1M40 3h0M50 3h0M54 3h0M57 3h3M64 3h1M72 3h0M75 3h0M80 3h1M89 3h1M93 3h0M95 3h0M105 3h0M109 3h0M114 3h0M120 3h1M124 3h0M128 3h1M132 3h1M135 3h1M146 3h0M152 3h0M155 3h0M1 4h0M3 4h0M13 4h0M16 4h0M20 4h1M26 4h0M30 4h0M32 4h0M34 4h0M38 4h0M47 4h0M50 4h0M58 4h1M62 4h0M64 4h0M67 4h0M70 4h2M77 4h0M80 4h2M85 4h1M89 4h0M91 4h0M94 4h0M101 4h0M115 4h0M120 4h0M130 4h1M142 4h0M152 4h0M154 4h0M1 5h0M3 5h0M6 5h1M9 5h0M11 5h1M17 5h3M22 5h0M26 5h0M28 5h0M31 5h1M37 5h0M40 5h0M43 5h0M45 5h0M47 5h0M49 5h0M54 5h0M56 5h0M60 5h1M63 5h0M69 5h1M74 5h1M80 5h0M84 5h1M88 5h2M93 5h0M96 5h0M98 5h1M101 5h1M104 5h0M106 5h0M110 5h0M112 5h1M117 5h3M124 5h2M128 5h0M130 5h0M137 5h1M141 5h0M146 5h0M148 5h1M151 5h0M154 5h0M2 6h0M4 6h0M8 6h0M14 6h0M16 6h0M18 6h0M20 6h1M27 6h0M31 6h1M35 6h0M41 6h1M44 6h0M46 6h1M52 6h3M58 6h3M63 6h0M66 6h2M73 6h3M80 6h0M83 6h0M86 6h0M91 6h0M96 6h0M99 6h0M102 6h0M106 6h1M110 6h0M113 6h1M117 6h0M120 6h0M122 6h1M125 6h0M128 6h1M134 6h0M139 6h3M147 6h0M149 6h0M151 6h1M154 6h0M1 7h0M3 7h0M9 7h1M12 7h0M14 7h9M28 7h1M31 7h2M35 7h1M38 7h0M40 7h0M42 7h0M45 7h0M47 7h0M49 7h0M51 7h2M58 7h0M60 7h0M69 7h0M71 7h1M74 7h0M76 7h1M79 7h1M82 7h0M88 7h1M92 7h0M94 7h0M96 7h0M99 7h0M103 7h2M111 7h1M115 7h1M120 7h0M122 7h3M138 7h0M140 7h0M142 7h1M146 7h2M151 7h2M155 7h0M2 8h0M6 8h1M9 8h0M18 8h1M23 8h4M30 8h0M33 8h0M35 8h0M37 8h2M43 8h0M46 8h0M53 8h3M58 8h0M65 8h2M74 8h0M78 8h0M81 8h0M83 8h0M86 8h0M94 8h0M100 8h0M102 8h0M110 8h0M115 8h0M119 8h1M124 8h0M129 8h0M133 8h0M139 8h0M143 8h0M145 8h0M147 8h0M154 8h0M3 9h0M5 9h0M7 9h2M12 9h0M14 9h0M16 9h1M19 9h1M22 9h1M26 9h0M29 9h3M35 9h2M39 9h1M42 9h0M44 9h0M47 9h0M49 9h2M53 9h1M56 9h2M62 9h1M65 9h0M67 9h0M69 9h0M71 9h5M81 9h0M83 9h0M86 9h4M95 9h0M98 9h1M103 9h3M109 9h0M111 9h0M113 9h0M117 9h0M119 9h0M121 9h0M124 9h0M126 9h4M137 9h4M143 9h0M146 9h2M150 9h0M153 9h0M13 10h0M17 10h1M20 10h0M29 10h0M34 10h0M39 10h1M44 10h1M49 10h0M52 10h0M54 10h0M56 10h1M64 10h1M67 10h2M71 10h0M74 10h0M80 10h0M86 10h0M89 10h1M92 10h0M95 10h0M97 10h0M99 10h0M102 10h0M104 10h0M106 10h2M110 10h1M119 10h1M122 10h0M125 10h0M127 10h0M131 10h1M134 10h0M140 10h0M144 10h0M146 10h1M151 10h0M153 10h1M3 11h0M6 11h0M9 11h0M20 11h0M26 11h0M29 11h0M34 11h0M41 11h0M43 11h1M48 11h0M52 11h0M56 11h0M58 11h2M66 11h1M69 11h0M71 11h0M78 11h0M88 11h2M102 11h1M110 11h0M117 11h0M121 11h0M129 11h0M131 11h0M136 11h1M141 11h0M151 11h0M154 11h0M12 12h0M17 12h0M20 12h0M31 12h1M41 12h0M43 12h0M47 12h0M51 12h0M58 12h0M60 12h0M63 12h1M72 12h0M83 12h0M86 12h0M90 12h0M93 12h0M95 12h0M99 12h0M103 12h1M110 12h0M120 12h0M122 12h0M125 12h0M127 12h0M132 12h0M134 12h0M139 12h0M146 12h0M150 12h0M7 13h1M14 13h0M17 13h0M22 13h0M26 13h0M29 13h0M31 13h2M36 13h1M39 13h0M41 13h0M49 13h1M56 13h1M60 13h0M66 13h0M79 13h1M86 13h0M91 13h0M94 13h2M98 13h0M102 13h0M111 13h1M121 13h2M126 13h0M128 13h2M132 13h0M137 13h0M139 13h0M144 13h0M149 13h1M152 13h0M154 13h0M2 14h0M9 14h1M15 14h6M25 14h1M28 14h2M33 14h1M40 14h6M50 14h2M54 14h0M56 14h0M58 14h1M62 14h0M64 14h1M67 14h0M69 14h1M73 14h0M78 14h0M81 14h0M86 14h0M90 14h0M92 14h2M98 14h0M100 14h2M104 14h1M107 14h0M110 14h1M115 14h0M120 14h0M123 14h0M125 14h0M129 14h0M132 14h0M134 14h3M142 14h0M146 14h1M149 14h1M153 14h1M9 15h1M14 15h0M16 15h2M21 15h0M23 15h0M26 15h2M33 15h0M35 15h1M39 15h1M43 15h1M46 15h0M48 15h3M53 15h0M57 15h1M60 15h0M62 15h1M65 15h1M68 15h0M73 15h2M77 15h1M80 15h1M84 15h1M88 15h3M93 15h5M100 15h0M102 15h0M104 15h4M110 15h7M121 15h0M123 15h0M125 15h0M128 15h1M132 15h2M137 15h0M140 15h0M145 15h2M150 15h3M155 15h0M2 16h2M7 16h1M14 16h0M16 16h0M21 16h0M25 16h1M28 16h1M31 16h3M36 16h3M41 16h0M43 16h2M51 16h0M53 16h2M58 16h2M63 16h1M67 16h0M71 16h0M73 16h0M77 16h3M83 16h1M86 16h0M93 16h0M96 16h0M98 16h0M100 16h1M103 16h2M107 16h0M113 16h1M116 16h0M118 16h0M121 16h1M124 16h1M127 16h1M131 16h1M134 16h1M138 16h0M142 16h2M147 16h0M149 16h0M154 16h0M2 17h1M10 17h0M16 17h0M24 17h0M28 17h1M31 17h1M35 17h0M37 17h0M41 17h1M44 17h0M48 17h4M56 17h0M66 17h1M70 17h1M73 17h1M76 17h0M78 17h2M84 17h0M86 17h0M88 17h1M92 17h0M94 17h0M101 17h2M105 17h1M108 17h0M111 17h0M116 17h0M119 17h0M121 17h0M123 17h1M129 17h0M131 17h0M135 17h0M137 17h1M144 17h2M149 17h0M153 17h1M2 18h0M14 18h1M17 18h1M20 18h1M28 18h0M32 18h0M34 18h0M36 18h0M42 18h0M44 18h0M52 18h2M56 18h1M63 18h0M67 18h0M73 18h2M77 18h1M82 18h1M85 18h1M88 18h2M93 18h0M96 18h1M100 18h0M103 18h2M107 18h1M110 18h0M112 18h0M115 18h1M130 18h1M134 18h0M136 18h1M139 18h0M141 18h1M144 18h0M147 18h1M152 18h1M1 19h2M7 19h2M12 19h0M15 19h1M18 19h2M22 19h2M26 19h1M30 19h3M35 19h1M38 19h7M48 19h1M51 19h0M53 19h1M56 19h1M59 19h2M63 19h2M67 19h0M71 19h0M73 19h0M76 19h1M79 19h2M83 19h0M85 19h1M95 19h7M104 19h1M110 19h0M112 19h0M114 19h0M116 19h1M119 19h11M133 19h0M135 19h2M139 19h1M142 19h2M149 19h0M152 19h3M1 20h0M3 20h0M5 20h0M7 20h0M10 20h1M13 20h0M18 20h2M24 20h0M28 20h3M35 20h0M40 20h0M42 20h0M44 20h3M49 20h5M57 20h0M63 20h0M65 20h0M72 20h2M78 20h0M81 20h0M83 20h1M87 20h1M91 20h3M96 20h0M101 20h1M106 20h0M111 20h0M113 20h0M120 20h0M125 20h0M127 20h0M132 20h2M139 20h4M146 20h4M152 20h1M155 20h0M1 21h0M7 21h1M10 21h0M12 21h2M16 21h0M18 21h1M22 21h1M26 21h0M28 21h0M32 21h1M42 21h5M52 21h0M56 21h0M58 21h0M69 21h0M71 21h0M74 21h1M80 21h1M84 21h2M90 21h6M99 21h0M101 21h1M104 21h1M111 21h0M113 21h0M115 21h0M117 21h1M120 21h0M123 21h0M130 21h0M133 21h1M141 21h0M147 21h0M150 21h0M153 21h0M155 21h0M1 22h1M11 22h1M14 22h0M16 22h4M22 22h1M25 22h0M28 22h0M31 22h0M36 22h0M40 22h0M42 22h1M45 22h0M50 22h0M52 22h1M56 22h0M64 22h1M68 22h0M71 22h0M73 22h1M78 22h0M88 22h0M90 22h1M98 22h0M100 22h0M102 22h1M109 22h1M112 22h0M114 22h0M116 22h0M118 22h1M123 22h0M125 22h0M127 22h3M133 22h0M135 22h0M137 22h0M143 22h1M150 22h0M152 22h0M154 22h0M1 23h0M7 23h0M10 23h0M13 23h1M19 23h0M22 23h1M26 23h0M28 23h3M34 23h1M37 23h0M40 23h1M43 23h0M47 23h0M49 23h0M53 23h1M58 23h0M62 23h0M64 23h1M67 23h2M72 23h1M75 23h0M78 23h1M81 23h0M83 23h0M87 23h2M93 23h0M95 23h0M97 23h1M100 23h0M104 23h1M108 23h5M119 23h2M124 23h0M127 23h0M130 23h0M134 23h0M136 23h1M139 23h2M143 23h0M145 23h0M147 23h0M149 23h0M153 23h0M155 23h0M6 24h0M8 24h0M11 24h1M14 24h0M22 24h0M26 24h0M28 24h1M31 24h0M33 24h0M35 24h2M39 24h0M41 24h0M45 24h1M48 24h2M52 24h1M55 24h0M57 24h2M65 24h2M69 24h0M74 24h0M77 24h1M83 24h0M85 24h0M89 24h1M94 24h1M100 24h0M102 24h0M106 24h0M108 24h0M110 24h0M113 24h0M115 24h3M122 24h0M125 24h1M129 24h0M131 24h5M140 24h4M146 24h1M150 24h1M155 24h0M1 25h2M7 25h0M14 25h0M17 25h0M19 25h1M23 25h8M33 25h1M36 25h0M38 25h2M42 25h2M46 25h0M48 25h1M51 25h0M53 25h0M55 25h0M57 25h1M60 25h0M63 25h1M66 25h1M69 25h0M71 25h1M75 25h0M77 25h0M80 25h5M87 25h2M91 25h1M94 25h0M96 25h1M100 25h4M106 25h0M110 25h0M112 25h0M115 25h0M117 25h1M124 25h1M127 25h2M132 25h2M138 25h3M143 25h3M148 25h4M154 25h0M9 26h0M11 26h0M14 26h0M16 26h0M19 26h1M22 26h0M24 26h0M26 26h0M31 26h0M33 26h0M36 26h0M43 26h1M52 26h1M56 26h1M63 26h0M65 26h0M67 26h0M69 26h1M78 26h1M81 26h0M83 26h2M88 26h1M91 26h0M93 26h0M96 26h0M102 26h0M104 26h0M110 26h0M114 26h0M121 26h4M129 26h1M133 26h0M138 26h0M140 26h3M146 26h0M148 26h0M150 26h0M2 27h0M12 27h0M18 27h0M21 27h0M24 27h2M30 27h0M32 27h2M45 27h1M51 27h0M54 27h0M59 27h0M62 27h1M66 27h0M69 27h0M74 27h0M76 27h0M80 27h0M83 27h0M86 27h0M91 27h0M93 27h2M98 27h0M103 27h2M109 27h0M117 27h0M122 27h0M128 27h0M134 27h0M136 27h0M140 27h0M142 27h3M150 27h0M155 27h0M1 28h3M6 28h3M14 28h2M18 28h6M26 28h4M32 28h1M35 28h2M40 28h0M42 28h5M49 28h3M57 28h1M60 28h0M62 28h0M65 28h2M69 28h0M71 28h4M78 28h1M81 28h2M87 28h7M96 28h4M102 28h0M104 28h1M107 28h4M113 28h6M122 28h2M126 28h0M128 28h1M132 28h0M135 28h2M140 28h0M142 28h1M146 28h4M152 28h0M154 28h1M1 29h1M4 29h0M7 29h3M15 29h0M19 29h0M24 29h3M30 29h0M34 29h1M37 29h1M40 29h0M42 29h0M46 29h0M48 29h2M52 29h1M56 29h2M62 29h0M66 29h1M69 29h1M74 29h0M76 29h1M79 29h0M81 29h1M84 29h0M86 29h4M93 29h0M95 29h3M100 29h1M103 29h4M109 29h2M115 29h0M117 29h0M121 29h0M123 29h0M126 29h1M129 29h0M133 29h2M138 29h1M142 29h7M151 29h0M154 29h1M1 30h1M4 30h0M7 30h0M9 30h0M14 30h1M17 30h1M20 30h0M22 30h0M24 30h0M28 30h0M30 30h4M36 30h5M44 30h0M46 30h2M51 30h1M55 30h1M61 30h1M64 30h4M70 30h0M73 30h3M78 30h6M86 30h0M89 30h2M93 30h1M97 30h1M100 30h2M104 30h2M108 30h0M110 30h1M113 30h1M116 30h2M120 30h6M129 30h0M136 30h0M138 30h2M143 30h1M146 30h3M154 30h1M1 31h0M4 31h0M7 31h0M9 31h2M13 31h1M17 31h0M19 31h0M22 31h0M24 31h0M26 31h0M28 31h0M31 31h0M34 31h0M36 31h1M41 31h1M44 31h3M49 31h2M53 31h1M66 31h0M68 31h1M75 31h0M78 31h0M80 31h1M83 31h0M90 31h0M94 31h1M99 31h0M101 31h1M104 31h1M110 31h2M114 31h0M117 31h0M120 31h0M122 31h0M125 31h0M127 31h2M131 31h0M137 31h0M140 31h0M142 31h0M144 31h4M150 31h1M1 32h0M6 32h2M10 32h1M13 32h1M16 32h0M19 32h4M26 32h1M29 32h0M32 32h4M39 32h3M44 32h0M46 32h6M56 32h2M63 32h2M67 32h2M72 32h1M75 32h0M77 32h3M82 32h0M84 32h3M89 32h1M92 32h1M95 32h1M98 32h0M100 32h1M103 32h1M106 32h0M108 32h0M110 32h0M114 32h1M117 32h1M120 32h5M127 32h6M138 32h6M146 32h0M153 32h2M1 33h4M8 33h0M14 33h7M23 33h1M26 33h3M31 33h2M35 33h1M38 33h0M41 33h3M48 33h0M51 33h1M54 33h1M57 33h2M66 33h1M71 33h0M73 33h1M77 33h4M83 33h2M90 33h8M100 33h0M102 33h2M106 33h0M110 33h0M112 33h0M114 33h3M119 33h2M123 33h5M131 33h3M136 33h0M138 33h0M141 33h0M144 33h1M147 33h1M150 33h0M152 33h3M6 34h0M10 34h0M12 34h0M14 34h0M17 34h0M19 34h0M22 34h0M26 34h2M34 34h2M41 34h0M46 34h1M50 34h0M52 34h2M56 34h1M66 34h0M68 34h0M72 34h1M77 34h0M83 34h0M85 34h0M92 34h0M95 34h0M97 34h2M104 34h2M110 34h0M116 34h0M118 34h0M122 34h0M124 34h0M127 34h1M133 34h1M136 34h0M138 34h1M142 34h1M145 34h0M147 34h0M149 34h2M154 34h0M2 35h0M9 35h1M14 35h3M20 35h0M22 35h0M25 35h0M28 35h0M30 35h0M33 35h1M39 35h1M42 35h2M47 35h0M49 35h1M53 35h2M57 35h2M66 35h4M72 35h0M74 35h1M78 35h1M81 35h0M84 35h1M88 35h1M91 35h1M94 35h2M100 35h0M104 35h2M108 35h0M110 35h0M112 35h0M115 35h1M118 35h0M123 35h3M128 35h1M133 35h2M138 35h1M142 35h0M145 35h4M152 35h0M154 35h1M1 36h0M4 36h0M7 36h0M9 36h2M13 36h7M22 36h1M27 36h4M35 36h1M38 36h3M43 36h0M45 36h0M47 36h3M52 36h2M56 36h0M58 36h0M60 36h0M63 36h3M70 36h0M73 36h1M76 36h3M81 36h2M86 36h0M88 36h4M94 36h0M96 36h2M100 36h1M103 36h0M105 36h1M110 36h0M113 36h2M117 36h3M122 36h0M125 36h0M127 36h1M130 36h4M137 36h5M144 36h0M150 36h1M153 36h2M1 37h1M7 37h0M9 37h0M12 37h0M14 37h0M17 37h5M24 37h0M26 37h0M28 37h0M30 37h4M36 37h4M42 37h2M49 37h1M56 37h1M59 37h0M61 37h0M65 37h2M72 37h0M74 37h0M76 37h2M80 37h0M82 37h2M86 37h1M90 37h0M96 37h2M100 37h1M103 37h2M110 37h2M115 37h0M118 37h0M123 37h0M126 37h1M129 37h0M131 37h0M134 37h0M137 37h0M139 37h1M143 37h0M145 37h1M148 37h2M152 37h3M2 38h1M8 38h1M14 38h0M17 38h0M19 38h3M26 38h0M35 38h0M40 38h0M46 38h1M49 38h3M54 38h0M57 38h3M67 38h0M69 38h0M76 38h0M78 38h1M82 38h0M86 38h0M88 38h0M91 38h0M94 38h0M96 38h0M102 38h1M107 38h1M110 38h0M112 38h0M115 38h0M117 38h0M119 38h0M121 38h1M124 38h0M127 38h4M135 38h1M140 38h1M143 38h0M145 38h1M150 38h0M154 38h1M2 39h0M8 39h0M11 39h0M18 39h0M27 39h4M35 39h2M39 39h0M42 39h0M45 39h0M48 39h3M55 39h0M58 39h0M64 39h0M70 39h0M72 39h4M78 39h0M80 39h1M83 39h1M89 39h0M92 39h0M94 39h0M96 39h1M99 39h0M101 39h0M106 39h1M109 39h1M112 39h0M114 39h0M119 39h0M121 39h0M124 39h0M126 39h7M135 39h0M139 39h3M146 39h0M154 39h0M2 40h0M8 40h2M15 40h4M22 40h2M28 40h0M31 40h1M36 40h2M40 40h0M44 40h0M46 40h7M57 40h1M64 40h0M69 40h5M76 40h0M78 40h3M83 40h0M85 40h1M88 40h0M93 40h0M96 40h1M99 40h0M102 40h0M104 40h0M107 40h0M109 40h0M112 40h1M119 40h1M128 40h0M133 40h0M138 40h0M140 40h3M146 40h0M151 40h1M2 41h0M4 41h1M8 41h0M17 41h2M21 41h1M27 41h3M32 41h1M35 41h0M39 41h0M48 41h0M51 41h0M53 41h0M56 41h1M62 41h0M66 41h1M70 41h1M73 41h1M78 41h0M85 41h0M87 41h0M89 41h2M95 41h0M100 41h0M102 41h1M110 41h0M113 41h1M117 41h0M119 41h0M126 41h0M131 41h0M137 41h0M146 41h0M151 41h0M154 41h1M5 42h0M9 42h0M13 42h0M17 42h0M28 42h0M32 42h0M35 42h0M44 42h0M46 42h0M48 42h0M53 42h0M56 42h0M62 42h0M67 42h0M70 42h0M89 42h0M91 42h2M96 42h0M99 42h0M110 42h0M119 42h0M125 42h0M129 42h0M137 42h1M146 42h0M1 43h1M14 43h0M20 43h0M27 43h0M33 43h0M35 43h0M43 43h0M48 43h0M51 43h1M55 43h0M57 43h0M66 43h1M69 43h0M81 43h0M86 43h1M89 43h0M93 43h0M95 43h1M100 43h2M111 43h0M115 43h1M119 43h1M125 43h0M127 43h3M142 43h0M144 43h0M148 43h0M150 43h0M155 43h0M2 44h0M8 44h0M14 44h1M18 44h2M24 44h0M27 44h0M31 44h0M35 44h0M39 44h1M47 44h2M53 44h1M57 44h0M60 44h0M67 44h0M69 44h0M79 44h0M89 44h0M93 44h0M102 44h1M111 44h0M123 44h2M128 44h0M130 44h1M136 44h1M143 44h0M9 45h0M15 45h1M22 45h0M26 45h1M29 45h0M33 45h0M36 45h2M44 45h0M50 45h1M54 45h0M58 45h0M63 45h0M67 45h0M69 45h0M72 45h1M80 45h0M82 45h0M90 45h1M96 45h0M100 45h0M103 45h0M111 45h0M113 45h0M118 45h0M120 45h1M123 45h2M130 45h0M132 45h1M140 45h0M142 45h0M144 45h0M146 45h0M149 45h0M151 45h2M155 45h0M7 46h0M16 46h0M24 46h0M27 46h0M29 46h2M33 46h1M36 46h4M42 46h0M44 46h0M46 46h0M49 46h0M52 46h1M57 46h0M61 46h0M67 46h0M76 46h0M78 46h2M83 46h1M86 46h0M88 46h0M90 46h0M92 46h1M96 46h1M99 46h1M110 46h0M115 46h1M118 46h0M122 46h1M126 46h1M131 46h0M135 46h1M139 46h0M146 46h1M150 46h0M1 47h0M4 47h0M7 47h0M10 47h0M14 47h0M16 47h0M19 47h3M24 47h7M35 47h1M42 47h2M47 47h0M49 47h4M55 47h1M61 47h2M66 47h0M69 47h0M71 47h0M73 47h1M76 47h0M79 47h0M81 47h4M87 47h1M91 47h1M95 47h2M100 47h0M104 47h1M110 47h2M116 47h1M119 47h1M122 47h3M127 47h0M129 47h0M132 47h1M135 47h12M150 47h0M155 47h0M7 48h0M9 48h1M12 48h0M18 48h0M21 48h3M27 48h3M32 48h4M39 48h0M42 48h0M44 48h0M47 48h9M59 48h1M62 48h2M66 48h1M69 48h5M76 48h0M81 48h0M88 48h1M93 48h1M97 48h2M102 48h2M106 48h0M110 48h1M113 48h1M116 48h2M122 48h0M125 48h4M132 48h2M136 48h0M138 48h2M142 48h1M146 48h0M148 48h0M150 48h0M152 48h1M1 49h0M3 49h1M7 49h0M10 49h1M16 49h4M22 49h0M24 49h3M29 49h0M31 49h0M36 49h0M38 49h3M45 49h1M55 49h3M62 49h4M68 49h1M73 49h3M78 49h3M86 49h0M89 49h3M95 49h2M99 49h2M104 49h0M106 49h1M110 49h0M112 49h3M120 49h1M125 49h2M129 49h3M135 49h0M137 49h1M140 49h0M142 49h2M146 49h2M150 49h0M152 49h0M154 49h0M2 50h0M6 50h1M9 50h0M13 50h1M16 50h0M18 50h1M22 50h4M28 50h3M33 50h0M35 50h2M39 50h3M44 50h2M49 50h0M51 50h2M55 50h2M59 50h0M61 50h1M64 50h0M66 50h1M69 50h2M74 50h1M77 50h0M82 50h1M85 50h1M96 50h1M100 50h0M104 50h1M109 50h0M111 50h2M115 50h0M117 50h1M122 50h4M128 50h1M132 50h0M134 50h0M136 50h1M139 50h0M142 50h2M146 50h2M150 50h2M155 50h0M1 51h1M6 51h2M11 51h1M14 51h2M19 51h1M22 51h1M31 51h0M33 51h0M36 51h2M42 51h3M47 51h0M49 51h1M52 51h0M54 51h0M58 51h0M63 51h5M72 51h0M75 51h0M78 51h4M87 51h2M92 51h3M99 51h0M101 51h3M108 51h3M114 51h2M118 51h0M120 51h2M128 51h1M132 51h1M135 51h1M139 51h1M142 51h0M144 51h1M147 51h1M153 51h2M10 52h1M14 52h3M20 52h2M31 52h1M35 52h3M40 52h0M42 52h2M47 52h1M52 52h7M63 52h1M67 52h2M74 52h0M76 52h0M78 52h0M80 52h0M82 52h4M89 52h1M92 52h1M98 52h1M101 52h0M105 52h0M108 52h0M110 52h2M115 52h0M117 52h2M123 52h0M125 52h0M129 52h2M133 52h0M136 52h2M142 52h0M144 52h0M146 52h1M150 52h0M153 52h1M10 53h0M12 53h0M14 53h0M17 53h2M21 53h0M31 53h0M35 53h0M39 53h0M41 53h0M44 53h0M47 53h0M51 53h1M54 53h0M56 53h0M59 53h0M63 53h0M66 53h1M69 53h0M76 53h0M78 53h1M81 53h0M84 53h1M93 53h0M95 53h2M101 53h4M108 53h0M110 53h2M122 53h0M124 53h0M129 53h1M132 53h0M134 53h1M137 53h1M140 53h0M144 53h0M146 53h0M148 53h1M152 53h2M16 54h0M19 54h2M23 54h2M28 54h5M36 54h0M39 54h0M41 54h0M43 54h0M48 54h1M52 54h3M58 54h2M66 54h0M69 54h0M71 54h2M77 54h1M80 54h1M83 54h0M86 54h0M88 54h0M90 54h1M95 54h1M98 54h0M103 54h1M111 54h1M114 54h0M116 54h2M121 54h0M125 54h0M127 54h2M132 54h0M134 54h1M137 54h0M139 54h1M143 54h0M147 54h3M155 54h0M13 55h0M16 55h0M18 55h1M21 55h2M25 55h0M28 55h0M31 55h0M37 55h0M40 55h0M42 55h0M46 55h0M49 55h0M51 55h2M56 55h1M62 55h1M71 55h1M74 55h0M80 55h0M93 55h0M96 55h0M99 55h1M105 55h0M111 55h1M114 55h0M120 55h0M122 55h0M124 55h0M126 55h0M128 55h1M132 55h0M135 55h0M137 55h0M142 55h0M144 55h0M148 55h0M151 55h0M154 55h0M10 56h0M12 56h1M17 56h0M19 56h1M22 56h0M25 56h1M29 56h1M33 56h2M37 56h3M43 56h1M48 56h0M52 56h0M54 56h0M57 56h1M63 56h0M66 56h1M69 56h1M74 56h1M78 56h0M84 56h2M89 56h1M94 56h4M100 56h1M103 56h2M109 56h0M111 56h0M114 56h2M118 56h0M120 56h1M124 56h2M129 56h2M135 56h4M142 56h3M147 56h1M152 56h0M154 56h0M9 57h0M14 57h1M18 57h0M26 57h0M29 57h0M35 57h1M38 57h0M40 57h0M43 57h0M45 57h1M49 57h0M52 57h0M54 57h0M57 57h1M61 57h1M70 57h0M72 57h0M75 57h1M78 57h0M80 57h4M86 57h0M91 57h0M95 57h2M105 57h0M107 57h0M109 57h2M114 57h0M117 57h0M120 57h0M124 57h0M127 57h0M135 57h1M141 57h0M144 57h0M150 57h0M153 57h0M155 57h0M12 58h0M17 58h0M22 58h0M27 58h0M33 58h1M36 58h0M41 58h0M43 58h1M46 58h0M50 58h0M52 58h0M60 58h0M62 58h1M69 58h0M71 58h1M74 58h0M76 58h0M81 58h0M83 58h0M91 58h0M93 58h0M100 58h1M107 58h0M109 58h0M117 58h0M120 58h1M127 58h0M139 58h0M149 58h0M9 59h0M20 59h0M29 59h0M31 59h0M38 59h0M47 59h0M50 59h0M57 59h0M67 59h0M69 59h1M73 59h2M81 59h1M86 59h0M89 59h1M95 59h0M97 59h0M100 59h0M102 59h0M107 59h0M111 59h1M114 59h1M119 59h0M123 59h0M125 59h0M128 59h0M136 59h2M148 59h0M150 59h0M153 59h0M2 60h0M6 60h0M11 60h0M17 60h1M20 60h0M23 60h0M26 60h1M31 60h0M33 60h0M35 60h0M42 60h0M44 60h0M50 60h0M61 60h0M63 60h0M67 60h1M71 60h0M75 60h0M81 60h0M87 60h2M91 60h0M95 60h0M100 60h1M108 60h2M115 60h0M119 60h2M128 60h1M134 60h0M137 60h0M139 60h1M143 60h0M153 60h1M6 61h0M10 61h2M16 61h0M19 61h0M22 61h0M26 61h6M34 61h2M40 61h1M43 61h1M48 61h0M50 61h1M54 61h0M57 61h1M61 61h0M63 61h0M66 61h2M70 61h2M74 61h1M77 61h0M81 61h0M83 61h0M87 61h0M90 61h0M96 61h2M102 61h0M104 61h0M109 61h0M111 61h1M117 61h0M119 61h0M123 61h1M128 61h1M131 61h1M135 61h7M144 61h2M148 61h2M153 61h2M1 62h1M5 62h1M10 62h0M14 62h1M18 62h1M25 62h0M27 62h4M34 62h2M39 62h1M43 62h0M46 62h4M52 62h0M54 62h0M56 62h0M63 62h0M67 62h0M70 62h0M73 62h1M76 62h0M78 62h0M80 62h0M82 62h2M86 62h0M89 62h0M93 62h0M96 62h0M100 62h0M105 62h0M109 62h1M112 62h0M114 62h0M117 62h1M122 62h2M128 62h0M131 62h0M135 62h0M137 62h4M144 62h1M147 62h0M154 62h0M1 63h0M7 63h0M12 63h3M17 63h1M20 63h2M25 63h0M27 63h1M30 63h0M33 63h0M35 63h0M41 63h2M45 63h0M50 63h0M54 63h0M56 63h1M59 63h1M65 63h2M69 63h2M73 63h2M78 63h1M82 63h0M85 63h0M88 63h0M93 63h1M96 63h0M101 63h1M110 63h0M112 63h0M115 63h0M117 63h0M119 63h1M122 63h0M124 63h0M126 63h0M128 63h0M131 63h0M135 63h3M143 63h0M147 63h0M150 63h0M152 63h0M154 63h0M1 64h2M8 64h0M15 64h4M24 64h4M31 64h3M40 64h1M43 64h2M47 64h5M54 64h0M56 64h2M62 64h1M66 64h0M71 64h3M76 64h0M78 64h0M80 64h4M86 64h0M90 64h0M92 64h3M97 64h0M102 64h2M106 64h0M110 64h2M117 64h1M122 64h1M128 64h0M131 64h0M135 64h1M138 64h1M142 64h0M144 64h2M148 64h0M153 64h1M8 65h1M16 65h0M31 65h0M33 65h0M35 65h0M37 65h1M40 65h0M42 65h0M44 65h0M46 65h0M49 65h0M53 65h1M56 65h1M60 65h0M64 65h0M69 65h0M76 65h0M80 65h0M82 65h0M86 65h0M90 65h0M93 65h0M99 65h0M103 65h0M108 65h0M110 65h0M122 65h0M131 65h0M134 65h0M137 65h0M146 65h0M150 65h0M154 65h0M6 66h2M10 66h0M13 66h0M23 66h0M29 66h0M33 66h0M35 66h0M37 66h1M41 66h0M46 66h0M54 66h0M59 66h1M63 66h0M69 66h1M72 66h1M76 66h1M79 66h1M84 66h0M88 66h0M93 66h0M95 66h1M101 66h2M109 66h1M114 66h0M119 66h0M121 66h1M127 66h0M133 66h3M142 66h1M147 66h0M149 66h1M152 66h3M9 67h0M12 67h0M18 67h0M23 67h0M28 67h0M35 67h1M39 67h0M48 67h2M52 67h0M56 67h2M63 67h2M67 67h3M72 67h1M89 67h0M95 67h1M103 67h1M110 67h0M112 67h0M120 67h1M124 67h0M127 67h1M132 67h0M136 67h0M140 67h0M142 67h0M145 67h1M4 68h0M17 68h0M24 68h0M27 68h0M43 68h0M48 68h0M52 68h0M56 68h1M66 68h0M68 68h0M71 68h0M73 68h0M78 68h0M87 68h0M90 68h1M97 68h0M102 68h1M106 68h1M114 68h1M134 68h0M136 68h0M139 68h1M143 68h1M146 68h0M148 68h0M1 69h2M8 69h0M11 69h0M15 69h6M24 69h3M29 69h0M31 69h0M33 69h3M39 69h2M45 69h0M47 69h0M49 69h0M51 69h1M54 69h0M57 69h1M62 69h1M67 69h3M72 69h4M80 69h1M84 69h0M88 69h2M92 69h2M96 69h1M99 69h1M104 69h1M109 69h0M111 69h1M115 69h1M118 69h0M120 69h0M122 69h0M124 69h0M126 69h1M129 69h5M136 69h1M140 69h0M142 69h0M145 69h1M150 69h2M154 69h0M2 70h0M4 70h0M8 70h0M10 70h0M12 70h0M14 70h0M17 70h0M19 70h0M22 70h0M25 70h4M32 70h1M35 70h4M41 70h0M50 70h2M55 70h0M57 70h0M60 70h1M63 70h0M65 70h0M67 70h1M74 70h0M76 70h0M79 70h0M82 70h3M89 70h2M93 70h0M96 70h0M99 70h1M102 70h4M112 70h0M117 70h2M121 70h0M125 70h2M132 70h6M140 70h1M143 70h0M146 70h1M151 70h0M153 70h0M155 70h0M1 71h0M7 71h0M12 71h1M19 71h0M26 71h0M28 71h1M31 71h1M34 71h3M39 71h0M42 71h0M44 71h1M48 71h1M52 71h1M59 71h0M61 71h4M67 71h1M70 71h0M72 71h0M74 71h0M76 71h1M80 71h1M85 71h0M89 71h0M96 71h5M104 71h0M109 71h0M113 71h0M116 71h1M119 71h1M122 71h1M126 71h0M131 71h0M137 71h0M139 71h0M141 71h0M143 71h0M146 71h1M149 71h0M154 71h0M3 72h0M6 72h2M12 72h0M14 72h1M17 72h0M19 72h1M23 72h0M26 72h0M28 72h1M31 72h0M33 72h1M38 72h0M41 72h0M45 72h2M49 72h2M53 72h0M56 72h2M62 72h1M70 72h0M72 72h1M76 72h0M78 72h3M86 72h0M89 72h1M92 72h1M96 72h0M98 72h3M103 72h2M107 72h0M111 72h0M113 72h0M115 72h0M121 72h1M125 72h2M129 72h2M133 72h0M135 72h0M141 72h0M143 72h0M146 72h3M153 72h0M4 73h0M6 73h1M10 73h0M14 73h0M16 73h4M22 73h4M28 73h3M33 73h2M38 73h0M40 73h3M45 73h2M50 73h2M54 73h0M56 73h3M62 73h2M66 73h0M70 73h0M73 73h2M78 73h6M89 73h3M95 73h0M99 73h2M103 73h2M110 73h0M112 73h5M121 73h0M124 73h1M128 73h3M134 73h0M136 73h1M139 73h0M142 73h1M145 73h1M150 73h0M152 73h0M155 73h0M1 74h1M4 74h0M9 74h0M12 74h2M17 74h1M20 74h0M23 74h1M26 74h4M33 74h1M36 74h2M41 74h0M43 74h0M45 74h0M47 74h0M50 74h4M56 74h1M59 74h0M67 74h4M73 74h2M77 74h1M81 74h1M85 74h2M89 74h1M93 74h3M99 74h0M101 74h2M105 74h0M109 74h0M112 74h7M122 74h3M127 74h4M134 74h0M136 74h2M140 74h1M146 74h0M148 74h0M153 74h0M155 74h0M3 75h0M10 75h0M14 75h0M18 75h0M20 75h0M22 75h0M24 75h0M26 75h1M30 75h0M32 75h0M34 75h0M41 75h0M44 75h1M49 75h0M61 75h0M65 75h0M67 75h0M69 75h0M73 75h1M76 75h0M79 75h1M82 75h0M86 75h0M91 75h0M95 75h1M99 75h2M105 75h0M108 75h0M110 75h0M113 75h1M119 75h1M125 75h1M129 75h0M133 75h0M135 75h1M138 75h0M142 75h2M146 75h0M149 75h0M153 75h0M155 75h0M10 76h0M28 76h0M35 76h1M51 76h0M53 76h0M64 76h0M73 76h0M80 76h1M85 76h0M94 76h0M102 76h0M112 76h0M130 76h0M134 76h0M137 76h0M140 76h0M143 76h1M147 76h0M150 76h0M154 76h1M1 77h0M5 77h0M15 77h0M23 77h4M31 77h0M40 77h1M51 77h0M53 77h0M56 77h0M62 77h0M73 77h1M80 77h1M92 77h3M97 77h0M103 77h0M105 77h2M109 77h0M111 77h0M113 77h0M123 77h0M128 77h0M132 77h0M134 77h1M138 77h0M140 77h0M152 77h0M5 78h0M12 78h1M21 78h0M26 78h0M31 78h0M33 78h0M40 78h0M50 78h1M57 78h0M63 78h0M67 78h0M72 78h0M79 78h0M81 78h1M89 78h0M93 78h0M104 78h0M110 78h0M120 78h3M127 78h1M134 78h0M139 78h0M150 78h0M154 78h0M8 79h1M17 79h1M21 79h0M29 79h0M31 79h0M33 79h0M43 79h2M49 79h3M55 79h0M67 79h0M70 79h0M73 79h1M76 79h0M81 79h0M94 79h1M98 79h0M100 79h0M103 79h1M122 79h0M134 79h0M136 79h1M148 79h0M152 79h0M9 80h1M13 80h0M15 80h0M19 80h2M32 80h1M35 80h0M40 80h0M45 80h0M48 80h0M53 80h0M56 80h1M59 80h0M63 80h0M75 80h1M78 80h0M80 80h0M91 80h0M96 80h1M100 80h0M105 80h0M111 80h0M114 80h1M119 80h0M127 80h1M131 80h1M134 80h0M136 80h0M144 80h1M149 80h2M154 80h1M2 81h1M16 81h2M31 81h0M34 81h0M36 81h0M38 81h0M44 81h0M47 81h0M50 81h0M66 81h0M72 81h1M80 81h1M83 81h0M91 81h0M94 81h0M96 81h0M100 81h0M102 81h0M105 81h0M111 81h2M115 81h1M118 81h0M122 81h0M127 81h0M133 81h0M136 81h0M146 81h0M149 81h1M1 82h0M4 82h0M7 82h0M9 82h0M11 82h4M17 82h0M24 82h0M27 82h0M29 82h8M40 82h0M43 82h0M45 82h0M49 82h3M54 82h3M60 82h0M64 82h1M68 82h0M72 82h1M76 82h0M82 82h2M86 82h0M89 82h0M91 82h1M95 82h2M99 82h1M102 82h0M104 82h1M107 82h1M110 82h0M112 82h0M117 82h1M120 82h1M123 82h1M127 82h7M136 82h1M140 82h0M142 82h0M146 82h1M149 82h1M152 82h0M1 83h1M14 83h0M17 83h0M19 83h0M26 83h0M28 83h0M31 83h1M37 83h0M39 83h3M46 83h0M49 83h1M52 83h2M56 83h0M58 83h2M62 83h1M65 83h2M70 83h1M75 83h0M77 83h0M86 83h1M89 83h1M92 83h1M99 83h0M101 83h3M110 83h0M115 83h1M118 83h0M122 83h0M124 83h0M126 83h0M128 83h0M130 83h0M132 83h1M140 83h3M145 83h0M150 83h0M154 83h1M1 84h0M8 84h0M10 84h0M12 84h0M16 84h0M18 84h2M23 84h1M26 84h1M29 84h3M36 84h2M40 84h1M44 84h0M46 84h2M57 84h0M62 84h1M65 84h0M67 84h0M69 84h0M77 84h0M81 84h2M89 84h0M92 84h0M94 84h3M99 84h0M101 84h0M103 84h1M109 84h0M112 84h1M115 84h0M117 84h0M120 84h0M122 84h0M124 84h0M126 84h0M128 84h0M131 84h1M139 84h0M142 84h5M151 84h1M154 84h0M2 85h0M7 85h0M10 85h0M17 85h0M19 85h0M21 85h0M25 85h2M29 85h5M36 85h0M42 85h3M49 85h4M56 85h1M62 85h2M66 85h1M69 85h0M76 85h1M79 85h1M90 85h0M93 85h1M97 85h2M101 85h1M104 85h1M107 85h0M109 85h1M112 85h0M114 85h6M122 85h1M126 85h0M128 85h1M131 85h1M136 85h0M141 85h2M146 85h0M148 85h0M153 85h0M155 85h0M6 86h1M12 86h2M17 86h1M20 86h0M25 86h2M29 86h0M31 86h0M33 86h0M36 86h1M42 86h0M48 86h1M52 86h1M56 86h0M58 86h0M63 86h0M69 86h0M72 86h0M76 86h0M79 86h0M82 86h0M84 86h1M89 86h1M98 86h2M105 86h0M115 86h1M125 86h0M127 86h0M129 86h0M132 86h1M136 86h1M146 86h0M149 86h1M154 86h0M3 87h0M7 87h1M11 87h0M16 87h0M20 87h0M24 87h0M27 87h0M29 87h0M34 87h0M38 87h0M46 87h0M48 87h1M56 87h1M61 87h0M67 87h0M69 87h4M77 87h0M80 87h0M82 87h0M90 87h0M93 87h0M95 87h0M98 87h1M103 87h0M105 87h0M110 87h0M118 87h1M121 87h1M124 87h0M127 87h0M130 87h0M134 87h0M139 87h0M142 87h1M145 87h0M149 87h0M155 87h0M1 88h0M5 88h0M8 88h1M11 88h0M13 88h2M18 88h2M24 88h0M28 88h0M35 88h0M40 88h0M42 88h0M53 88h1M56 88h2M65 88h0M69 88h0M72 88h0M74 88h0M76 88h0M78 88h1M81 88h2M86 88h0M89 88h1M95 88h0M97 88h0M102 88h0M106 88h0M116 88h0M118 88h2M124 88h2M128 88h0M131 88h0M133 88h0M139 88h0M143 88h0M147 88h0M149 88h1M152 88h1M1 89h0M8 89h1M15 89h5M23 89h0M25 89h0M29 89h1M34 89h0M45 89h0M48 89h1M51 89h3M59 89h1M62 89h0M67 89h0M70 89h0M72 89h0M74 89h0M86 89h0M89 89h0M93 89h0M95 89h2M99 89h0M102 89h1M105 89h0M108 89h0M110 89h0M123 89h0M125 89h0M131 89h0M134 89h0M136 89h0M140 89h0M143 89h0M145 89h0M150 89h0M152 89h2M1 90h1M8 90h0M14 90h0M16 90h0M29 90h0M32 90h1M42 90h0M47 90h4M54 90h0M58 90h0M63 90h0M67 90h0M74 90h0M78 90h0M81 90h0M89 90h0M91 90h0M93 90h0M98 90h1M102 90h0M105 90h0M107 90h0M110 90h1M114 90h0M117 90h0M123 90h0M125 90h1M129 90h0M132 90h0M134 90h0M140 90h0M143 90h1M1 91h0M3 91h0M7 91h3M12 91h0M16 91h0M18 91h0M20 91h0M22 91h0M26 91h1M29 91h7M40 91h0M42 91h0M48 91h1M51 91h3M57 91h1M62 91h1M65 91h0M67 91h1M71 91h0M73 91h1M76 91h0M78 91h0M80 91h7M93 91h3M98 91h3M103 91h0M105 91h0M109 91h1M112 91h3M117 91h2M122 91h0M125 91h1M129 91h0M132 91h0M135 91h3M140 91h0M142 91h2M146 91h0M148 91h0M150 91h5M6 92h1M11 92h0M13 92h1M18 92h1M21 92h2M25 92h7M35 92h1M39 92h2M46 92h0M48 92h5M55 92h1M58 92h2M63 92h1M66 92h1M69 92h0M73 92h2M77 92h2M82 92h0M84 92h3M89 92h1M93 92h3M99 92h1M102 92h3M108 92h3M114 92h0M117 92h1M122 92h0M124 92h1M128 92h1M131 92h0M134 92h0M137 92h5M145 92h2M149 92h0M152 92h3M3 93h0M6 93h0M8 93h1M13 93h0M20 93h0M28 93h2M32 93h0M35 93h3M45 93h0M48 93h3M53 93h0M58 93h0M60 93h0M66 93h0M69 93h1M73 93h2M79 93h0M84 93h0M87 93h1M90 93h0M93 93h0M98 93h1M101 93h0M106 93h0M119 93h0M121 93h1M124 93h0M127 93h1M145 93h0M151 93h0M154 93h1M3 94h0M8 94h0M10 94h0M17 94h0M19 94h3M25 94h0M30 94h3M36 94h0M38 94h2M42 94h5M51 94h2M56 94h0M58 94h2M62 94h0M64 94h0M66 94h0M68 94h1M73 94h0M79 94h2M83 94h0M86 94h1M90 94h0M97 94h3M110 94h2M114 94h1M122 94h0M124 94h0M127 94h1M132 94h0M134 94h1M137 94h0M140 94h0M148 94h0M150 94h0M152 94h0M154 94h0M3 95h1M7 95h0M12 95h0M17 95h0M19 95h0M26 95h3M34 95h1M41 95h2M45 95h2M49 95h2M53 95h0M56 95h1M59 95h0M64 95h0M66 95h0M71 95h0M74 95h0M78 95h0M80 95h0M89 95h0M92 95h4M98 95h1M102 95h1M111 95h2M120 95h0M125 95h0M132 95h0M134 95h0M136 95h2M140 95h0M143 95h1M151 95h2M155 95h0M4 96h0M8 96h0M10 96h1M14 96h0M16 96h5M23 96h1M26 96h0M30 96h2M35 96h1M40 96h2M44 96h0M46 96h0M49 96h0M51 96h1M54 96h0M57 96h0M62 96h0M64 96h0M69 96h1M76 96h1M79 96h2M83 96h0M89 96h1M92 96h1M96 96h0M99 96h0M101 96h0M103 96h0M107 96h0M110 96h0M114 96h0M117 96h0M120 96h1M132 96h0M134 96h0M136 96h4M142 96h0M146 96h0M153 96h0M155 96h0M4 97h0M7 97h0M13 97h0M19 97h0M26 97h0M33 97h4M39 97h2M43 97h0M52 97h4M58 97h0M60 97h0M62 97h1M66 97h1M74 97h0M76 97h0M79 97h0M81 97h0M83 97h3M88 97h0M95 97h1M98 97h2M102 97h1M105 97h0M109 97h0M111 97h1M117 97h1M120 97h1M123 97h2M128 97h0M132 97h0M134 97h0M136 97h2M143 97h0M150 97h0M154 97h0M2 98h0M16 98h0M28 98h1M32 98h0M34 98h0M36 98h0M38 98h1M43 98h1M46 98h0M49 98h0M54 98h0M56 98h2M60 98h0M65 98h0M67 98h0M69 98h1M79 98h2M84 98h0M90 98h2M94 98h0M96 98h0M100 98h0M109 98h3M120 98h3M125 98h0M128 98h0M137 98h0M139 98h0M142 98h0M145 98h0M152 98h1M155 98h0M7 99h0M17 99h1M23 99h0M32 99h0M36 99h0M39 99h0M41 99h0M44 99h0M50 99h0M54 99h0M58 99h0M74 99h0M78 99h0M80 99h0M90 99h0M98 99h0M100 99h0M111 99h0M122 99h0M124 99h0M126 99h0M128 99h1M136 99h0M150 99h0M1 100h0M5 100h0M13 100h0M22 100h0M26 100h0M30 100h0M35 100h0M53 100h0M58 100h0M80 100h0M84 100h0M86 100h0M92 100h0M94 100h1M101 100h1M122 100h0M136 100h0M138 100h0M149 100h0M151 100h0M153 100h0M24 101h0M28 101h0M30 101h0M32 101h0M34 101h0M43 101h0M46 101h0M50 101h0M63 101h0M68 101h1M83 101h0M89 101h0M97 101h0M101 101h0M105 101h0M118 101h0M134 101h0M155 101h0M2 102h0M9 102h0M15 102h0M22 102h0M24 102h0M27 102h0M30 102h1M44 102h0M47 102h1M51 102h0M53 102h0M56 102h0M58 102h1M78 102h0M80 102h0M82 102h1M94 102h0M96 102h1M99 102h0M107 102h0M115 102h0M117 102h0M119 102h1M122 102h0M124 102h0M127 102h0M137 102h0M139 102h2M149 102h2M155 102h0M2 103h0M8 103h0M10 103h0M12 103h1M18 103h0M21 103h1M26 103h1M29 103h1M34 103h0M38 103h0M40 103h0M45 103h0M48 103h2M52 103h0M56 103h3M68 103h0M73 103h0M77 103h1M81 103h3M88 103h0M91 103h0M102 103h0M105 103h0M107 103h0M110 103h1M115 103h0M117 103h2M121 103h1M124 103h0M126 103h0M128 103h0M131 103h0M137 103h1M143 103h0M146 103h0M148 103h0M150 103h0M152 103h3M1 104h0M8 104h0M10 104h1M13 104h1M17 104h0M21 104h1M26 104h2M31 104h2M40 104h0M47 104h0M49 104h0M53 104h4M63 104h0M66 104h1M69 104h1M72 104h0M75 104h7M84 104h0M86 104h0M90 104h0M92 104h1M95 104h2M101 104h2M110 104h3M115 104h1M118 104h2M122 104h0M124 104h4M133 104h0M138 104h2M147 104h1M150 104h0M152 104h3M5 105h1M14 105h3M19 105h1M22 105h1M26 105h3M31 105h0M33 105h1M36 105h4M43 105h2M48 105h1M53 105h2M62 105h0M64 105h0M67 105h0M69 105h1M72 105h1M80 105h1M83 105h0M87 105h0M89 105h0M91 105h1M95 105h1M98 105h0M100 105h0M102 105h0M104 105h1M107 105h1M110 105h1M114 105h1M118 105h4M124 105h1M132 105h0M134 105h0M137 105h0M139 105h1M142 105h4M150 105h0M152 105h0M155 105h0M3 106h0M14 106h1M17 106h3M22 106h0M26 106h1M29 106h0M32 106h4M39 106h4M45 106h0M48 106h0M50 106h2M55 106h1M60 106h0M62 106h0M65 106h0M68 106h1M71 106h0M74 106h0M76 106h0M80 106h1M83 106h1M86 106h0M88 106h2M92 106h1M95 106h1M101 106h0M103 106h2M108 106h0M111 106h1M119 106h1M122 106h4M128 106h0M132 106h0M134 106h1M144 106h0M151 106h0M3 107h0M5 107h0M8 107h0M18 107h2M23 107h0M26 107h0M31 107h0M33 107h0M38 107h3M44 107h0M46 107h0M49 107h0M52 107h1M56 107h2M60 107h0M63 107h0M67 107h1M73 107h0M80 107h0M84 107h0M90 107h0M94 107h0M96 107h0M100 107h2M105 107h1M110 107h1M113 107h0M115 107h1M123 107h0M126 107h0M129 107h2M136 107h0M140 107h1M143 107h0M146 107h4M154 107h1M7 108h0M11 108h0M14 108h0M18 108h0M20 108h1M23 108h0M25 108h0M27 108h0M30 108h0M34 108h0M36 108h1M39 108h1M45 108h1M50 108h0M53 108h0M55 108h4M62 108h0M65 108h1M73 108h0M77 108h1M80 108h0M82 108h0M84 108h0M86 108h0M95 108h1M99 108h0M102 108h0M110 108h0M112 108h0M114 108h0M119 108h0M122 108h0M124 108h1M128 108h0M130 108h0M133 108h1M136 108h0M141 108h0M144 108h1M151 108h4M1 109h1M7 109h0M9 109h3M14 109h0M16 109h5M23 109h0M25 109h3M32 109h4M40 109h0M47 109h0M49 109h0M51 109h0M55 109h1M58 109h0M63 109h0M65 109h0M69 109h0M72 109h0M74 109h0M76 109h0M85 109h1M89 109h0M94 109h3M103 109h0M105 109h1M109 109h2M114 109h0M118 109h1M121 109h0M125 109h2M131 109h4M143 109h1M146 109h0M155 109h0M2 110h0M7 110h0M11 110h0M14 110h0M17 110h3M26 110h0M29 110h2M34 110h0M37 110h1M40 110h0M42 110h0M44 110h0M46 110h2M52 110h1M57 110h1M60 110h0M63 110h1M67 110h2M74 110h0M76 110h0M81 110h0M83 110h0M87 110h0M89 110h1M93 110h0M95 110h3M101 110h0M104 110h1M107 110h0M110 110h0M114 110h0M116 110h0M118 110h0M120 110h0M123 110h0M125 110h0M127 110h2M131 110h1M134 110h1M137 110h0M139 110h1M143 110h0M147 110h0M155 110h0M1 111h2M7 111h0M9 111h0M12 111h0M14 111h0M16 111h0M19 111h1M25 111h0M27 111h1M31 111h1M36 111h0M38 111h0M43 111h0M45 111h3M53 111h1M56 111h1M59 111h4M66 111h0M68 111h1M71 111h1M74 111h0M77 111h1M80 111h4M86 111h1M89 111h3M94 111h0M99 111h0M105 111h0M107 111h0M109 111h2M115 111h0M117 111h1M120 111h5M128 111h1M131 111h1M134 111h1M137 111h2M146 111h0M148 111h0M150 111h0M152 111h0M155 111h0M1 112h1M5 112h0M7 112h0M10 112h0M14 112h2M19 112h1M22 112h2M28 112h1M31 112h3M36 112h1M39 112h0M43 112h0M45 112h6M53 112h1M63 112h0M67 112h0M71 112h0M74 112h0M77 112h0M79 112h2M83 112h2M89 112h0M95 112h2M100 112h1M103 112h2M107 112h0M110 112h2M116 112h1M119 112h0M122 112h0M124 112h0M126 112h0M130 112h1M135 112h1M138 112h0M140 112h0M143 112h1M146 112h0M149 112h2M153 112h0M155 112h0M2 113h0M4 113h0M8 113h2M13 113h5M20 113h0M24 113h0M27 113h0M29 113h0M31 113h0M34 113h6M42 113h0M45 113h0M48 113h3M54 113h0M56 113h0M58 113h0M60 113h0M63 113h6M72 113h0M74 113h0M76 113h1M79 113h1M82 113h0M84 113h4M90 113h1M95 113h0M97 113h0M99 113h1M103 113h1M107 113h0M109 113h3M114 113h1M120 113h1M124 113h2M129 113h0M133 113h0M135 113h0M139 113h0M141 113h0M143 113h2M149 113h3M154 113h0M4 114h0M7 114h0M14 114h0M17 114h1M20 114h1M26 114h1M29 114h2M33 114h4M39 114h2M43 114h2M47 114h0M51 114h0M53 114h1M56 114h0M58 114h0M62 114h0M65 114h0M68 114h0M76 114h0M78 114h0M82 114h1M85 114h0M90 114h2M94 114h3M99 114h0M101 114h0M106 114h0M111 114h1M116 114h2M121 114h0M124 114h1M128 114h4M136 114h0M138 114h0M145 114h0M147 114h0M154 114h1M2 115h0M4 115h0M10 115h0M25 115h1M29 115h1M33 115h1M40 115h0M42 115h0M45 115h0M49 115h7M58 115h0M60 115h0M65 115h0M67 115h0M69 115h1M72 115h0M76 115h0M79 115h0M83 115h0M86 115h0M88 115h0M90 115h0M92 115h0M94 115h1M99 115h0M101 115h0M103 115h1M108 115h0M110 115h1M115 115h0M120 115h0M123 115h2M131 115h1M134 115h0M136 115h1M143 115h0M147 115h0M150 115h1M154 115h1M2 116h1M7 116h0M12 116h0M14 116h2M18 116h0M20 116h1M23 116h0M26 116h1M31 116h1M34 116h0M36 116h0M38 116h0M40 116h0M43 116h5M50 116h2M55 116h2M61 116h3M69 116h5M76 116h2M80 116h0M82 116h0M87 116h0M91 116h4M99 116h2M104 116h0M106 116h0M108 116h0M111 116h1M115 116h0M118 116h1M123 116h2M129 116h0M131 116h0M134 116h0M136 116h1M142 116h0M146 116h0M148 116h0M151 116h0M154 116h1M1 117h0M4 117h1M8 117h0M10 117h0M12 117h0M17 117h0M19 117h3M24 117h0M27 117h1M33 117h3M38 117h2M42 117h1M45 117h0M49 117h0M52 117h0M54 117h0M56 117h0M58 117h0M60 117h0M62 117h0M66 117h1M70 117h1M73 117h2M78 117h1M81 117h1M86 117h0M89 117h0M91 117h0M94 117h1M98 117h1M101 117h0M104 117h1M108 117h0M110 117h0M112 117h0M114 117h0M116 117h0M120 117h2M124 117h0M126 117h1M129 117h0M132 117h0M135 117h1M139 117h1M143 117h0M145 117h0M148 117h0M152 117h2M1 118h3M7 118h0M9 118h0M14 118h0M16 118h3M21 118h0M23 118h0M26 118h4M32 118h0M35 118h0M37 118h0M40 118h0M42 118h3M47 118h2M51 118h0M53 118h2M58 118h0M60 118h0M62 118h0M64 118h0M66 118h0M70 118h0M72 118h0M74 118h2M78 118h0M87 118h4M93 118h1M97 118h0M99 118h6M109 118h3M115 118h0M118 118h1M124 118h0M135 118h3M142 118h1M146 118h0M148 118h0M150 118h1M155 118h0M3 119h0M7 119h0M11 119h0M16 119h0M21 119h0M28 119h0M39 119h0M48 119h0M56 119h0M58 119h0M61 119h0M64 119h2M73 119h0M75 119h0M80 119h1M87 119h2M91 119h0M93 119h0M97 119h0M102 119h1M114 119h0M120 119h0M123 119h2M132 119h0M134 119h0M136 119h1M141 119h0M143 119h0M146 119h0M152 119h1M2 120h0M12 120h1M18 120h1M22 120h0M24 120h2M28 120h1M31 120h2M38 120h0M41 120h1M49 120h0M52 120h2M56 120h2M63 120h1M69 120h0M76 120h0M79 120h2M83 120h0M86 120h0M90 120h0M93 120h1M97 120h0M101 120h0M109 120h1M122 120h0M124 120h0M130 120h0M132 120h0M139 120h0M142 120h0M148 120h0M153 120h0M7 121h0M15 121h4M22 121h0M28 121h0M30 121h0M43 121h0M45 121h0M47 121h0M55 121h0M62 121h0M65 121h0M67 121h1M70 121h0M75 121h1M78 121h0M81 121h0M83 121h0M89 121h0M94 121h0M98 121h0M100 121h1M106 121h0M121 121h0M128 121h2M132 121h0M136 121h0M140 121h0M150 121h1M153 121h0M15 122h1M23 122h0M34 122h2M38 122h2M42 122h0M44 122h0M52 122h0M56 122h1M63 122h0M69 122h0M71 122h0M74 122h0M79 122h2M90 122h0M92 122h2M98 122h0M101 122h0M106 122h0M111 122h1M115 122h0M117 122h0M123 122h0M127 122h0M129 122h0M132 122h0M138 122h0M142 122h0M145 122h1M150 122h0M155 122h0M12 123h3M17 123h1M20 123h0M22 123h0M25 123h3M31 123h1M36 123h2M41 123h4M50 123h4M56 123h1M59 123h0M62 123h0M64 123h0M67 123h1M70 123h0M73 123h2M78 123h0M85 123h0M89 123h0M93 123h0M95 123h2M99 123h1M105 123h0M107 123h6M115 123h0M117 123h0M120 123h1M125 123h1M128 123h1M133 123h0M136 123h2M140 123h0M144 123h0M147 123h2M153 123h1M1 124h0M3 124h2M7 124h0M10 124h0M13 124h0M15 124h4M22 124h0M31 124h1M34 124h1M40 124h0M42 124h0M44 124h5M52 124h3M57 124h0M60 124h1M63 124h1M66 124h0M69 124h1M73 124h0M75 124h1M80 124h1M85 124h1M89 124h1M93 124h1M96 124h0M98 124h1M101 124h0M104 124h0M108 124h0M110 124h0M115 124h0M118 124h0M120 124h2M124 124h8M136 124h3M143 124h0M146 124h1M149 124h0M152 124h3M3 125h0M6 125h0M12 125h0M20 125h0M22 125h1M28 125h4M40 125h2M45 125h0M51 125h0M53 125h0M57 125h0M63 125h1M67 125h1M71 125h0M75 125h0M80 125h2M90 125h0M93 125h3M101 125h0M105 125h0M107 125h0M110 125h1M114 125h0M118 125h0M124 125h1M135 125h0M138 125h0M143 125h0M146 125h0M149 125h1M153 125h0M155 125h0M1 126h1M7 126h1M10 126h1M20 126h0M24 126h0M26 126h0M30 126h1M33 126h0M35 126h0M38 126h0M41 126h0M48 126h0M50 126h0M52 126h0M55 126h4M63 126h0M66 126h1M69 126h0M74 126h0M76 126h0M80 126h0M83 126h0M85 126h1M92 126h4M102 126h0M104 126h0M111 126h0M115 126h0M117 126h1M120 126h1M125 126h0M128 126h0M130 126h1M136 126h0M139 126h0M142 126h1M150 126h0M153 126h2M16 127h0M20 127h1M23 127h7M32 127h0M35 127h1M38 127h0M41 127h0M48 127h0M51 127h1M54 127h3M60 127h0M63 127h1M66 127h2M70 127h0M73 127h0M76 127h0M79 127h0M81 127h5M88 127h0M93 127h0M97 127h2M103 127h0M106 127h0M112 127h0M114 127h1M118 127h0M120 127h0M124 127h1M128 127h0M131 127h0M134 127h0M136 127h0M138 127h0M140 127h0M142 127h1M145 127h1M152 127h1M155 127h0M10 128h1M13 128h0M17 128h0M20 128h0M22 128h0M24 128h1M27 128h6M36 128h1M41 128h1M47 128h1M50 128h1M53 128h1M56 128h2M63 128h5M70 128h1M73 128h1M78 128h0M80 128h1M83 128h0M85 128h2M89 128h0M91 128h0M93 128h3M99 128h2M103 128h2M107 128h0M110 128h2M115 128h0M117 128h1M120 128h2M125 128h1M130 128h1M134 128h0M137 128h0M139 128h1M143 128h3M150 128h0M152 128h0M154 128h0M11 129h1M18 129h0M20 129h1M25 129h0M28 129h4M38 129h0M43 129h0M47 129h0M51 129h2M55 129h3M64 129h0M67 129h0M71 129h0M73 129h0M76 129h0M79 129h0M81 129h0M85 129h1M88 129h0M90 129h0M92 129h2M99 129h0M101 129h0M103 129h2M110 129h0M114 129h0M120 129h0M136 129h1M142 129h0M149 129h0M2 130h0M7 130h0M10 130h0M17 130h0M26 130h1M32 130h0M43 130h2M51 130h1M57 130h0M62 130h0M64 130h0M67 130h0M75 130h0M78 130h1M82 130h1M86 130h0M88 130h0M99 130h0M101 130h2M107 130h1M110 130h0M113 130h0M117 130h0M122 130h0M129 130h0M132 130h2M136 130h0M138 130h0M2 131h0M8 131h0M11 131h0M16 131h0M19 131h0M22 131h0M28 131h1M31 131h0M39 131h1M42 131h0M46 131h2M50 131h0M53 131h0M57 131h0M63 131h0M66 131h1M70 131h0M72 131h0M75 131h0M81 131h6M90 131h0M96 131h0M99 131h1M104 131h0M110 131h2M114 131h1M122 131h0M125 131h1M131 131h0M135 131h0M140 131h0M144 131h0M147 131h0M149 131h1M154 131h0M12 132h0M16 132h3M21 132h0M23 132h0M28 132h0M30 132h0M39 132h0M42 132h2M48 132h2M52 132h0M54 132h0M58 132h1M63 132h0M67 132h0M70 132h0M72 132h0M83 132h0M85 132h1M89 132h3M95 132h0M97 132h0M101 132h0M108 132h0M116 132h0M121 132h1M133 132h0M138 132h0M143 132h1M153 132h1M11 133h0M13 133h0M15 133h0M18 133h0M23 133h2M29 133h0M35 133h0M38 133h0M41 133h0M49 133h0M66 133h0M68 133h0M76 133h1M81 133h0M95 133h0M102 133h0M108 133h0M115 133h1M120 133h0M129 133h1M141 133h1M147 133h0M25 134h0M32 134h1M46 134h0M52 134h0M64 134h0M66 134h0M70 134h0M72 134h0M81 134h0M85 134h1M92 134h0M118 134h0M125 134h0M135 134h0M138 134h0M140 134h0M144 134h0M146 134h0M151 134h0M153 134h0M25 135h0M31 135h0M53 135h0M68 135h0M80 135h0M87 135h0M89 135h1M102 135h0M107 135h0M110 135h0M122 135h0M135 135h0M138 135h0M144 135h0M22 136h0M25 136h0M27 136h0M30 136h0M38 136h0M42 136h0M44 136h1M51 136h0M53 136h0M56 136h0M64 136h0M66 136h0M79 136h0M86 136h0M88 136h2M95 136h0M102 136h0M105 136h1M117 136h0M124 136h1M128 136h0M137 136h1M144 136h0M24 137h0M27 137h2M35 137h0M40 137h1M45 137h1M48 137h0M50 137h1M53 137h1M59 137h1M64 137h1M69 137h1M84 137h0M86 137h0M90 137h0M96 137h1M103 137h0M105 137h0M111 137h1M115 137h0M119 137h0M125 137h0M129 137h0M132 137h0M134 137h0M143 137h1M147 137h2M23 138h1M28 138h2M36 138h0M39 138h1M42 138h3M49 138h1M55 138h1M58 138h0M60 138h2M65 138h2M70 138h0M79 138h0M83 138h0M89 138h1M92 138h4M98 138h0M100 138h0M103 138h0M105 138h0M107 138h0M113 138h0M116 138h1M125 138h0M129 138h0M132 138h0M134 138h0M138 138h0M142 138h1M148 138h0M154 138h0M27 139h0M31 139h0M38 139h0M43 139h1M47 139h1M52 139h3M57 139h1M63 139h2M67 139h0M76 139h0M78 139h0M83 139h0M85 139h0M87 139h0M90 139h1M93 139h0M95 139h0M97 139h1M101 139h2M105 139h0M112 139h0M114 139h0M120 139h2M136 139h0M143 139h1M146 139h0M152 139h0M155 139h0M24 140h0M26 140h0M29 140h0M32 140h0M34 140h0M37 140h0M39 140h0M41 140h0M45 140h0M50 140h0M54 140h0M77 140h1M81 140h3M89 140h0M91 140h0M95 140h1M99 140h1M102 140h0M105 140h0M107 140h0M111 140h0M115 140h1M125 140h0M129 140h0M132 140h0M134 140h0M146 140h0M154 140h0M33 141h0M53 141h1M59 141h0M62 141h0M71 141h0M80 141h0M83 141h0M95 141h0M98 141h0M104 141h0M111 141h1M120 141h0M126 141h0M128 141h0M131 141h0M135 141h1M141 141h0M35 142h0M37 142h0M39 142h1M46 142h0M48 142h0M50 142h0M57 142h0M63 142h1M68 142h2M81 142h1M85 142h0M87 142h0M91 142h0M95 142h0M105 142h0M107 142h0M110 142h3M118 142h0M121 142h1M126 142h0M130 142h0M135 142h0M139 142h0M142 142h0M149 142h1M152 142h3M46 143h0M51 143h1M56 143h0M60 143h0M65 143h1M69 143h1M76 143h0M78 143h0M80 143h0M83 143h0M86 143h0M89 143h0M96 143h0M99 143h0M103 143h0M113 143h0M115 143h0M119 143h0M134 143h0M138 143h0M140 143h0M143 143h0M151 143h0M155 143h0M46 144h0M49 144h0M52 144h0M57 144h0M67 144h0M70 144h0M72 144h1M79 144h0M82 144h1M85 144h0M90 144h1M96 144h0M99 144h0M110 144h0M114 144h0M123 144h0M125 144h0M140 144h4M146 144h1M154 144h1M32 145h0M35 145h0M49 145h0M53 145h2M57 145h1M63 145h0M69 145h1M76 145h0M80 145h0M82 145h2M86 145h0M89 145h1M92 145h1M95 145h0M100 145h0M104 145h3M110 145h0M112 145h0M114 145h2M118 145h0M123 145h0M126 145h0M135 145h2M142 145h0M144 145h1M154 145h0M33 146h0M45 146h0M47 146h0M49 146h0M51 146h0M57 146h0M63 146h0M65 146h0M70 146h4M80 146h0M82 146h2M90 146h0M93 146h0M96 146h0M98 146h0M100 146h0M104 146h0M110 146h0M112 146h0M116 146h0M118 146h0M120 146h1M124 146h0M126 146h0M134 146h0M137 146h1M141 146h0M143 146h0M145 146h0M154 146h0M27 147h0M29 147h0M31 147h1M35 147h0M45 147h0M47 147h1M51 147h2M56 147h0M63 147h0M65 147h4M74 147h0M76 147h3M81 147h0M84 147h7M93 147h3M99 147h0M101 147h1M104 147h0M107 147h0M111 147h0M113 147h0M116 147h2M123 147h0M125 147h1M129 147h0M134 147h5M144 147h0M147 147h0M149 147h1M152 147h0M154 147h1M27 148h0M36 148h0M49 148h0M51 148h2M57 148h0M60 148h0M64 148h1M73 148h0M78 148h1M82 148h3M87 148h1M98 148h0M100 148h2M104 148h1M109 148h0M111 148h0M115 148h0M120 148h0M123 148h0M129 148h0M131 148h1M134 148h1M137 148h1M142 148h4M152 148h1M28 149h0M31 149h0M46 149h2M51 149h1M56 149h2M62 149h1M65 149h1M71 149h1M77 149h1M80 149h0M83 149h0M86 149h0M88 149h0M91 149h0M94 149h2M99 149h0M103 149h0M110 149h0M116 149h0M120 149h0M126 149h0M130 149h0M133 149h0M135 149h0M137 149h0M139 149h0M142 149h2M146 149h0M148 149h3M155 149h0M29 150h0M37 150h0M39 150h1M49 150h0M52 150h0M54 150h0M57 150h0M64 150h1M69 150h0M73 150h0M79 150h0M86 150h0M91 150h0M103 150h0M105 150h0M110 150h0M115 150h0M122 150h0M125 150h0M140 150h0M143 150h0M150 150h0M153 150h0M35 151h0M41 151h3M46 151h0M48 151h0M51 151h0M53 151h0M55 151h0M57 151h1M65 151h0M69 151h2M81 151h0M89 151h0M92 151h0M95 151h1M99 151h2M104 151h1M107 151h0M110 151h0M112 151h1M116 151h0M118 151h0M120 151h1M124 151h0M126 151h0M129 151h1M135 151h1M140 151h1M149 151h2M50 152h0M52 152h2M63 152h0M65 152h0M73 152h0M79 152h1M84 152h0M92 152h2M96 152h0M105 152h2M110 152h0M123 152h0M129 152h0M140 152h0M151 152h0M153 152h0M32 153h0M44 153h1M55 153h0M66 153h1M69 153h0M71 153h0M78 153h0M80 153h1M89 153h0M96 153h1M108 153h0M113 153h1M116 153h0M124 153h1M130 153h0M141 153h0M144 153h0M154 153h0M27 154h0M31 154h1M36 154h0M41 154h8M52 154h2M56 154h2M60 154h0M63 154h6M71 154h3M77 154h0M79 154h3M84 154h2M89 154h1M92 154h2M96 154h0M98 154h1M101 154h1M105 154h0M108 154h0M111 154h0M116 154h0M118 154h11M131 154h3M142 154h5M149 154h5M36 155h0M43 155h0M46 155h0M51 155h0M59 155h0M65 155h0M67 155h0M69 155h1M74 155h0M77 155h0M80 155h0M82 155h0M85 155h0M87 155h0M91 155h2M95 155h0M101 155h0M109 155h0M111 155h0M114 155h0M117 155h0M119 155h2M124 155h0M128 155h0M130 155h0M132 155h0M134 155h2M138 155h0M140 155h0M144 155h1M147 155h0M152 155h0M154 155h0M29 156h1M33 156h0M42 156h1M47 156h2M53 156h0M55 156h0M59 156h0M63 156h0M65 156h8M75 156h1M79 156h1M83 156h1M87 156h0M93 156h0M96 156h3M102 156h0M104 156h1M107 156h0M109 156h0M112 156h0M116 156h0M120 156h1M124 156h2M128 156h3M133 156h0M136 156h1M139 156h2M143 156h0M147 156h0M149 156h0M152 156h3M28 157h0M31 157h0M41 157h0M43 157h0M45 157h0M48 157h0M51 157h4M59 157h2M63 157h0M65 157h2M69 157h0M72 157h0M74 157h1M78 157h0M80 157h2M84 157h0M88 157h0M92 157h4M98 157h1M101 157h1M104 157h0M106 157h1M110 157h1M113 157h3M120 157h2M124 157h2M128 157h0M130 157h0M133 157h2M137 157h0M139 157h0M141 157h1M144 157h2M151 157h0M154 157h0" stroke="#c9c9c9" stroke-width="0.98"/>
<path d="M24 51h0M28 51h1M1 52h0M5 52h0M7 52h1M26 52h1M34 52h0M2 53h2M7 53h0M24 53h0M27 53h0M29 53h1M1 54h0M5 54h0M1 55h0M7 55h0M3 56h0M5 56h1M8 56h0M4 57h0M6 57h2M2 58h1M5 58h2M1 59h0M5 59h0M8 59h0M6 91h0M1 122h1M5 122h6M2 123h3M7 123h4M2 127h3M7 127h2M1 128h2M6 128h3M1 129h3M6 129h2M1 132h1M4 132h5M1 133h8M37 143h0M39 143h5M37 144h2M41 144h1M40 145h1M37 146h0M40 146h4M37 147h0M39 147h0M42 147h0M44 147h0M37 148h1M41 148h1M44 148h0M37 149h1M40 149h0M42 149h1M37 151h0M39 151h0M37 152h0M39 152h1M39 153h1M37 154h0M39 154h1M37 155h2M37 156h3M37 157h0M39 157h1" stroke="#72F000" stroke-width="1.25"/>
<path d="M3 134h0M5 134h3M14 134h0M1 135h0M3 135h0M11 135h0M13 135h1M22 141h2M26 141h0M24 142h2M23 143h0M26 143h0M22 144h1M25 144h0M23 145h0M25 145h1M24 146h2M22 147h4M24 148h0M22 149h1M25 149h0M22 150h2M22 151h3M23 152h2M22 153h3M22 154h4M23 155h3M22 156h1M25 156h0M22 157h4" stroke="#86F2E2" stroke-width="1.25"/>
<path d="M1 136h0M10 136h0M12 136h0M16 136h0M19 136h0M21 136h0M15 137h0M1 138h1M8 138h0M18 138h0M20 138h0M6 139h0M12 139h0M14 139h0M19 139h0M3 140h0M5 140h0M7 140h0M11 140h0M21 140h0M6 141h0M20 141h0M20 142h0M21 143h0M20 144h1M20 145h1M19 147h1M19 149h0M20 151h1M19 152h0M19 153h0M20 154h0M20 155h0M21 157h0" stroke="#7DF0E0" stroke-width="1.25"/>
<path d="M2 136h3M7 136h2M11 136h0M13 136h2M17 136h0M1 137h0M3 137h8M13 137h1M16 137h2M20 137h0M3 138h2M7 138h0M9 138h2M13 138h3M19 138h0M21 138h0M1 139h3M8 139h3M13 139h0M15 139h1M18 139h0M20 139h1M1 140h1M4 140h0M6 140h0M8 140h2M12 140h0M15 140h3M20 140h0M1 141h0M4 141h1M7 141h2M11 141h0M14 141h4M18 142h1M21 142h0M18 143h0M20 143h0M19 144h0M18 145h1M18 146h1M21 146h0M18 147h0M21 147h0M18 148h3M18 149h0M21 149h0M18 150h3M18 151h0M20 152h1M20 153h0M18 154h1M21 154h0M18 155h1M21 155h0M18 156h3M20 157h0" stroke="#16C2CC" stroke-width="1.25"/>
<path d="M1 142h0M3 142h0M11 142h0M1 143h0M3 143h0M6 143h0M12 143h0M14 143h0M16 143h1M2 144h0M7 144h0M10 144h1M14 144h0M1 145h0M3 145h3M9 145h0M11 145h0M13 145h0M3 146h0M12 146h0M14 146h0M17 146h0M14 147h1M12 148h0M14 149h1M13 150h0M12 151h1M13 152h0M12 154h0M13 155h1M14 157h0M17 157h0" stroke="#2A8CF0" stroke-width="1.25"/>
<path d="M4 142h2M8 142h2M12 142h5M2 143h0M4 143h1M7 143h4M15 143h0M3 144h2M9 144h0M12 144h1M15 144h0M17 144h0M2 145h0M7 145h1M10 145h0M12 145h0M15 145h2M1 146h0M4 146h2M8 146h2M13 146h0M16 146h0M12 147h1M16 147h1M13 148h4M12 149h1M16 149h1M12 150h0M17 150h0M14 151h0M16 151h1M12 152h0M14 152h3M12 153h3M17 153h0M13 154h2M17 154h0M12 155h0M15 155h1M12 156h5M12 157h1M15 157h1" stroke="#1838F0" stroke-width="1.25"/>
<path d="M7 142h0M1 144h0M2 146h0M7 146h0M11 146h0M1 147h10M1 148h10M1 149h5M8 149h3M6 150h5M14 150h0M6 151h2M10 151h1M15 151h0M11 152h0M11 153h0M16 153h0M11 154h0M16 154h0M11 155h0M11 156h0M11 157h0" stroke="#8A35E0" stroke-width="1.25"/>
<path d="M1 150h4M1 151h4M1 152h9M1 153h9M1 154h9M1 155h9M1 156h9M1 157h9" stroke="#F542F8" stroke-width="1.25"/>
</g>
<line x1="899" y1="1168.4" x2="1257" y2="805.6" stroke="#111" stroke-width="1.1"/>
<line x1="950" y1="805.6" x2="950" y2="1181" stroke="#F01010" stroke-width="3.6"/>
<rect x="899.0" y="805.6" width="358.0" height="362.8" fill="none" stroke="#000" stroke-width="2.4"/>
<text x="916.2" y="1164.6" font-size="10" text-anchor="middle">1</text>
<text x="903.4" y="922.4" font-size="10" text-anchor="middle">2</text>
<text x="987.7" y="1143.1" font-size="10" text-anchor="middle">3</text>
<line x1="885" y1="904.8" x2="899" y2="904.8" stroke="#000" stroke-width="3.8"/>
<text x="877.5" y="914.4" font-size="26.2" text-anchor="end">600</text>
<line x1="885" y1="1036" x2="899" y2="1036" stroke="#000" stroke-width="3.8"/>
<text x="877.5" y="1045.6" font-size="26.2" text-anchor="end">300</text>
<text x="888.5" y="1191.5" font-size="26.2" text-anchor="middle">0</text>
<line x1="1026.7" y1="1168.4" x2="1026.7" y2="1181" stroke="#000" stroke-width="3.8"/>
<line x1="1155.5" y1="1168.4" x2="1155.5" y2="1181" stroke="#000" stroke-width="3.8"/>
<text x="1023.5" y="1210.3" font-size="26.2" text-anchor="middle">300</text>
<text x="1152" y="1210.3" font-size="26.2" text-anchor="middle">600</text>
<text x="950" y="1210.3" font-size="26.2" text-anchor="middle" fill="#F01010">114</text>
<text x="1096.5" y="1248.5" font-size="27.6" text-anchor="middle">Rank</text>
<text x="828.5" y="975" font-size="27.6" text-anchor="middle" transform="rotate(-90 828.5 975)">Rank</text>

<text x="1388.5" y="757.9" font-size="48.3" font-weight="bold">d</text>
<circle cx="1686.0" cy="976.0" r="235.0" fill="#FFFEF8" stroke="#000" stroke-width="1.9" stroke-dasharray="11 10.2"/>
<circle cx="1686.0" cy="1008.7" r="192.5" fill="#FFF2CC" stroke="#000" stroke-width="2.2"/>
<circle cx="1686.0" cy="1055.0" r="136.0" fill="#EAFBFB" stroke="#000" stroke-width="2.2"/>
<text x="1685" y="781.8" font-size="31" text-anchor="middle" font-weight="bold">Screen I</text>
<text x="1684" y="811.2" font-size="27.6" text-anchor="middle" font-style="italic">n=114 hits</text>
<text x="1685" y="860.0" font-size="31" text-anchor="middle" font-weight="bold">Screen I</text>
<text x="1684" y="889.2" font-size="27.6" text-anchor="middle" font-style="italic">n=77 hits</text>
<text x="1684" y="912.2" font-size="24.15" text-anchor="middle" font-style="italic">(assessed in Screen II)</text>
<text x="1685" y="1047.0" font-size="31" text-anchor="middle" font-weight="bold">Screen II</text>
<text x="1684" y="1075.6" font-size="27.6" text-anchor="middle" font-style="italic">n=39 hits</text>

<text x="-1" y="1286.5" font-size="48.3" font-weight="bold">e</text>
<text x="654.3" y="1326.8" font-size="34.5" text-anchor="middle">Biological Process</text>
<rect x="532.0" y="1341.5" width="243.0" height="368.5" fill="none" stroke="#000" stroke-width="2.2"/>
<line x1="532.0" y1="1710" x2="532.0" y2="1729.8" stroke="#000" stroke-width="2.2"/>
<text x="532.0" y="1760.7" font-size="27.6" text-anchor="middle">0</text>
<line x1="592.75" y1="1710" x2="592.75" y2="1729.8" stroke="#000" stroke-width="2.2"/>
<text x="592.75" y="1760.7" font-size="27.6" text-anchor="middle">2</text>
<line x1="653.5" y1="1710" x2="653.5" y2="1729.8" stroke="#000" stroke-width="2.2"/>
<text x="653.5" y="1760.7" font-size="27.6" text-anchor="middle">4</text>
<line x1="714.25" y1="1710" x2="714.25" y2="1729.8" stroke="#000" stroke-width="2.2"/>
<text x="714.25" y="1760.7" font-size="27.6" text-anchor="middle">6</text>
<line x1="775.0" y1="1710" x2="775.0" y2="1729.8" stroke="#000" stroke-width="2.2"/>
<text x="775.0" y="1760.7" font-size="27.6" text-anchor="middle">8</text>
<text x="654" y="1784.7" font-size="27.6" text-anchor="middle">-log10(p-value)</text>
<line x1="512.6" y1="1376" x2="723" y2="1376" stroke="#000" stroke-width="2.5"/>
<circle cx="723.0" cy="1376.0" r="18.4" fill="#000" stroke="none" stroke-width="1"/>
<text x="505.3" y="1385" font-size="27.85" text-anchor="end">DNA repair</text>
<line x1="512.6" y1="1426.2" x2="634" y2="1426.2" stroke="#000" stroke-width="2.5"/>
<circle cx="634.0" cy="1426.2" r="13.8" fill="#000" stroke="none" stroke-width="1"/>
<text x="505.3" y="1435.2" font-size="27.85" text-anchor="end">DNA recombination</text>
<line x1="512.6" y1="1476.5" x2="578" y2="1476.5" stroke="#000" stroke-width="2.5"/>
<circle cx="578.0" cy="1476.5" r="13.8" fill="#000" stroke="none" stroke-width="1"/>
<text x="505.3" y="1485.5" font-size="27.85" text-anchor="end">transcription by RNA polymerase II</text>
<line x1="512.6" y1="1526.2" x2="576.6" y2="1526.2" stroke="#000" stroke-width="2.5"/>
<circle cx="576.6" cy="1526.2" r="11.5" fill="#000" stroke="none" stroke-width="1"/>
<text x="505.3" y="1535.2" font-size="27.85" text-anchor="end">chromatin organization</text>
<line x1="512.6" y1="1577" x2="578.5" y2="1577" stroke="#000" stroke-width="2.5"/>
<circle cx="578.5" cy="1577.0" r="10.0" fill="#000" stroke="none" stroke-width="1"/>
<text x="505.3" y="1586" font-size="27.85" text-anchor="end">DNA replication</text>
<line x1="512.6" y1="1627" x2="575.7" y2="1627" stroke="#000" stroke-width="2.5"/>
<circle cx="575.7" cy="1627.0" r="10.0" fill="#000" stroke="none" stroke-width="1"/>
<text x="505.3" y="1636" font-size="27.85" text-anchor="end">amino acid metabolic process</text>
<line x1="512.6" y1="1677.3" x2="574" y2="1677.3" stroke="#000" stroke-width="2.5"/>
<circle cx="574.0" cy="1677.3" r="8.3" fill="#000" stroke="none" stroke-width="1"/>
<text x="505.3" y="1686.3" font-size="27.85" text-anchor="end">regulation of protein modification process</text>
<text x="705.3" y="1545" font-size="27.6" text-anchor="middle" font-style="italic">Number</text>
<text x="705.3" y="1573" font-size="27.6" text-anchor="middle" font-style="italic">of genes</text>
<circle cx="695.5" cy="1610.0" r="18.4" fill="#000" stroke="none" stroke-width="1"/>
<text x="733" y="1616.8" font-size="27.6" text-anchor="middle">10</text>
<circle cx="695.5" cy="1650.0" r="13.8" fill="#000" stroke="none" stroke-width="1"/>
<text x="733" y="1656.8" font-size="27.6" text-anchor="middle">6</text>
<circle cx="695.5" cy="1681.4" r="7.8" fill="#000" stroke="none" stroke-width="1"/>
<text x="733" y="1688.2" font-size="27.6" text-anchor="middle">2</text>

<text x="905" y="1287" font-size="48.3" font-weight="bold">f</text>
<text x="1252.5" y="1321" font-size="34.5" text-anchor="middle">Screen I</text>
<rect x="1140.5" y="1576.0" width="54.5" height="113.8" fill="#E9A319" stroke="#0a0a0a" stroke-width="2.2"/>
<rect x="1226.6" y="1385.7" width="54.8" height="304.1" fill="url(#hatO)" stroke="#0a0a0a" stroke-width="2.2"/>
<rect x="1313.0" y="1658.8" width="55.4" height="31.0" fill="url(#chkO)" stroke="#0a0a0a" stroke-width="2.2"/>
<rect x="1100.0" y="1626.6" width="200.0" height="15.8" fill="#fff" stroke="none" stroke-width="0"/>
<path d="M1110.8 1625.3 V1335.8 H1399 V1692.8" fill="none" stroke="#000" stroke-width="2.2"/>
<line x1="1110.8" y1="1643.6" x2="1110.8" y2="1689.8" stroke="#000" stroke-width="2.2"/>
<line x1="1091" y1="1689.8" x2="1400" y2="1689.8" stroke="#000" stroke-width="2.2"/>
<line x1="1091" y1="1335.8" x2="1110.8" y2="1335.8" stroke="#000" stroke-width="2.2"/>
<text x="1083.5" y="1344.0" font-size="27.2" text-anchor="end">100</text>
<line x1="1091" y1="1394" x2="1110.8" y2="1394" stroke="#000" stroke-width="2.2"/>
<text x="1083.5" y="1402.2" font-size="27.2" text-anchor="end">80</text>
<line x1="1091" y1="1452.5" x2="1110.8" y2="1452.5" stroke="#000" stroke-width="2.2"/>
<text x="1083.5" y="1460.7" font-size="27.2" text-anchor="end">60</text>
<line x1="1091" y1="1510.5" x2="1110.8" y2="1510.5" stroke="#000" stroke-width="2.2"/>
<text x="1083.5" y="1518.7" font-size="27.2" text-anchor="end">40</text>
<line x1="1091" y1="1569.5" x2="1110.8" y2="1569.5" stroke="#000" stroke-width="2.2"/>
<text x="1083.5" y="1577.7" font-size="27.2" text-anchor="end">20</text>
<line x1="1091" y1="1689.8" x2="1110.8" y2="1689.8" stroke="#000" stroke-width="2.2"/>
<text x="1083.5" y="1698.0" font-size="27.2" text-anchor="end">0</text>
<line x1="1091" y1="1666.9" x2="1110.8" y2="1666.9" stroke="#000" stroke-width="2.2"/>
<line x1="1097.6" y1="1625.3" x2="1124" y2="1625.3" stroke="#000" stroke-width="2.2"/>
<line x1="1097.6" y1="1643.6" x2="1124" y2="1643.6" stroke="#000" stroke-width="2.2"/>
<text x="1083.5" y="1653" font-size="27.2" text-anchor="end">1×10<tspan dy="-9.5" font-size="21.5">-4</tspan></text>
<text x="1083.5" y="1677.2" font-size="27.2" text-anchor="end">5×10<tspan dy="-9.5" font-size="21.5">-5</tspan></text>
<text x="978.5" y="1516" font-size="27.6" text-anchor="middle" transform="rotate(-90 978.5 1516)">median recombination index</text>
<line x1="1167.6" y1="1689.8" x2="1167.6" y2="1709.7" stroke="#000" stroke-width="2.2"/>
<line x1="1254" y1="1689.8" x2="1254" y2="1709.7" stroke="#000" stroke-width="2.2"/>
<line x1="1340.4" y1="1689.8" x2="1340.4" y2="1709.7" stroke="#000" stroke-width="2.2"/>
<g transform="translate(1171.9 1742) rotate(-55)">
<text x="0" y="0" font-size="31" text-anchor="end" font-style="italic">wt</text>
</g>
<g transform="translate(1251.9 1730.5) rotate(-55)">
<text x="0" y="0" font-size="31" text-anchor="end" font-style="italic">tho</text>
<text x="23" y="26" font-size="27.6" text-anchor="end" font-style="italic">(hpr1<tspan font-style="normal" font-size="90%">Δ</tspan>)</text>
</g>
<g transform="translate(1356.2 1728.4) rotate(-55)">
<text x="0" y="0" font-size="31" text-anchor="end" font-style="italic">rad52<tspan font-style="normal" font-size="90%">Δ</tspan></text>
</g>
<line x1="1180.5" y1="1376" x2="1259.8" y2="1376" stroke="#000" stroke-width="2.1"/>
<text x="1221" y="1382.5" font-size="34" text-anchor="middle" font-weight="bold">****</text>
<text x="1500.5" y="1287" font-size="48.3" font-weight="bold">g</text>
<text x="1780.8" y="1321" font-size="34.5" text-anchor="middle">Screen II</text>
<rect x="1677.7" y="1530.8" width="54.6" height="159.7" fill="#1BAE96" stroke="#0a0a0a" stroke-width="2.2"/>
<rect x="1763.8" y="1379.5" width="55.2" height="311.0" fill="url(#hatG)" stroke="#0a0a0a" stroke-width="2.2"/>
<rect x="1849.6" y="1640.0" width="56.2" height="50.5" fill="url(#chkG)" stroke="#0a0a0a" stroke-width="2.2"/>
<path d="M1648.8 1690.5 V1335.5 H1936.3 V1693.5" fill="none" stroke="#000" stroke-width="2.2"/>
<line x1="1628.6" y1="1690.5" x2="1937.3" y2="1690.5" stroke="#000" stroke-width="2.2"/>
<line x1="1628.6" y1="1335.5" x2="1648.8" y2="1335.5" stroke="#000" stroke-width="2.2"/>
<text x="1620.5" y="1343.7" font-size="27.2" text-anchor="end">100</text>
<line x1="1628.6" y1="1406.5" x2="1648.8" y2="1406.5" stroke="#000" stroke-width="2.2"/>
<text x="1620.5" y="1414.7" font-size="27.2" text-anchor="end">80</text>
<line x1="1628.6" y1="1477.5" x2="1648.8" y2="1477.5" stroke="#000" stroke-width="2.2"/>
<text x="1620.5" y="1485.7" font-size="27.2" text-anchor="end">60</text>
<line x1="1628.6" y1="1548.5" x2="1648.8" y2="1548.5" stroke="#000" stroke-width="2.2"/>
<text x="1620.5" y="1556.7" font-size="27.2" text-anchor="end">40</text>
<line x1="1628.6" y1="1619.5" x2="1648.8" y2="1619.5" stroke="#000" stroke-width="2.2"/>
<text x="1620.5" y="1627.7" font-size="27.2" text-anchor="end">20</text>
<line x1="1628.6" y1="1690.5" x2="1648.8" y2="1690.5" stroke="#000" stroke-width="2.2"/>
<text x="1620.5" y="1698.7" font-size="27.2" text-anchor="end">0</text>
<text x="1574.5" y="1510.6" font-size="27.6" text-anchor="middle" transform="rotate(-90 1574.5 1510.6)">% of recombinants</text>
<line x1="1704.7" y1="1690.5" x2="1704.7" y2="1709.7" stroke="#000" stroke-width="2.2"/>
<line x1="1790.8" y1="1690.5" x2="1790.8" y2="1709.7" stroke="#000" stroke-width="2.2"/>
<line x1="1877.5" y1="1690.5" x2="1877.5" y2="1709.7" stroke="#000" stroke-width="2.2"/>
<g transform="translate(1703.5 1742) rotate(-55)">
<text x="0" y="0" font-size="31" text-anchor="end" font-style="italic">wt</text>
</g>
<g transform="translate(1783.5 1730.5) rotate(-55)">
<text x="0" y="0" font-size="31" text-anchor="end" font-style="italic">tho</text>
<text x="23" y="26" font-size="27.6" text-anchor="end" font-style="italic">(mft1<tspan font-style="normal" font-size="90%">Δ</tspan>)</text>
</g>
<g transform="translate(1887.8 1728.4) rotate(-55)">
<text x="0" y="0" font-size="31" text-anchor="end" font-style="italic">rad52<tspan font-style="normal" font-size="90%">Δ</tspan></text>
</g>
<line x1="1709" y1="1354" x2="1879.5" y2="1354" stroke="#000" stroke-width="2.1"/>
<text x="1806.9" y="1362" font-size="34" text-anchor="middle" font-weight="bold">****</text>
<line x1="1709" y1="1372.4" x2="1788.5" y2="1372.4" stroke="#000" stroke-width="2.6"/>
<text x="1751" y="1380.5" font-size="34" text-anchor="middle" font-weight="bold">****</text>

<text x="-3" y="1885" font-size="48.3" font-weight="bold">h</text>
<text x="280.8" y="1898.5" font-size="34.5" text-anchor="middle">DNA:RNA hybrid</text>
<text x="280.8" y="1926.4" font-size="34.5" text-anchor="middle">levels</text>
<path d="M107.8 2299 V1944.8 H441 V2302" fill="none" stroke="#000" stroke-width="2.2"/>
<line x1="87.4" y1="2299" x2="442" y2="2299" stroke="#000" stroke-width="2.2"/>
<line x1="87.4" y1="2299.0" x2="107.8" y2="2299.0" stroke="#000" stroke-width="2.2"/>
<text x="80.8" y="2307.7" font-size="28.3" text-anchor="end">0</text>
<line x1="87.4" y1="2228.16" x2="107.8" y2="2228.16" stroke="#000" stroke-width="2.2"/>
<text x="80.8" y="2236.8599999999997" font-size="28.3" text-anchor="end">1</text>
<line x1="87.4" y1="2157.32" x2="107.8" y2="2157.32" stroke="#000" stroke-width="2.2"/>
<text x="80.8" y="2166.02" font-size="28.3" text-anchor="end">2</text>
<line x1="87.4" y1="2086.48" x2="107.8" y2="2086.48" stroke="#000" stroke-width="2.2"/>
<text x="80.8" y="2095.18" font-size="28.3" text-anchor="end">3</text>
<line x1="87.4" y1="2015.6399999999999" x2="107.8" y2="2015.6399999999999" stroke="#000" stroke-width="2.2"/>
<text x="80.8" y="2024.34" font-size="28.3" text-anchor="end">4</text>
<line x1="87.4" y1="1944.8" x2="107.8" y2="1944.8" stroke="#000" stroke-width="2.2"/>
<text x="80.8" y="1953.5" font-size="28.3" text-anchor="end">5</text>
<text x="40.3" y="2134.9" font-size="27.6" text-anchor="middle" transform="rotate(-90 40.3 2134.9)">DNA:RNA hybrid levels</text>
<line x1="202.7" y1="2299" x2="202.7" y2="2319" stroke="#000" stroke-width="2.2"/>
<line x1="345.2" y1="2299" x2="345.2" y2="2319" stroke="#000" stroke-width="2.2"/>
<line x1="202.7" y1="2095" x2="202.7" y2="2258.5" stroke="#000" stroke-width="2.4"/>
<line x1="178.7" y1="2095" x2="227.5" y2="2095" stroke="#000" stroke-width="2.4"/>
<line x1="178.7" y1="2258.5" x2="227.5" y2="2258.5" stroke="#000" stroke-width="2.4"/>
<rect x="156.3" y="2162.7" width="93.7" height="49.3" fill="#CF3460" stroke="#000" stroke-width="2.6"/>
<line x1="156.3" y1="2187.3" x2="250" y2="2187.3" stroke="#000" stroke-width="2.6"/>
<line x1="345.2" y1="2212.4" x2="345.2" y2="2247.7" stroke="#000" stroke-width="2.4"/>
<line x1="321" y1="2212.4" x2="370" y2="2212.4" stroke="#000" stroke-width="2.4"/>
<line x1="321" y1="2247.7" x2="370" y2="2247.7" stroke="#000" stroke-width="2.4"/>
<rect x="298.5" y="2223.0" width="93.5" height="14.6" fill="#b4b4b4" stroke="#000" stroke-width="2.4"/>
<line x1="298.5" y1="2230" x2="392" y2="2230" stroke="#000" stroke-width="2.4"/>
<g fill="#efefef" stroke="#111" stroke-width="1.2">
<circle cx="203.0" cy="1965.4" r="2.7"/><circle cx="203.0" cy="1994.5" r="2.7"/><circle cx="203.0" cy="2073.5" r="2.7"/><circle cx="203.0" cy="2095.1" r="2.7"/><circle cx="203.0" cy="2113.0" r="2.7"/><circle cx="203.0" cy="2137.0" r="2.7"/><circle cx="198.2" cy="2145.4" r="2.7"/><circle cx="207.8" cy="2144.2" r="2.7"/><circle cx="203.0" cy="2158.5" r="2.7"/><circle cx="188.0" cy="2163.0" r="2.7"/><circle cx="217.9" cy="2161.8" r="2.7"/><circle cx="198.2" cy="2166.9" r="2.7"/><circle cx="207.8" cy="2166.9" r="2.7"/><circle cx="193.1" cy="2170.8" r="2.7"/><circle cx="212.5" cy="2172.3" r="2.7"/><circle cx="203.0" cy="2175.9" r="2.7"/><circle cx="198.2" cy="2183.4" r="2.7"/><circle cx="207.8" cy="2180.7" r="2.7"/><circle cx="178.1" cy="2187.3" r="2.7"/><circle cx="188.0" cy="2189.1" r="2.7"/><circle cx="217.9" cy="2187.9" r="2.7"/><circle cx="228.1" cy="2187.3" r="2.7"/><circle cx="198.2" cy="2194.1" r="2.7"/><circle cx="207.8" cy="2193.6" r="2.7"/><circle cx="188.0" cy="2201.6" r="2.7"/><circle cx="198.2" cy="2202.8" r="2.7"/><circle cx="207.8" cy="2201.6" r="2.7"/><circle cx="217.9" cy="2198.3" r="2.7"/><circle cx="203.0" cy="2208.2" r="2.7"/><circle cx="183.2" cy="2212.7" r="2.7"/><circle cx="193.1" cy="2215.7" r="2.7"/><circle cx="223.0" cy="2214.8" r="2.7"/><circle cx="203.0" cy="2218.7" r="2.7"/><circle cx="213.1" cy="2218.1" r="2.7"/><circle cx="198.2" cy="2229.2" r="2.7"/><circle cx="207.8" cy="2225.6" r="2.7"/><circle cx="203.0" cy="2234.6" r="2.7"/><circle cx="203.0" cy="2250.7" r="2.7"/><circle cx="203.0" cy="2258.5" r="2.7"/><circle cx="345.2" cy="2197.1" r="2.7"/><circle cx="350.3" cy="2212.1" r="2.7"/><circle cx="340.4" cy="2215.7" r="2.7"/><circle cx="345.2" cy="2220.2" r="2.7"/><circle cx="315.8" cy="2225.0" r="2.7"/><circle cx="375.1" cy="2225.0" r="2.7"/><circle cx="325.4" cy="2227.7" r="2.7"/><circle cx="365.2" cy="2227.7" r="2.7"/><circle cx="335.3" cy="2229.8" r="2.7"/><circle cx="355.3" cy="2229.8" r="2.7"/><circle cx="345.2" cy="2231.6" r="2.7"/><circle cx="335.3" cy="2236.7" r="2.7"/><circle cx="355.3" cy="2237.6" r="2.7"/><circle cx="345.2" cy="2239.7" r="2.7"/><circle cx="335.3" cy="2244.1" r="2.7"/><circle cx="345.2" cy="2247.7" r="2.7"/><circle cx="355.3" cy="2247.7" r="2.7"/>
</g>
<text x="245.5" y="1983" font-size="27.6" font-style="italic" fill="#C8285A">ydl162c<tspan font-style="normal" font-size="90%">Δ</tspan></text>
<text x="301.8" y="2006" font-size="24.15" text-anchor="middle" font-style="italic" fill="#C8285A">(cdc9*)</text>
<text x="246.4" y="2105" font-size="27.6" font-style="italic" fill="#C8285A">rad27<tspan font-style="normal" font-size="90%">Δ</tspan></text>
<text x="247.9" y="2153.5" font-size="27.6" font-style="italic" fill="#C8285A">tho</text>
<line x1="209.6" y1="1993.3" x2="245.5" y2="1979.2" stroke="#000" stroke-width="2"/>
<line x1="206" y1="2112.4" x2="241" y2="2102.8" stroke="#000" stroke-width="2"/>
<line x1="206.6" y1="2172.9" x2="240.4" y2="2146.8" stroke="#000" stroke-width="2"/>
<line x1="209" y1="2047.8" x2="351" y2="2047.8" stroke="#000" stroke-width="2.1"/>
<text x="285.3" y="2055.5" font-size="34" text-anchor="middle" font-weight="bold">****</text>
<text x="201.5" y="2354.3" font-size="27.6" text-anchor="middle">Screen</text>
<text x="201.5" y="2381" font-size="27.6" text-anchor="middle">hits</text>
<text x="201.5" y="2407" font-size="25.4" text-anchor="middle" font-style="italic">(n=39)</text>
<text x="346.7" y="2354.3" font-size="27.6" text-anchor="middle" font-style="italic">wt</text>
<text x="346.7" y="2379" font-size="25.4" text-anchor="middle" font-style="italic">(n=17)</text>

<text x="505" y="1885.2" font-size="48.3" font-weight="bold">i</text>
<text x="598.5" y="1918" font-size="34.5" font-weight="bold">Okazaki Fragment Processing <tspan dx="3" font-weight="normal" font-style="italic" font-size="31">(short flap pathway)</tspan></text>
<rect x="568.6" y="1939.9" width="856.4" height="412.4" fill="#fff" stroke="#000" stroke-width="1.6"/>
<text x="836.6" y="2019.4" font-size="30">Exo1</text>
<path d="M874.4 2025.6 C880.6 2024.0 879.5 2023.7 887.5 2025.2 C895.5 2026.7 893.3 2024.8 898.4 2030.0 C903.6 2035.3 899.9 2032.9 902.8 2040.9 C905.7 2049.0 903.9 2044.6 907.2 2054.1 C910.5 2063.6 910.8 2061.0 912.7 2069.4 C914.5 2077.8 915.9 2074.5 912.7 2079.2 C909.4 2084.0 909.7 2082.5 902.8 2083.6 C895.9 2084.7 899.2 2085.1 891.9 2082.5 C884.6 2080.0 888.2 2081.1 880.9 2075.9 C873.7 2070.8 876.6 2073.8 870.0 2067.2 C863.4 2060.6 864.9 2062.1 861.3 2056.3 C857.6 2050.4 858.3 2055.5 859.1 2049.7 C859.8 2043.9 860.2 2045.3 863.4 2038.8 C866.7 2032.2 865.3 2034.4 868.9 2030.0 C872.6 2025.6 868.2 2027.2 874.4 2025.6 Z" fill="url(#gP)" stroke="#222" stroke-width="1"/>
<path d="M1021.0 2019.1 C1031.5 2016.9 1028.3 2016.9 1040.6 2018.0 C1053.0 2019.1 1047.6 2018.0 1058.1 2022.3 C1068.7 2026.7 1065.4 2023.8 1072.4 2031.1 C1079.3 2038.4 1077.5 2035.1 1078.9 2044.2 C1080.4 2053.3 1081.1 2051.2 1076.7 2058.4 C1072.4 2065.7 1076.4 2063.2 1065.8 2066.1 C1055.2 2069.0 1057.8 2067.6 1045.0 2067.2 C1032.3 2066.8 1038.1 2068.3 1027.5 2065.0 C1016.9 2061.7 1021.0 2063.6 1013.3 2057.4 C1005.6 2051.2 1008.2 2053.7 1004.6 2046.4 C1000.9 2039.1 1000.9 2042.8 1002.4 2035.5 C1003.8 2028.2 1002.7 2030.0 1008.9 2024.5 C1015.1 2019.1 1010.4 2021.3 1021.0 2019.1 Z" fill="url(#gG)" stroke="#222" stroke-width="1"/>
<path d="M1035.6 2148.2 C1039.8 2149.2 1038.6 2148.6 1043.6 2151.7 C1048.6 2154.7 1045.2 2154.4 1050.5 2157.4 C1055.9 2160.5 1054.0 2159.0 1059.7 2160.9 C1065.5 2162.8 1064.2 2161.1 1067.8 2163.2 C1071.5 2165.3 1068.8 2163.2 1070.7 2167.2 C1072.6 2171.2 1071.3 2168.7 1073.6 2175.3 C1075.9 2181.8 1076.1 2180.6 1077.6 2186.8 C1079.1 2192.9 1079.1 2189.5 1078.2 2193.7 C1077.2 2197.9 1078.6 2195.8 1074.7 2199.4 C1070.9 2203.1 1072.4 2201.6 1066.7 2204.6 C1060.9 2207.7 1063.2 2206.4 1057.4 2208.7 C1051.7 2211.0 1054.0 2211.3 1049.4 2211.5 C1044.8 2211.7 1047.1 2211.5 1043.6 2209.2 C1040.2 2206.9 1042.1 2208.3 1039.0 2204.6 C1036.0 2201.0 1037.9 2202.3 1034.4 2198.3 C1031.0 2194.3 1033.3 2196.0 1028.7 2192.5 C1024.1 2189.1 1025.6 2190.6 1020.6 2187.9 C1015.6 2185.2 1017.3 2187.2 1013.7 2184.5 C1010.0 2181.8 1011.2 2183.3 1009.7 2179.9 C1008.1 2176.4 1008.3 2178.1 1009.1 2174.1 C1009.9 2170.1 1008.9 2171.2 1012.0 2167.8 C1015.0 2164.3 1014.6 2167.0 1018.3 2163.8 C1021.9 2160.5 1020.2 2162.0 1022.9 2158.0 C1025.6 2154.0 1023.7 2154.7 1026.4 2151.7 C1029.0 2148.6 1027.9 2149.9 1031.0 2148.8 C1034.0 2147.6 1031.3 2147.3 1035.6 2148.2 Z" fill="url(#gT)" stroke="#222" stroke-width="1"/>
<path d="M909.9 2044.2 C925.7 2042.0 937.0 2047.6 947.1 2057.8" fill="none" stroke="#999" stroke-width="1.3"/>
<path d="M0 0 L-8 -3.2 L-8 3.2 Z" fill="#999" transform="translate(949.4 2060.0) rotate(42)"/>
<path d="M1038.5 2070.2 C1037.4 2085.4 1027.3 2096.7 1014.9 2102.9" fill="none" stroke="#999" stroke-width="1.3"/>
<path d="M0 0 L-8 -3.2 L-8 3.2 Z" fill="#999" transform="translate(1011.5 2104.6) rotate(152)"/>
<path d="M1026.1 2197.1 C1010.3 2201.1 997.9 2207.9 992.3 2219.1" fill="none" stroke="#999" stroke-width="1.3"/>
<path d="M0 0 L-8 -3.2 L-8 3.2 Z" fill="#999" transform="translate(990.6 2223.1) rotate(112)"/>
<line x1="859" y1="2110.8" x2="983" y2="2110.8" stroke="#000" stroke-width="3"/>
<path d="M956.7 2073.0 L1003.6 2110.8 H1113.6" fill="none" stroke="#000" stroke-width="3"/>
<path d="M949.4 2066.8 L964.1 2078.7" stroke="#E81010" stroke-width="2.8"/>
<line x1="859" y1="2120.4" x2="1113.6" y2="2120.4" stroke="#000" stroke-width="3"/>
<text x="831" y="2118.6" font-size="34.5" text-anchor="end" font-weight="bold">5’-flap removal</text>
<line x1="986.6" y1="2144.7" x2="986.6" y2="2167.9" stroke="#000" stroke-width="2.6"/>
<path d="M986.6 2180.5 L980.0 2159.5 L986.6 2167.48 L993.2 2159.5 Z" fill="#000"/>
<line x1="859" y1="2230.4" x2="981" y2="2230.4" stroke="#000" stroke-width="3"/>
<line x1="993.4" y1="2230.4" x2="1113.6" y2="2230.4" stroke="#000" stroke-width="3"/>
<line x1="859" y1="2240.6" x2="1113.6" y2="2240.6" stroke="#000" stroke-width="3"/>
<text x="838.8" y="2245" font-size="34.5" text-anchor="end" font-weight="bold">OF ligation</text>
<line x1="986.6" y1="2262" x2="986.6" y2="2285.4" stroke="#000" stroke-width="2.6"/>
<path d="M986.6 2298 L980.0 2277 L986.6 2284.98 L993.2 2277 Z" fill="#000"/>
<line x1="859" y1="2316.7" x2="1113.6" y2="2316.7" stroke="#000" stroke-width="3"/>
<line x1="859" y1="2326.3" x2="1113.6" y2="2326.3" stroke="#000" stroke-width="3"/>
<text x="1151.4" y="2017.7" font-size="31" font-style="italic" text-decoration="underline">SSE</text>
<text x="1151.4" y="2054.4" font-size="31">scRad27/hsFEN1</text>
<text x="1151.4" y="2091" font-size="31">(Dna2)</text>
<text x="1151.4" y="2182.5" font-size="31" font-style="italic" text-decoration="underline">DNA ligase</text>
<text x="1151.4" y="2216.9" font-size="31">scCdc9/hsLIG1</text>

<text x="1460" y="1885.2" font-size="48.3" font-weight="bold">j</text>
<text x="1766.5" y="1918" font-size="34.5" text-anchor="middle">DNA:RNA hybrid levels</text>
<path d="M1677.7 2254.4 V1957.3 H1878.5 V2257.4" fill="none" stroke="#000" stroke-width="2.2"/>
<line x1="1658.4" y1="2254.4" x2="1879.5" y2="2254.4" stroke="#000" stroke-width="2.2"/>
<line x1="1658.4" y1="1990" x2="1677.7" y2="1990" stroke="#000" stroke-width="2.4"/>
<text x="1650.6" y="1998" font-size="27.6" text-anchor="end">400</text>
<line x1="1658.4" y1="2056.2" x2="1677.7" y2="2056.2" stroke="#000" stroke-width="2.4"/>
<text x="1650.6" y="2064.2" font-size="27.6" text-anchor="end">300</text>
<line x1="1658.4" y1="2122" x2="1677.7" y2="2122" stroke="#000" stroke-width="2.4"/>
<text x="1650.6" y="2130" font-size="27.6" text-anchor="end">200</text>
<line x1="1658.4" y1="2187.8" x2="1677.7" y2="2187.8" stroke="#000" stroke-width="2.4"/>
<text x="1650.6" y="2195.8" font-size="27.6" text-anchor="end">100</text>
<line x1="1658.4" y1="2254.4" x2="1677.7" y2="2254.4" stroke="#000" stroke-width="2.4"/>
<text x="1650.6" y="2262.4" font-size="27.6" text-anchor="end">0</text>
<text x="1569.5" y="2122.5" font-size="27.6" text-anchor="middle" transform="rotate(-90 1569.5 2122.5)">Hybrid foci per nucleus</text>
<line x1="1734.6" y1="2254.4" x2="1734.6" y2="2273.7" stroke="#000" stroke-width="3"/>
<line x1="1820.7" y1="2254.4" x2="1820.7" y2="2273.7" stroke="#000" stroke-width="3"/>
<line x1="1734.9" y1="2113" x2="1734.9" y2="2192.7" stroke="#000" stroke-width="2.6"/>
<line x1="1720" y1="2113" x2="1750.3" y2="2113" stroke="#000" stroke-width="2.6"/>
<line x1="1720" y1="2192.7" x2="1750.3" y2="2192.7" stroke="#000" stroke-width="2.6"/>
<rect x="1707.6" y="2141.0" width="54.6" height="27.3" fill="#c2c2c2" stroke="#000" stroke-width="2.6"/>
<line x1="1707.6" y1="2154.8" x2="1762.2" y2="2154.8" stroke="#000" stroke-width="2.6"/>
<line x1="1820.7" y1="2059.4" x2="1820.7" y2="2202" stroke="#000" stroke-width="2.6"/>
<line x1="1806" y1="2059.4" x2="1836" y2="2059.4" stroke="#000" stroke-width="2.6"/>
<line x1="1806" y1="2202" x2="1836" y2="2202" stroke="#000" stroke-width="2.6"/>
<rect x="1792.7" y="2109.8" width="55.3" height="36.0" fill="#5e5e5e" stroke="#000" stroke-width="2.6"/>
<line x1="1792.7" y1="2127.8" x2="1848" y2="2127.8" stroke="#000" stroke-width="2.6"/>
<circle cx="1734.9" cy="2037.6" r="4.1" fill="none" stroke="#000" stroke-width="2.4"/>
<circle cx="1734.9" cy="2047.9" r="4.6" fill="none" stroke="#000" stroke-width="2.4"/>
<circle cx="1820.7" cy="2007.0" r="4.9" fill="none" stroke="#000" stroke-width="2.5"/>
<circle cx="1820.7" cy="2032.7" r="4.9" fill="none" stroke="#000" stroke-width="2.5"/>
<circle cx="1831.0" cy="2043.3" r="4.9" fill="none" stroke="#000" stroke-width="2.5"/>
<circle cx="1810.4" cy="2049.5" r="4.9" fill="none" stroke="#000" stroke-width="2.5"/>
<line x1="1731.4" y1="1981.2" x2="1822.3" y2="1981.2" stroke="#000" stroke-width="2.1"/>
<text x="1779" y="1988.5" font-size="34" text-anchor="middle" font-weight="bold">****</text>
<text x="1734.6" y="2243" font-size="20.7" text-anchor="middle" font-style="italic">n=38</text>
<text x="1821.3" y="2243" font-size="20.7" text-anchor="middle" font-style="italic">n=53</text>
<text x="1675.5" y="2298.7" font-size="27.6" text-anchor="end" font-style="italic">SC13</text>
<text x="1614.5" y="2321" font-size="20.7" text-anchor="middle" font-style="italic">(FEN1 inhibitor)</text>
<text x="1734.6" y="2305" font-size="27.6" text-anchor="middle">-</text>
<text x="1819.5" y="2306" font-size="27.6" text-anchor="middle">+</text>
<line x1="1711.5" y1="2332" x2="1848" y2="2332" stroke="#000" stroke-width="1.6"/>
<text x="1778" y="2370.2" font-size="27.6" text-anchor="middle" font-style="italic">MCF7 cells</text>
</svg>
</body></html>
